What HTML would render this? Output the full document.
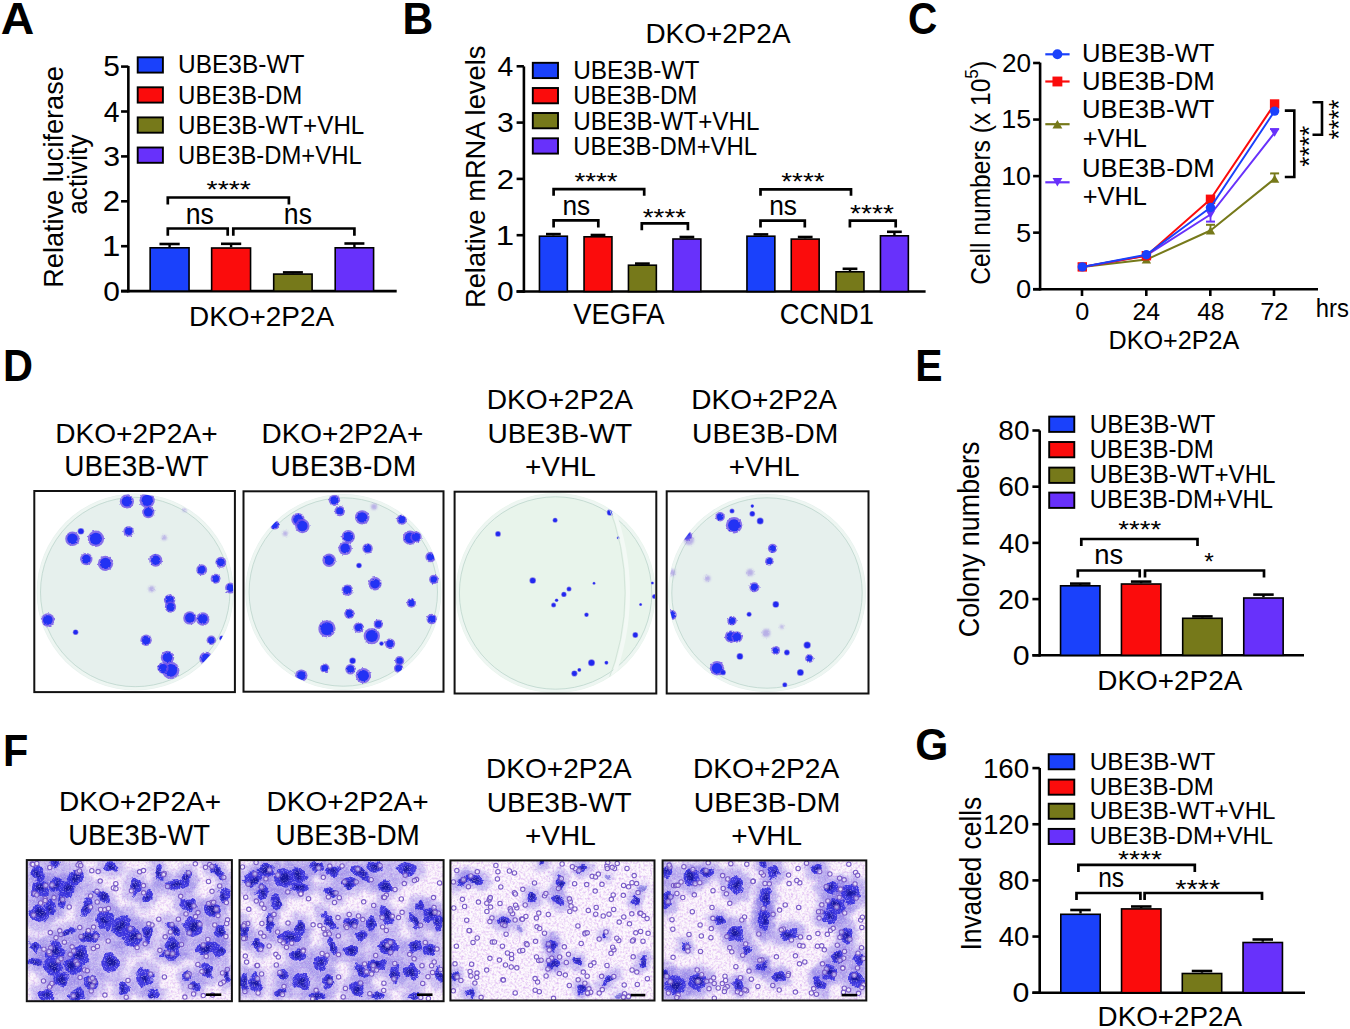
<!DOCTYPE html>
<html><head><meta charset="utf-8"><title>Figure</title>
<style>html,body{margin:0;padding:0;background:#fff;width:1350px;height:1029px;overflow:hidden}svg{display:block}text{font-family:"Liberation Sans",sans-serif}</style>
</head><body>
<svg width="1350" height="1029" viewBox="0 0 1350 1029" font-family="Liberation Sans, sans-serif">
<defs>
<filter id="blur1" x="-50%" y="-50%" width="200%" height="200%"><feGaussianBlur stdDeviation="0.8"/></filter>
<filter id="blur2" x="-50%" y="-50%" width="200%" height="200%"><feGaussianBlur stdDeviation="2"/></filter>
<filter id="tex1" x="0" y="0" width="100%" height="100%"><feTurbulence type="fractalNoise" baseFrequency="0.45" numOctaves="2" seed="1" result="n"/>
<feColorMatrix type="matrix" values="0 0 0 0 0.62  0 0 0 0 0.32  0 0 0 0 0.85  2.4 0 0 0 -1.0"/></filter>
<filter id="rough1" x="-10%" y="-10%" width="120%" height="120%"><feTurbulence type="fractalNoise" baseFrequency="0.12" numOctaves="2" seed="11" result="t"/>
<feDisplacementMap in="SourceGraphic" in2="t" scale="8" xChannelSelector="R" yChannelSelector="G"/><feGaussianBlur stdDeviation="0.7"/></filter>
<filter id="grain1" x="0" y="0" width="100%" height="100%"><feTurbulence type="fractalNoise" baseFrequency="0.8" numOctaves="1" seed="41"/>
<feColorMatrix type="matrix" values="0 0 0 0 0.93  0 0 0 0 0.8  0 0 0 0 0.95  3.0 0 0 0 -1.55"/></filter><filter id="tex2" x="0" y="0" width="100%" height="100%"><feTurbulence type="fractalNoise" baseFrequency="0.45" numOctaves="2" seed="2" result="n"/>
<feColorMatrix type="matrix" values="0 0 0 0 0.62  0 0 0 0 0.32  0 0 0 0 0.85  2.4 0 0 0 -1.0"/></filter>
<filter id="rough2" x="-10%" y="-10%" width="120%" height="120%"><feTurbulence type="fractalNoise" baseFrequency="0.12" numOctaves="2" seed="12" result="t"/>
<feDisplacementMap in="SourceGraphic" in2="t" scale="8" xChannelSelector="R" yChannelSelector="G"/><feGaussianBlur stdDeviation="0.7"/></filter>
<filter id="grain2" x="0" y="0" width="100%" height="100%"><feTurbulence type="fractalNoise" baseFrequency="0.8" numOctaves="1" seed="42"/>
<feColorMatrix type="matrix" values="0 0 0 0 0.93  0 0 0 0 0.8  0 0 0 0 0.95  3.0 0 0 0 -1.55"/></filter><filter id="tex3" x="0" y="0" width="100%" height="100%"><feTurbulence type="fractalNoise" baseFrequency="0.45" numOctaves="2" seed="3" result="n"/>
<feColorMatrix type="matrix" values="0 0 0 0 0.62  0 0 0 0 0.32  0 0 0 0 0.85  2.4 0 0 0 -1.0"/></filter>
<filter id="rough3" x="-10%" y="-10%" width="120%" height="120%"><feTurbulence type="fractalNoise" baseFrequency="0.12" numOctaves="2" seed="13" result="t"/>
<feDisplacementMap in="SourceGraphic" in2="t" scale="8" xChannelSelector="R" yChannelSelector="G"/><feGaussianBlur stdDeviation="0.7"/></filter>
<filter id="grain3" x="0" y="0" width="100%" height="100%"><feTurbulence type="fractalNoise" baseFrequency="0.8" numOctaves="1" seed="43"/>
<feColorMatrix type="matrix" values="0 0 0 0 0.93  0 0 0 0 0.8  0 0 0 0 0.95  3.0 0 0 0 -1.55"/></filter><filter id="tex4" x="0" y="0" width="100%" height="100%"><feTurbulence type="fractalNoise" baseFrequency="0.45" numOctaves="2" seed="4" result="n"/>
<feColorMatrix type="matrix" values="0 0 0 0 0.62  0 0 0 0 0.32  0 0 0 0 0.85  2.4 0 0 0 -1.0"/></filter>
<filter id="rough4" x="-10%" y="-10%" width="120%" height="120%"><feTurbulence type="fractalNoise" baseFrequency="0.12" numOctaves="2" seed="14" result="t"/>
<feDisplacementMap in="SourceGraphic" in2="t" scale="8" xChannelSelector="R" yChannelSelector="G"/><feGaussianBlur stdDeviation="0.7"/></filter>
<filter id="grain4" x="0" y="0" width="100%" height="100%"><feTurbulence type="fractalNoise" baseFrequency="0.8" numOctaves="1" seed="44"/>
<feColorMatrix type="matrix" values="0 0 0 0 0.93  0 0 0 0 0.8  0 0 0 0 0.95  3.0 0 0 0 -1.55"/></filter><filter id="prough1" x="-10%" y="-10%" width="120%" height="120%"><feTurbulence type="fractalNoise" baseFrequency="0.5" numOctaves="1" seed="21" result="t"/>
<feDisplacementMap in="SourceGraphic" in2="t" scale="2.5" xChannelSelector="R" yChannelSelector="G"/></filter><filter id="prough2" x="-10%" y="-10%" width="120%" height="120%"><feTurbulence type="fractalNoise" baseFrequency="0.5" numOctaves="1" seed="22" result="t"/>
<feDisplacementMap in="SourceGraphic" in2="t" scale="2.5" xChannelSelector="R" yChannelSelector="G"/></filter><filter id="prough3" x="-10%" y="-10%" width="120%" height="120%"><feTurbulence type="fractalNoise" baseFrequency="0.5" numOctaves="1" seed="23" result="t"/>
<feDisplacementMap in="SourceGraphic" in2="t" scale="2.5" xChannelSelector="R" yChannelSelector="G"/></filter><filter id="prough4" x="-10%" y="-10%" width="120%" height="120%"><feTurbulence type="fractalNoise" baseFrequency="0.5" numOctaves="1" seed="24" result="t"/>
<feDisplacementMap in="SourceGraphic" in2="t" scale="2.5" xChannelSelector="R" yChannelSelector="G"/></filter></defs>
<rect width="1350" height="1029" fill="#fff"/>
<rect x="33.3" y="490.0" width="202.6" height="203.1" fill="#fff"/>
<circle cx="135.2" cy="592.0" r="98.5" fill="#e6f0ed"/>
<circle cx="135.2" cy="592.0" r="96.5" fill="none" stroke="#eef6f2" stroke-width="3"/>
<circle cx="135.2" cy="592.0" r="94.7" fill="none" stroke="#bcd6cd" stroke-width="0.8"/>
<clipPath id="pc33"><circle cx="135.2" cy="592.0" r="98.0"/></clipPath>
<g clip-path="url(#pc33)"><g filter="url(#prough1)">
<circle cx="126.9" cy="501.4" r="7.1000000000000005" fill="#6f50e8" opacity="0.8"/>
<circle cx="126.9" cy="501.4" r="5.120000000000001" fill="#2430f4"/>
<circle cx="147.2" cy="500.3" r="7.7" fill="#6f50e8" opacity="0.8"/>
<circle cx="147.2" cy="500.3" r="5.6000000000000005" fill="#2430f4"/>
<circle cx="148.3" cy="512.1" r="6.2" fill="#6f50e8" opacity="0.8"/>
<circle cx="148.3" cy="512.1" r="4.4" fill="#2430f4"/>
<circle cx="184.6" cy="509.9" r="2" fill="#8a6fe0" opacity="0.5" filter="url(#blur1)"/>
<circle cx="128.6" cy="531.3" r="5.2" fill="#6f50e8" opacity="0.8"/>
<circle cx="128.6" cy="531.3" r="3.6" fill="#2430f4"/>
<circle cx="72.4" cy="538.8" r="7.2" fill="#6f50e8" opacity="0.8"/>
<circle cx="72.4" cy="538.8" r="5.2" fill="#2430f4"/>
<circle cx="95.9" cy="538.8" r="8.2" fill="#6f50e8" opacity="0.8"/>
<circle cx="95.9" cy="538.8" r="6.0" fill="#2430f4"/>
<circle cx="164.3" cy="537.7" r="2.5" fill="#8a6fe0" opacity="0.5" filter="url(#blur1)"/>
<circle cx="86.3" cy="559.1" r="6.2" fill="#6f50e8" opacity="0.8"/>
<circle cx="86.3" cy="559.1" r="4.4" fill="#2430f4"/>
<circle cx="105.5" cy="563.4" r="7.7" fill="#6f50e8" opacity="0.8"/>
<circle cx="105.5" cy="563.4" r="5.6000000000000005" fill="#2430f4"/>
<circle cx="155.7" cy="560.2" r="6.5" fill="#6f50e8" opacity="0.8"/>
<circle cx="155.7" cy="560.2" r="4.64" fill="#2430f4"/>
<circle cx="220.9" cy="562.3" r="5.5" fill="#6f50e8" opacity="0.8"/>
<circle cx="220.9" cy="562.3" r="3.84" fill="#2430f4"/>
<circle cx="201.7" cy="569.8" r="5.5" fill="#6f50e8" opacity="0.8"/>
<circle cx="201.7" cy="569.8" r="3.84" fill="#2430f4"/>
<circle cx="215.6" cy="578.8" r="5.0" fill="#6f50e8" opacity="0.8"/>
<circle cx="215.6" cy="578.8" r="3.44" fill="#2430f4"/>
<circle cx="230.6" cy="588" r="5.5" fill="#6f50e8" opacity="0.8"/>
<circle cx="230.6" cy="588" r="3.84" fill="#2430f4"/>
<circle cx="151.5" cy="589" r="3" fill="#8a6fe0" opacity="0.5" filter="url(#blur1)"/>
<circle cx="169.6" cy="600" r="5.7" fill="#6f50e8" opacity="0.8"/>
<circle cx="169.6" cy="600" r="4.0" fill="#2430f4"/>
<circle cx="170.5" cy="607" r="5.7" fill="#6f50e8" opacity="0.8"/>
<circle cx="170.5" cy="607" r="4.0" fill="#2430f4"/>
<circle cx="189.9" cy="617.9" r="6.7" fill="#6f50e8" opacity="0.8"/>
<circle cx="189.9" cy="617.9" r="4.800000000000001" fill="#2430f4"/>
<circle cx="202.8" cy="619" r="6.7" fill="#6f50e8" opacity="0.8"/>
<circle cx="202.8" cy="619" r="4.800000000000001" fill="#2430f4"/>
<circle cx="47.8" cy="620" r="6.7" fill="#6f50e8" opacity="0.8"/>
<circle cx="47.8" cy="620" r="4.800000000000001" fill="#2430f4"/>
<circle cx="146.1" cy="640.3" r="5.7" fill="#6f50e8" opacity="0.8"/>
<circle cx="146.1" cy="640.3" r="4.0" fill="#2430f4"/>
<circle cx="211.3" cy="640.3" r="4.7" fill="#6f50e8" opacity="0.8"/>
<circle cx="211.3" cy="640.3" r="3.2" fill="#2430f4"/>
<circle cx="167.5" cy="657.4" r="6.7" fill="#6f50e8" opacity="0.8"/>
<circle cx="167.5" cy="657.4" r="4.800000000000001" fill="#2430f4"/>
<circle cx="170.7" cy="670.3" r="8.7" fill="#6f50e8" opacity="0.8"/>
<circle cx="170.7" cy="670.3" r="6.4" fill="#2430f4"/>
<circle cx="206" cy="658.5" r="6.7" fill="#6f50e8" opacity="0.8"/>
<circle cx="206" cy="658.5" r="4.800000000000001" fill="#2430f4"/>
<circle cx="163" cy="668" r="5.7" fill="#6f50e8" opacity="0.8"/>
<circle cx="163" cy="668" r="4.0" fill="#2430f4"/>
</g>
<circle cx="80.9" cy="531.3" r="3.3" fill="#5a48ea" opacity="0.7"/>
<circle cx="80.9" cy="531.3" r="2.55" fill="#2028f0"/>
<circle cx="75.6" cy="632.2" r="2.8" fill="#5a48ea" opacity="0.7"/>
<circle cx="75.6" cy="632.2" r="2.125" fill="#2028f0"/>
<circle cx="222" cy="638.2" r="2.8" fill="#5a48ea" opacity="0.7"/>
<circle cx="222" cy="638.2" r="2.125" fill="#2028f0"/>
</g>
<rect x="34.3" y="491.0" width="200.6" height="201.1" fill="none" stroke="#111" stroke-width="2"/>
<rect x="242.5" y="490.3" width="202.0" height="202.4" fill="#fff"/>
<circle cx="343.3" cy="592.0" r="98.0" fill="#e6f0ed"/>
<circle cx="343.3" cy="592.0" r="96.0" fill="none" stroke="#eef6f2" stroke-width="3"/>
<circle cx="343.3" cy="592.0" r="94.2" fill="none" stroke="#bcd6cd" stroke-width="0.8"/>
<clipPath id="pc242"><circle cx="343.3" cy="592.0" r="97.5"/></clipPath>
<g clip-path="url(#pc242)"><g filter="url(#prough2)">
<circle cx="334.4" cy="500.3" r="5.7" fill="#6f50e8" opacity="0.8"/>
<circle cx="334.4" cy="500.3" r="4.0" fill="#2430f4"/>
<circle cx="339.8" cy="511" r="5.2" fill="#6f50e8" opacity="0.8"/>
<circle cx="339.8" cy="511" r="3.6" fill="#2430f4"/>
<circle cx="362.2" cy="517.4" r="7.2" fill="#6f50e8" opacity="0.8"/>
<circle cx="362.2" cy="517.4" r="5.2" fill="#2430f4"/>
<circle cx="374" cy="506.7" r="3" fill="#8a6fe0" opacity="0.5" filter="url(#blur1)"/>
<circle cx="401.8" cy="519.6" r="5.2" fill="#6f50e8" opacity="0.8"/>
<circle cx="401.8" cy="519.6" r="3.6" fill="#2430f4"/>
<circle cx="274.6" cy="524.9" r="4.7" fill="#6f50e8" opacity="0.8"/>
<circle cx="274.6" cy="524.9" r="3.2" fill="#2430f4"/>
<circle cx="298" cy="519.6" r="6.7" fill="#6f50e8" opacity="0.8"/>
<circle cx="298" cy="519.6" r="4.800000000000001" fill="#2430f4"/>
<circle cx="302.4" cy="526" r="7.2" fill="#6f50e8" opacity="0.8"/>
<circle cx="302.4" cy="526" r="5.2" fill="#2430f4"/>
<circle cx="285.2" cy="533.5" r="2.5" fill="#8a6fe0" opacity="0.5" filter="url(#blur1)"/>
<circle cx="348.3" cy="536.7" r="6.7" fill="#6f50e8" opacity="0.8"/>
<circle cx="348.3" cy="536.7" r="4.800000000000001" fill="#2430f4"/>
<circle cx="345.1" cy="548.4" r="6.7" fill="#6f50e8" opacity="0.8"/>
<circle cx="345.1" cy="548.4" r="4.800000000000001" fill="#2430f4"/>
<circle cx="367.6" cy="548.4" r="5.2" fill="#6f50e8" opacity="0.8"/>
<circle cx="367.6" cy="548.4" r="3.6" fill="#2430f4"/>
<circle cx="410" cy="537.7" r="7.2" fill="#6f50e8" opacity="0.8"/>
<circle cx="410" cy="537.7" r="5.2" fill="#2430f4"/>
<circle cx="416" cy="537" r="5.7" fill="#6f50e8" opacity="0.8"/>
<circle cx="416" cy="537" r="4.0" fill="#2430f4"/>
<circle cx="430.6" cy="557" r="5.2" fill="#6f50e8" opacity="0.8"/>
<circle cx="430.6" cy="557" r="3.6" fill="#2430f4"/>
<circle cx="329.1" cy="560.2" r="6.7" fill="#6f50e8" opacity="0.8"/>
<circle cx="329.1" cy="560.2" r="4.800000000000001" fill="#2430f4"/>
<circle cx="375" cy="583.7" r="6.7" fill="#6f50e8" opacity="0.8"/>
<circle cx="375" cy="583.7" r="4.800000000000001" fill="#2430f4"/>
<circle cx="433.8" cy="579.4" r="4.7" fill="#6f50e8" opacity="0.8"/>
<circle cx="433.8" cy="579.4" r="3.2" fill="#2430f4"/>
<circle cx="347.3" cy="590.1" r="5.7" fill="#6f50e8" opacity="0.8"/>
<circle cx="347.3" cy="590.1" r="4.0" fill="#2430f4"/>
<circle cx="411.4" cy="603" r="4.7" fill="#6f50e8" opacity="0.8"/>
<circle cx="411.4" cy="603" r="3.2" fill="#2430f4"/>
<circle cx="349.4" cy="613.6" r="5.2" fill="#6f50e8" opacity="0.8"/>
<circle cx="349.4" cy="613.6" r="3.6" fill="#2430f4"/>
<circle cx="431.7" cy="619" r="5.2" fill="#6f50e8" opacity="0.8"/>
<circle cx="431.7" cy="619" r="3.6" fill="#2430f4"/>
<circle cx="326.9" cy="628.6" r="8.7" fill="#6f50e8" opacity="0.8"/>
<circle cx="326.9" cy="628.6" r="6.4" fill="#2430f4"/>
<circle cx="358.6" cy="627.5" r="5.2" fill="#6f50e8" opacity="0.8"/>
<circle cx="358.6" cy="627.5" r="3.6" fill="#2430f4"/>
<circle cx="378.3" cy="624.3" r="4.7" fill="#6f50e8" opacity="0.8"/>
<circle cx="378.3" cy="624.3" r="3.2" fill="#2430f4"/>
<circle cx="371.8" cy="636.1" r="8.2" fill="#6f50e8" opacity="0.8"/>
<circle cx="371.8" cy="636.1" r="6.0" fill="#2430f4"/>
<circle cx="390" cy="643.6" r="5.2" fill="#6f50e8" opacity="0.8"/>
<circle cx="390" cy="643.6" r="3.6" fill="#2430f4"/>
<circle cx="399.6" cy="660.7" r="4.7" fill="#6f50e8" opacity="0.8"/>
<circle cx="399.6" cy="660.7" r="3.2" fill="#2430f4"/>
<circle cx="398.6" cy="668.2" r="4.7" fill="#6f50e8" opacity="0.8"/>
<circle cx="398.6" cy="668.2" r="3.2" fill="#2430f4"/>
<circle cx="350.5" cy="669.2" r="5.2" fill="#6f50e8" opacity="0.8"/>
<circle cx="350.5" cy="669.2" r="3.6" fill="#2430f4"/>
<circle cx="324.8" cy="668.2" r="4.7" fill="#6f50e8" opacity="0.8"/>
<circle cx="324.8" cy="668.2" r="3.2" fill="#2430f4"/>
<circle cx="363.3" cy="675.6" r="7.7" fill="#6f50e8" opacity="0.8"/>
<circle cx="363.3" cy="675.6" r="5.6000000000000005" fill="#2430f4"/>
<circle cx="301.3" cy="675.6" r="6.2" fill="#6f50e8" opacity="0.8"/>
<circle cx="301.3" cy="675.6" r="4.4" fill="#2430f4"/>
</g>
<circle cx="359" cy="565.5" r="2.8" fill="#5a48ea" opacity="0.7"/>
<circle cx="359" cy="565.5" r="2.125" fill="#2028f0"/>
<circle cx="381.5" cy="643.6" r="2.3" fill="#5a48ea" opacity="0.7"/>
<circle cx="381.5" cy="643.6" r="1.7" fill="#2028f0"/>
<circle cx="352.6" cy="660.7" r="3.3" fill="#5a48ea" opacity="0.7"/>
<circle cx="352.6" cy="660.7" r="2.55" fill="#2028f0"/>
</g>
<rect x="243.5" y="491.3" width="200.0" height="200.4" fill="none" stroke="#111" stroke-width="2"/>
<rect x="453.6" y="490.7" width="203.7" height="203.8" fill="#fff"/>
<circle cx="555.6" cy="593.0" r="100.0" fill="#e8f4eb"/>
<circle cx="555.6" cy="593.0" r="98.0" fill="none" stroke="#eef6f2" stroke-width="3"/>
<circle cx="555.6" cy="593.0" r="96.2" fill="none" stroke="#bcd6cd" stroke-width="0.8"/>
<clipPath id="pc453"><circle cx="555.6" cy="593.0" r="99.5"/></clipPath>
<g clip-path="url(#pc453)"><g filter="url(#prough3)">
</g>
<circle cx="498" cy="533.9" r="2.9" fill="#5a48ea" opacity="0.7"/>
<circle cx="498" cy="533.9" r="2.21" fill="#2028f0"/>
<circle cx="555.1" cy="520.2" r="2.5" fill="#5a48ea" opacity="0.7"/>
<circle cx="555.1" cy="520.2" r="1.87" fill="#2028f0"/>
<circle cx="610.1" cy="512.5" r="3.3" fill="#5a48ea" opacity="0.7"/>
<circle cx="610.1" cy="512.5" r="2.55" fill="#2028f0"/>
<circle cx="532.7" cy="580.5" r="3.3" fill="#5a48ea" opacity="0.7"/>
<circle cx="532.7" cy="580.5" r="2.55" fill="#2028f0"/>
<circle cx="569" cy="589" r="2.5" fill="#5a48ea" opacity="0.7"/>
<circle cx="569" cy="589" r="1.87" fill="#2028f0"/>
<circle cx="563.9" cy="594.4" r="2.6999999999999997" fill="#5a48ea" opacity="0.7"/>
<circle cx="563.9" cy="594.4" r="2.04" fill="#2028f0"/>
<circle cx="556.6" cy="600.2" r="1.8" fill="#5a48ea" opacity="0.7"/>
<circle cx="556.6" cy="600.2" r="1.275" fill="#2028f0"/>
<circle cx="553.6" cy="605" r="2.5" fill="#5a48ea" opacity="0.7"/>
<circle cx="553.6" cy="605" r="1.87" fill="#2028f0"/>
<circle cx="586.5" cy="614.7" r="2.3" fill="#5a48ea" opacity="0.7"/>
<circle cx="586.5" cy="614.7" r="1.7" fill="#2028f0"/>
<circle cx="594" cy="583.3" r="1.5" fill="#5a48ea" opacity="0.7"/>
<circle cx="594" cy="583.3" r="1.02" fill="#2028f0"/>
<circle cx="618.2" cy="537.7" r="1.5" fill="#5a48ea" opacity="0.7"/>
<circle cx="618.2" cy="537.7" r="1.02" fill="#2028f0"/>
<circle cx="654.5" cy="596.5" r="2.5" fill="#5a48ea" opacity="0.7"/>
<circle cx="654.5" cy="596.5" r="1.87" fill="#2028f0"/>
<circle cx="652.4" cy="583" r="1.5" fill="#5a48ea" opacity="0.7"/>
<circle cx="652.4" cy="583" r="1.02" fill="#2028f0"/>
<circle cx="640.6" cy="604.4" r="1.5" fill="#5a48ea" opacity="0.7"/>
<circle cx="640.6" cy="604.4" r="1.02" fill="#2028f0"/>
<circle cx="635.3" cy="635" r="2.9" fill="#5a48ea" opacity="0.7"/>
<circle cx="635.3" cy="635" r="2.21" fill="#2028f0"/>
<circle cx="591.5" cy="662.8" r="3.5" fill="#5a48ea" opacity="0.7"/>
<circle cx="591.5" cy="662.8" r="2.72" fill="#2028f0"/>
<circle cx="606.4" cy="662.8" r="2.0" fill="#5a48ea" opacity="0.7"/>
<circle cx="606.4" cy="662.8" r="1.4449999999999998" fill="#2028f0"/>
<circle cx="574.4" cy="673.5" r="3.0999999999999996" fill="#5a48ea" opacity="0.7"/>
<circle cx="574.4" cy="673.5" r="2.38" fill="#2028f0"/>
<circle cx="579.3" cy="669.9" r="2.0" fill="#5a48ea" opacity="0.7"/>
<circle cx="579.3" cy="669.9" r="1.4449999999999998" fill="#2028f0"/>
<circle cx="387.6" cy="593" r="240.4" fill="none" stroke="#f3f9f5" stroke-width="4"/>
<circle cx="387.6" cy="593" r="237.5" fill="none" stroke="#cfe2d6" stroke-width="0.9"/>
</g>
<rect x="454.6" y="491.7" width="201.7" height="201.8" fill="none" stroke="#111" stroke-width="2"/>
<rect x="665.7" y="490.3" width="203.8" height="204.2" fill="#fff"/>
<circle cx="767.0" cy="593.0" r="99.0" fill="#e6f0ed"/>
<circle cx="767.0" cy="593.0" r="97.0" fill="none" stroke="#eef6f2" stroke-width="3"/>
<circle cx="767.0" cy="593.0" r="95.2" fill="none" stroke="#bcd6cd" stroke-width="0.8"/>
<clipPath id="pc665"><circle cx="767.0" cy="593.0" r="98.5"/></clipPath>
<g clip-path="url(#pc665)"><g filter="url(#prough4)">
<circle cx="720.2" cy="516.8" r="4.7" fill="#6f50e8" opacity="0.8"/>
<circle cx="720.2" cy="516.8" r="3.2" fill="#2430f4"/>
<circle cx="734.1" cy="525.3" r="8.2" fill="#6f50e8" opacity="0.8"/>
<circle cx="734.1" cy="525.3" r="6.0" fill="#2430f4"/>
<circle cx="687.1" cy="536" r="5.0" fill="#6f50e8" opacity="0.8"/>
<circle cx="687.1" cy="536" r="3.44" fill="#2430f4"/>
<circle cx="689" cy="540" r="5" fill="#8a6fe0" opacity="0.5" filter="url(#blur1)"/>
<circle cx="772.6" cy="548.4" r="4.7" fill="#6f50e8" opacity="0.8"/>
<circle cx="772.6" cy="548.4" r="3.2" fill="#2430f4"/>
<circle cx="769.4" cy="561.2" r="4.3" fill="#6f50e8" opacity="0.8"/>
<circle cx="769.4" cy="561.2" r="2.8800000000000003" fill="#2430f4"/>
<circle cx="750.1" cy="572.4" r="3.5" fill="#8a6fe0" opacity="0.5" filter="url(#blur1)"/>
<circle cx="707.4" cy="578.4" r="3" fill="#8a6fe0" opacity="0.5" filter="url(#blur1)"/>
<circle cx="671.7" cy="572.4" r="3.5" fill="#8a6fe0" opacity="0.5" filter="url(#blur1)"/>
<circle cx="754.4" cy="587.3" r="5.0" fill="#6f50e8" opacity="0.8"/>
<circle cx="754.4" cy="587.3" r="3.44" fill="#2430f4"/>
<circle cx="671.7" cy="615.1" r="5.0" fill="#6f50e8" opacity="0.8"/>
<circle cx="671.7" cy="615.1" r="3.44" fill="#2430f4"/>
<circle cx="732" cy="620.7" r="4.7" fill="#6f50e8" opacity="0.8"/>
<circle cx="732" cy="620.7" r="3.2" fill="#2430f4"/>
<circle cx="731" cy="636.7" r="6.2" fill="#6f50e8" opacity="0.8"/>
<circle cx="731" cy="636.7" r="4.4" fill="#2430f4"/>
<circle cx="737" cy="637" r="5.7" fill="#6f50e8" opacity="0.8"/>
<circle cx="737" cy="637" r="4.0" fill="#2430f4"/>
<circle cx="766.2" cy="632.9" r="4" fill="#8a6fe0" opacity="0.5" filter="url(#blur1)"/>
<circle cx="781.8" cy="626.7" r="2" fill="#8a6fe0" opacity="0.5" filter="url(#blur1)"/>
<circle cx="775.8" cy="650.4" r="4.3" fill="#6f50e8" opacity="0.8"/>
<circle cx="775.8" cy="650.4" r="2.8800000000000003" fill="#2430f4"/>
<circle cx="809.4" cy="658.5" r="4.3" fill="#6f50e8" opacity="0.8"/>
<circle cx="809.4" cy="658.5" r="2.8800000000000003" fill="#2430f4"/>
<circle cx="717" cy="668.2" r="7.2" fill="#6f50e8" opacity="0.8"/>
<circle cx="717" cy="668.2" r="5.2" fill="#2430f4"/>
</g>
<circle cx="732" cy="511" r="2.5" fill="#5a48ea" opacity="0.7"/>
<circle cx="732" cy="511" r="1.87" fill="#2028f0"/>
<circle cx="752.3" cy="513.8" r="2.9" fill="#5a48ea" opacity="0.7"/>
<circle cx="752.3" cy="513.8" r="2.21" fill="#2028f0"/>
<circle cx="752.3" cy="506.1" r="1.8" fill="#5a48ea" opacity="0.7"/>
<circle cx="752.3" cy="506.1" r="1.275" fill="#2028f0"/>
<circle cx="760.2" cy="521" r="3.5" fill="#5a48ea" opacity="0.7"/>
<circle cx="760.2" cy="521" r="2.72" fill="#2028f0"/>
<circle cx="775.8" cy="604.4" r="3.3" fill="#5a48ea" opacity="0.7"/>
<circle cx="775.8" cy="604.4" r="2.55" fill="#2028f0"/>
<circle cx="749.1" cy="614.3" r="2.5" fill="#5a48ea" opacity="0.7"/>
<circle cx="749.1" cy="614.3" r="1.87" fill="#2028f0"/>
<circle cx="786.9" cy="652.5" r="2.9" fill="#5a48ea" opacity="0.7"/>
<circle cx="786.9" cy="652.5" r="2.21" fill="#2028f0"/>
<circle cx="807.2" cy="645.1" r="3.6999999999999997" fill="#5a48ea" opacity="0.7"/>
<circle cx="807.2" cy="645.1" r="2.8899999999999997" fill="#2028f0"/>
<circle cx="739.9" cy="656.4" r="3.3" fill="#5a48ea" opacity="0.7"/>
<circle cx="739.9" cy="656.4" r="2.55" fill="#2028f0"/>
<circle cx="723" cy="672.4" r="2.9" fill="#5a48ea" opacity="0.7"/>
<circle cx="723" cy="672.4" r="2.21" fill="#2028f0"/>
<circle cx="800.4" cy="672.4" r="3.5" fill="#5a48ea" opacity="0.7"/>
<circle cx="800.4" cy="672.4" r="2.72" fill="#2028f0"/>
<circle cx="784.8" cy="684.8" r="2.5" fill="#5a48ea" opacity="0.7"/>
<circle cx="784.8" cy="684.8" r="1.87" fill="#2028f0"/>
</g>
<rect x="666.7" y="491.3" width="201.8" height="202.2" fill="none" stroke="#111" stroke-width="2"/>
<svg x="26.8" y="860.1" width="205.1" height="141.10000000000002" viewBox="0 0 205.1 141.10000000000002" overflow="hidden">
<rect width="205.1" height="141.10000000000002" fill="#fcf7fc"/>
<rect width="205.1" height="141.10000000000002" filter="url(#tex1)" opacity="0.6"/>
<g filter="url(#rough1)">
<ellipse cx="11.9" cy="13.4" rx="12.4" ry="18.0" transform="rotate(-20 11.9 13.4)" fill="#7060e0" opacity="0.34" filter="url(#blur2)"/>
<ellipse cx="28.8" cy="3.5" rx="11.3" ry="9.1" transform="rotate(0 28.8 3.5)" fill="#7060e0" opacity="0.34" filter="url(#blur2)"/>
<ellipse cx="48.5" cy="17.6" rx="15.8" ry="15.8" transform="rotate(0 48.5 17.6)" fill="#7060e0" opacity="0.34" filter="url(#blur2)"/>
<ellipse cx="83.8" cy="6.4" rx="15.8" ry="11.3" transform="rotate(0 83.8 6.4)" fill="#7060e0" opacity="0.34" filter="url(#blur2)"/>
<ellipse cx="13.3" cy="28.9" rx="18.0" ry="18.0" transform="rotate(0 13.3 28.9)" fill="#7060e0" opacity="0.34" filter="url(#blur2)"/>
<ellipse cx="28.8" cy="24.7" rx="13.5" ry="13.5" transform="rotate(0 28.8 24.7)" fill="#7060e0" opacity="0.34" filter="url(#blur2)"/>
<ellipse cx="40.1" cy="28.9" rx="15.8" ry="15.8" transform="rotate(0 40.1 28.9)" fill="#7060e0" opacity="0.34" filter="url(#blur2)"/>
<ellipse cx="34.4" cy="40.2" rx="9.1" ry="16.9" transform="rotate(0 34.4 40.2)" fill="#7060e0" opacity="0.34" filter="url(#blur2)"/>
<ellipse cx="23.2" cy="47.2" rx="12.4" ry="15.8" transform="rotate(0 23.2 47.2)" fill="#7060e0" opacity="0.34" filter="url(#blur2)"/>
<ellipse cx="11.9" cy="54.3" rx="18.0" ry="18.0" transform="rotate(0 11.9 54.3)" fill="#7060e0" opacity="0.34" filter="url(#blur2)"/>
<ellipse cx="59.8" cy="47.2" rx="11.3" ry="19.1" transform="rotate(20 59.8 47.2)" fill="#7060e0" opacity="0.34" filter="url(#blur2)"/>
<ellipse cx="75.3" cy="35.9" rx="19.1" ry="10.2" transform="rotate(40 75.3 35.9)" fill="#7060e0" opacity="0.34" filter="url(#blur2)"/>
<ellipse cx="78.1" cy="59.9" rx="19.1" ry="18.0" transform="rotate(0 78.1 59.9)" fill="#7060e0" opacity="0.34" filter="url(#blur2)"/>
<ellipse cx="95.0" cy="66.9" rx="18.0" ry="22.4" transform="rotate(20 95.0 66.9)" fill="#7060e0" opacity="0.34" filter="url(#blur2)"/>
<ellipse cx="40.1" cy="71.2" rx="18.0" ry="9.1" transform="rotate(-15 40.1 71.2)" fill="#7060e0" opacity="0.34" filter="url(#blur2)"/>
<ellipse cx="62.6" cy="76.9" rx="19.1" ry="11.3" transform="rotate(0 62.6 76.9)" fill="#7060e0" opacity="0.34" filter="url(#blur2)"/>
<ellipse cx="7.7" cy="86.7" rx="13.5" ry="11.3" transform="rotate(0 7.7 86.7)" fill="#7060e0" opacity="0.34" filter="url(#blur2)"/>
<ellipse cx="28.8" cy="90.9" rx="19.1" ry="19.1" transform="rotate(0 28.8 90.9)" fill="#7060e0" opacity="0.34" filter="url(#blur2)"/>
<ellipse cx="52.7" cy="95.1" rx="19.1" ry="19.1" transform="rotate(0 52.7 95.1)" fill="#7060e0" opacity="0.34" filter="url(#blur2)"/>
<ellipse cx="83.8" cy="102.2" rx="16.9" ry="20.2" transform="rotate(0 83.8 102.2)" fill="#7060e0" opacity="0.34" filter="url(#blur2)"/>
<ellipse cx="26.0" cy="106.4" rx="18.0" ry="18.0" transform="rotate(0 26.0 106.4)" fill="#7060e0" opacity="0.34" filter="url(#blur2)"/>
<ellipse cx="45.7" cy="106.4" rx="16.9" ry="16.9" transform="rotate(0 45.7 106.4)" fill="#7060e0" opacity="0.34" filter="url(#blur2)"/>
<ellipse cx="7.7" cy="102.2" rx="15.8" ry="9.1" transform="rotate(0 7.7 102.2)" fill="#7060e0" opacity="0.34" filter="url(#blur2)"/>
<ellipse cx="34.4" cy="119.1" rx="15.8" ry="13.5" transform="rotate(0 34.4 119.1)" fill="#7060e0" opacity="0.34" filter="url(#blur2)"/>
<ellipse cx="64.0" cy="121.9" rx="15.8" ry="15.8" transform="rotate(0 64.0 121.9)" fill="#7060e0" opacity="0.34" filter="url(#blur2)"/>
<ellipse cx="96.4" cy="128.9" rx="12.4" ry="12.4" transform="rotate(0 96.4 128.9)" fill="#7060e0" opacity="0.34" filter="url(#blur2)"/>
<ellipse cx="18.9" cy="134.6" rx="15.8" ry="13.5" transform="rotate(0 18.9 134.6)" fill="#7060e0" opacity="0.34" filter="url(#blur2)"/>
<ellipse cx="49.9" cy="134.6" rx="15.8" ry="13.5" transform="rotate(0 49.9 134.6)" fill="#7060e0" opacity="0.34" filter="url(#blur2)"/>
<ellipse cx="132.2" cy="12.0" rx="9.1" ry="18.0" transform="rotate(-20 132.2 12.0)" fill="#7060e0" opacity="0.34" filter="url(#blur2)"/>
<ellipse cx="149.1" cy="24.7" rx="22.4" ry="12.4" transform="rotate(0 149.1 24.7)" fill="#7060e0" opacity="0.34" filter="url(#blur2)"/>
<ellipse cx="160.4" cy="17.6" rx="10.2" ry="14.7" transform="rotate(0 160.4 17.6)" fill="#7060e0" opacity="0.34" filter="url(#blur2)"/>
<ellipse cx="190.0" cy="10.6" rx="9.1" ry="20.2" transform="rotate(-45 190.0 10.6)" fill="#7060e0" opacity="0.34" filter="url(#blur2)"/>
<ellipse cx="108.2" cy="26.1" rx="12.4" ry="16.9" transform="rotate(0 108.2 26.1)" fill="#7060e0" opacity="0.34" filter="url(#blur2)"/>
<ellipse cx="120.9" cy="35.9" rx="10.2" ry="15.8" transform="rotate(30 120.9 35.9)" fill="#7060e0" opacity="0.34" filter="url(#blur2)"/>
<ellipse cx="161.8" cy="44.4" rx="16.9" ry="12.4" transform="rotate(0 161.8 44.4)" fill="#7060e0" opacity="0.34" filter="url(#blur2)"/>
<ellipse cx="185.8" cy="50.0" rx="15.8" ry="14.7" transform="rotate(0 185.8 50.0)" fill="#7060e0" opacity="0.34" filter="url(#blur2)"/>
<ellipse cx="197.0" cy="34.5" rx="10.2" ry="15.8" transform="rotate(0 197.0 34.5)" fill="#7060e0" opacity="0.34" filter="url(#blur2)"/>
<ellipse cx="105.4" cy="76.9" rx="16.9" ry="20.2" transform="rotate(0 105.4 76.9)" fill="#7060e0" opacity="0.34" filter="url(#blur2)"/>
<ellipse cx="120.9" cy="74.0" rx="10.2" ry="18.0" transform="rotate(0 120.9 74.0)" fill="#7060e0" opacity="0.34" filter="url(#blur2)"/>
<ellipse cx="146.3" cy="68.4" rx="10.2" ry="18.0" transform="rotate(-40 146.3 68.4)" fill="#7060e0" opacity="0.34" filter="url(#blur2)"/>
<ellipse cx="166.0" cy="67.0" rx="19.1" ry="19.1" transform="rotate(0 166.0 67.0)" fill="#7060e0" opacity="0.34" filter="url(#blur2)"/>
<ellipse cx="192.8" cy="71.2" rx="11.3" ry="14.7" transform="rotate(0 192.8 71.2)" fill="#7060e0" opacity="0.34" filter="url(#blur2)"/>
<ellipse cx="146.3" cy="85.3" rx="15.8" ry="15.8" transform="rotate(0 146.3 85.3)" fill="#7060e0" opacity="0.34" filter="url(#blur2)"/>
<ellipse cx="143.5" cy="95.1" rx="18.0" ry="10.2" transform="rotate(0 143.5 95.1)" fill="#7060e0" opacity="0.34" filter="url(#blur2)"/>
<ellipse cx="180.1" cy="88.1" rx="22.4" ry="12.4" transform="rotate(-20 180.1 88.1)" fill="#7060e0" opacity="0.34" filter="url(#blur2)"/>
<ellipse cx="192.8" cy="90.9" rx="13.5" ry="13.5" transform="rotate(0 192.8 90.9)" fill="#7060e0" opacity="0.34" filter="url(#blur2)"/>
<ellipse cx="118.1" cy="117.7" rx="15.8" ry="19.1" transform="rotate(0 118.1 117.7)" fill="#7060e0" opacity="0.34" filter="url(#blur2)"/>
<ellipse cx="180.1" cy="110.7" rx="12.4" ry="15.8" transform="rotate(0 180.1 110.7)" fill="#7060e0" opacity="0.34" filter="url(#blur2)"/>
<ellipse cx="167.4" cy="126.2" rx="13.5" ry="11.3" transform="rotate(0 167.4 126.2)" fill="#7060e0" opacity="0.34" filter="url(#blur2)"/>
<ellipse cx="199.9" cy="114.9" rx="9.1" ry="15.8" transform="rotate(0 199.9 114.9)" fill="#7060e0" opacity="0.34" filter="url(#blur2)"/>
<ellipse cx="126.6" cy="134.6" rx="13.5" ry="9.1" transform="rotate(0 126.6 134.6)" fill="#7060e0" opacity="0.34" filter="url(#blur2)"/>
<ellipse cx="160.4" cy="114.9" rx="11.3" ry="9.1" transform="rotate(0 160.4 114.9)" fill="#7060e0" opacity="0.34" filter="url(#blur2)"/>
<ellipse cx="11.9" cy="13.4" rx="5.9" ry="9.1" transform="rotate(-20 11.9 13.4)" fill="#3a34de" opacity="0.95"/>
<ellipse cx="11.2" cy="14.1" rx="2.6" ry="4.1" transform="rotate(-20 11.9 13.4)" fill="#10108e" opacity="0.80" filter="url(#blur1)"/>
<ellipse cx="28.8" cy="3.5" rx="5.2" ry="3.9" transform="rotate(0 28.8 3.5)" fill="#3a34de" opacity="0.95"/>
<ellipse cx="29.3" cy="3.0" rx="2.3" ry="1.8" transform="rotate(0 28.8 3.5)" fill="#10108e" opacity="0.80" filter="url(#blur1)"/>
<ellipse cx="48.5" cy="17.6" rx="7.8" ry="7.8" transform="rotate(0 48.5 17.6)" fill="#3a34de" opacity="0.95"/>
<ellipse cx="48.5" cy="17.5" rx="3.5" ry="3.5" transform="rotate(0 48.5 17.6)" fill="#10108e" opacity="0.80" filter="url(#blur1)"/>
<ellipse cx="83.8" cy="6.4" rx="7.8" ry="5.2" transform="rotate(0 83.8 6.4)" fill="#3a34de" opacity="0.95"/>
<ellipse cx="84.1" cy="7.0" rx="3.5" ry="2.3" transform="rotate(0 83.8 6.4)" fill="#10108e" opacity="0.80" filter="url(#blur1)"/>
<ellipse cx="13.3" cy="28.9" rx="9.1" ry="9.1" transform="rotate(0 13.3 28.9)" fill="#3a34de" opacity="0.95"/>
<ellipse cx="12.5" cy="28.0" rx="4.1" ry="4.1" transform="rotate(0 13.3 28.9)" fill="#10108e" opacity="0.80" filter="url(#blur1)"/>
<ellipse cx="28.8" cy="24.7" rx="6.5" ry="6.5" transform="rotate(0 28.8 24.7)" fill="#3a34de" opacity="0.95"/>
<ellipse cx="29.5" cy="24.6" rx="2.9" ry="2.9" transform="rotate(0 28.8 24.7)" fill="#10108e" opacity="0.80" filter="url(#blur1)"/>
<ellipse cx="40.1" cy="28.9" rx="7.8" ry="7.8" transform="rotate(0 40.1 28.9)" fill="#3a34de" opacity="0.95"/>
<ellipse cx="40.6" cy="27.9" rx="3.5" ry="3.5" transform="rotate(0 40.1 28.9)" fill="#10108e" opacity="0.80" filter="url(#blur1)"/>
<ellipse cx="34.4" cy="40.2" rx="3.9" ry="8.5" transform="rotate(0 34.4 40.2)" fill="#3a34de" opacity="0.95"/>
<ellipse cx="34.3" cy="40.6" rx="1.8" ry="3.8" transform="rotate(0 34.4 40.2)" fill="#10108e" opacity="0.80" filter="url(#blur1)"/>
<ellipse cx="23.2" cy="47.2" rx="5.9" ry="7.8" transform="rotate(0 23.2 47.2)" fill="#3a34de" opacity="0.95"/>
<ellipse cx="22.7" cy="48.1" rx="2.6" ry="3.5" transform="rotate(0 23.2 47.2)" fill="#10108e" opacity="0.80" filter="url(#blur1)"/>
<ellipse cx="11.9" cy="54.3" rx="9.1" ry="9.1" transform="rotate(0 11.9 54.3)" fill="#3a34de" opacity="0.95"/>
<ellipse cx="12.7" cy="53.4" rx="4.1" ry="4.1" transform="rotate(0 11.9 54.3)" fill="#10108e" opacity="0.80" filter="url(#blur1)"/>
<ellipse cx="59.8" cy="47.2" rx="5.2" ry="9.8" transform="rotate(20 59.8 47.2)" fill="#3a34de" opacity="0.95"/>
<ellipse cx="58.9" cy="47.3" rx="2.3" ry="4.4" transform="rotate(20 59.8 47.2)" fill="#10108e" opacity="0.80" filter="url(#blur1)"/>
<ellipse cx="75.3" cy="35.9" rx="9.8" ry="4.5" transform="rotate(40 75.3 35.9)" fill="#3a34de" opacity="0.95"/>
<ellipse cx="76.2" cy="35.7" rx="4.4" ry="2.0" transform="rotate(40 75.3 35.9)" fill="#10108e" opacity="0.80" filter="url(#blur1)"/>
<ellipse cx="78.1" cy="59.9" rx="9.8" ry="9.1" transform="rotate(0 78.1 59.9)" fill="#3a34de" opacity="0.95"/>
<ellipse cx="77.5" cy="59.7" rx="4.4" ry="4.1" transform="rotate(0 78.1 59.9)" fill="#10108e" opacity="0.80" filter="url(#blur1)"/>
<ellipse cx="95.0" cy="66.9" rx="9.1" ry="11.7" transform="rotate(20 95.0 66.9)" fill="#3a34de" opacity="0.95"/>
<ellipse cx="94.1" cy="66.3" rx="4.1" ry="5.3" transform="rotate(20 95.0 66.9)" fill="#10108e" opacity="0.80" filter="url(#blur1)"/>
<ellipse cx="40.1" cy="71.2" rx="9.1" ry="3.9" transform="rotate(-15 40.1 71.2)" fill="#3a34de" opacity="0.95"/>
<ellipse cx="40.0" cy="71.2" rx="4.1" ry="1.8" transform="rotate(-15 40.1 71.2)" fill="#10108e" opacity="0.80" filter="url(#blur1)"/>
<ellipse cx="62.6" cy="76.9" rx="9.8" ry="5.2" transform="rotate(0 62.6 76.9)" fill="#3a34de" opacity="0.95"/>
<ellipse cx="62.1" cy="76.4" rx="4.4" ry="2.3" transform="rotate(0 62.6 76.9)" fill="#10108e" opacity="0.80" filter="url(#blur1)"/>
<ellipse cx="7.7" cy="86.7" rx="6.5" ry="5.2" transform="rotate(0 7.7 86.7)" fill="#3a34de" opacity="0.95"/>
<ellipse cx="7.1" cy="86.6" rx="2.9" ry="2.3" transform="rotate(0 7.7 86.7)" fill="#10108e" opacity="0.80" filter="url(#blur1)"/>
<ellipse cx="28.8" cy="90.9" rx="9.8" ry="9.8" transform="rotate(0 28.8 90.9)" fill="#3a34de" opacity="0.95"/>
<ellipse cx="28.4" cy="89.9" rx="4.4" ry="4.4" transform="rotate(0 28.8 90.9)" fill="#10108e" opacity="0.80" filter="url(#blur1)"/>
<ellipse cx="52.7" cy="95.1" rx="9.8" ry="9.8" transform="rotate(0 52.7 95.1)" fill="#3a34de" opacity="0.95"/>
<ellipse cx="53.4" cy="95.2" rx="4.4" ry="4.4" transform="rotate(0 52.7 95.1)" fill="#10108e" opacity="0.80" filter="url(#blur1)"/>
<ellipse cx="83.8" cy="102.2" rx="8.5" ry="10.4" transform="rotate(0 83.8 102.2)" fill="#3a34de" opacity="0.95"/>
<ellipse cx="84.1" cy="101.6" rx="3.8" ry="4.7" transform="rotate(0 83.8 102.2)" fill="#10108e" opacity="0.80" filter="url(#blur1)"/>
<ellipse cx="26.0" cy="106.4" rx="9.1" ry="9.1" transform="rotate(0 26.0 106.4)" fill="#3a34de" opacity="0.95"/>
<ellipse cx="27.0" cy="107.1" rx="4.1" ry="4.1" transform="rotate(0 26.0 106.4)" fill="#10108e" opacity="0.80" filter="url(#blur1)"/>
<ellipse cx="45.7" cy="106.4" rx="8.5" ry="8.5" transform="rotate(0 45.7 106.4)" fill="#3a34de" opacity="0.95"/>
<ellipse cx="44.9" cy="106.1" rx="3.8" ry="3.8" transform="rotate(0 45.7 106.4)" fill="#10108e" opacity="0.80" filter="url(#blur1)"/>
<ellipse cx="7.7" cy="102.2" rx="7.8" ry="3.9" transform="rotate(0 7.7 102.2)" fill="#3a34de" opacity="0.95"/>
<ellipse cx="8.1" cy="102.6" rx="3.5" ry="1.8" transform="rotate(0 7.7 102.2)" fill="#10108e" opacity="0.80" filter="url(#blur1)"/>
<ellipse cx="34.4" cy="119.1" rx="7.8" ry="6.5" transform="rotate(0 34.4 119.1)" fill="#3a34de" opacity="0.95"/>
<ellipse cx="35.3" cy="118.9" rx="3.5" ry="2.9" transform="rotate(0 34.4 119.1)" fill="#10108e" opacity="0.80" filter="url(#blur1)"/>
<ellipse cx="64.0" cy="121.9" rx="7.8" ry="7.8" transform="rotate(0 64.0 121.9)" fill="#3a34de" opacity="0.95"/>
<ellipse cx="64.7" cy="122.2" rx="3.5" ry="3.5" transform="rotate(0 64.0 121.9)" fill="#10108e" opacity="0.80" filter="url(#blur1)"/>
<ellipse cx="96.4" cy="128.9" rx="5.9" ry="5.9" transform="rotate(0 96.4 128.9)" fill="#3a34de" opacity="0.95"/>
<ellipse cx="96.0" cy="129.1" rx="2.6" ry="2.6" transform="rotate(0 96.4 128.9)" fill="#10108e" opacity="0.80" filter="url(#blur1)"/>
<ellipse cx="18.9" cy="134.6" rx="7.8" ry="6.5" transform="rotate(0 18.9 134.6)" fill="#3a34de" opacity="0.95"/>
<ellipse cx="19.7" cy="135.3" rx="3.5" ry="2.9" transform="rotate(0 18.9 134.6)" fill="#10108e" opacity="0.80" filter="url(#blur1)"/>
<ellipse cx="49.9" cy="134.6" rx="7.8" ry="6.5" transform="rotate(0 49.9 134.6)" fill="#3a34de" opacity="0.95"/>
<ellipse cx="49.9" cy="134.8" rx="3.5" ry="2.9" transform="rotate(0 49.9 134.6)" fill="#10108e" opacity="0.80" filter="url(#blur1)"/>
<ellipse cx="132.2" cy="12.0" rx="3.9" ry="9.1" transform="rotate(-20 132.2 12.0)" fill="#3a34de" opacity="0.95"/>
<ellipse cx="131.3" cy="11.5" rx="1.8" ry="4.1" transform="rotate(-20 132.2 12.0)" fill="#10108e" opacity="0.80" filter="url(#blur1)"/>
<ellipse cx="149.1" cy="24.7" rx="11.7" ry="5.9" transform="rotate(0 149.1 24.7)" fill="#3a34de" opacity="0.95"/>
<ellipse cx="149.7" cy="24.5" rx="5.3" ry="2.6" transform="rotate(0 149.1 24.7)" fill="#10108e" opacity="0.80" filter="url(#blur1)"/>
<ellipse cx="160.4" cy="17.6" rx="4.5" ry="7.2" transform="rotate(0 160.4 17.6)" fill="#3a34de" opacity="0.95"/>
<ellipse cx="159.7" cy="17.7" rx="2.0" ry="3.2" transform="rotate(0 160.4 17.6)" fill="#10108e" opacity="0.80" filter="url(#blur1)"/>
<ellipse cx="190.0" cy="10.6" rx="3.9" ry="10.4" transform="rotate(-45 190.0 10.6)" fill="#3a34de" opacity="0.95"/>
<ellipse cx="190.4" cy="10.9" rx="1.8" ry="4.7" transform="rotate(-45 190.0 10.6)" fill="#10108e" opacity="0.80" filter="url(#blur1)"/>
<ellipse cx="108.2" cy="26.1" rx="5.9" ry="8.5" transform="rotate(0 108.2 26.1)" fill="#3a34de" opacity="0.95"/>
<ellipse cx="107.9" cy="26.0" rx="2.6" ry="3.8" transform="rotate(0 108.2 26.1)" fill="#10108e" opacity="0.80" filter="url(#blur1)"/>
<ellipse cx="120.9" cy="35.9" rx="4.5" ry="7.8" transform="rotate(30 120.9 35.9)" fill="#3a34de" opacity="0.95"/>
<ellipse cx="120.9" cy="36.5" rx="2.0" ry="3.5" transform="rotate(30 120.9 35.9)" fill="#10108e" opacity="0.80" filter="url(#blur1)"/>
<ellipse cx="161.8" cy="44.4" rx="8.5" ry="5.9" transform="rotate(0 161.8 44.4)" fill="#3a34de" opacity="0.95"/>
<ellipse cx="161.8" cy="44.2" rx="3.8" ry="2.6" transform="rotate(0 161.8 44.4)" fill="#10108e" opacity="0.80" filter="url(#blur1)"/>
<ellipse cx="185.8" cy="50.0" rx="7.8" ry="7.2" transform="rotate(0 185.8 50.0)" fill="#3a34de" opacity="0.95"/>
<ellipse cx="185.8" cy="49.1" rx="3.5" ry="3.2" transform="rotate(0 185.8 50.0)" fill="#10108e" opacity="0.80" filter="url(#blur1)"/>
<ellipse cx="197.0" cy="34.5" rx="4.5" ry="7.8" transform="rotate(0 197.0 34.5)" fill="#3a34de" opacity="0.95"/>
<ellipse cx="196.1" cy="34.9" rx="2.0" ry="3.5" transform="rotate(0 197.0 34.5)" fill="#10108e" opacity="0.80" filter="url(#blur1)"/>
<ellipse cx="105.4" cy="76.9" rx="8.5" ry="10.4" transform="rotate(0 105.4 76.9)" fill="#3a34de" opacity="0.95"/>
<ellipse cx="106.4" cy="77.1" rx="3.8" ry="4.7" transform="rotate(0 105.4 76.9)" fill="#10108e" opacity="0.80" filter="url(#blur1)"/>
<ellipse cx="120.9" cy="74.0" rx="4.5" ry="9.1" transform="rotate(0 120.9 74.0)" fill="#3a34de" opacity="0.95"/>
<ellipse cx="120.7" cy="73.3" rx="2.0" ry="4.1" transform="rotate(0 120.9 74.0)" fill="#10108e" opacity="0.80" filter="url(#blur1)"/>
<ellipse cx="146.3" cy="68.4" rx="4.5" ry="9.1" transform="rotate(-40 146.3 68.4)" fill="#3a34de" opacity="0.95"/>
<ellipse cx="146.3" cy="69.4" rx="2.0" ry="4.1" transform="rotate(-40 146.3 68.4)" fill="#10108e" opacity="0.80" filter="url(#blur1)"/>
<ellipse cx="166.0" cy="67.0" rx="9.8" ry="9.8" transform="rotate(0 166.0 67.0)" fill="#3a34de" opacity="0.95"/>
<ellipse cx="166.5" cy="67.1" rx="4.4" ry="4.4" transform="rotate(0 166.0 67.0)" fill="#10108e" opacity="0.80" filter="url(#blur1)"/>
<ellipse cx="192.8" cy="71.2" rx="5.2" ry="7.2" transform="rotate(0 192.8 71.2)" fill="#3a34de" opacity="0.95"/>
<ellipse cx="193.5" cy="70.7" rx="2.3" ry="3.2" transform="rotate(0 192.8 71.2)" fill="#10108e" opacity="0.80" filter="url(#blur1)"/>
<ellipse cx="146.3" cy="85.3" rx="7.8" ry="7.8" transform="rotate(0 146.3 85.3)" fill="#3a34de" opacity="0.95"/>
<ellipse cx="146.3" cy="86.2" rx="3.5" ry="3.5" transform="rotate(0 146.3 85.3)" fill="#10108e" opacity="0.80" filter="url(#blur1)"/>
<ellipse cx="143.5" cy="95.1" rx="9.1" ry="4.5" transform="rotate(0 143.5 95.1)" fill="#3a34de" opacity="0.95"/>
<ellipse cx="143.7" cy="95.0" rx="4.1" ry="2.0" transform="rotate(0 143.5 95.1)" fill="#10108e" opacity="0.80" filter="url(#blur1)"/>
<ellipse cx="180.1" cy="88.1" rx="11.7" ry="5.9" transform="rotate(-20 180.1 88.1)" fill="#3a34de" opacity="0.95"/>
<ellipse cx="179.6" cy="88.2" rx="5.3" ry="2.6" transform="rotate(-20 180.1 88.1)" fill="#10108e" opacity="0.80" filter="url(#blur1)"/>
<ellipse cx="192.8" cy="90.9" rx="6.5" ry="6.5" transform="rotate(0 192.8 90.9)" fill="#3a34de" opacity="0.95"/>
<ellipse cx="193.7" cy="89.9" rx="2.9" ry="2.9" transform="rotate(0 192.8 90.9)" fill="#10108e" opacity="0.80" filter="url(#blur1)"/>
<ellipse cx="118.1" cy="117.7" rx="7.8" ry="9.8" transform="rotate(0 118.1 117.7)" fill="#3a34de" opacity="0.95"/>
<ellipse cx="118.7" cy="118.3" rx="3.5" ry="4.4" transform="rotate(0 118.1 117.7)" fill="#10108e" opacity="0.80" filter="url(#blur1)"/>
<ellipse cx="180.1" cy="110.7" rx="5.9" ry="7.8" transform="rotate(0 180.1 110.7)" fill="#3a34de" opacity="0.95"/>
<ellipse cx="180.9" cy="111.2" rx="2.6" ry="3.5" transform="rotate(0 180.1 110.7)" fill="#10108e" opacity="0.80" filter="url(#blur1)"/>
<ellipse cx="167.4" cy="126.2" rx="6.5" ry="5.2" transform="rotate(0 167.4 126.2)" fill="#3a34de" opacity="0.95"/>
<ellipse cx="168.0" cy="126.2" rx="2.9" ry="2.3" transform="rotate(0 167.4 126.2)" fill="#10108e" opacity="0.80" filter="url(#blur1)"/>
<ellipse cx="199.9" cy="114.9" rx="3.9" ry="7.8" transform="rotate(0 199.9 114.9)" fill="#3a34de" opacity="0.95"/>
<ellipse cx="200.0" cy="114.8" rx="1.8" ry="3.5" transform="rotate(0 199.9 114.9)" fill="#10108e" opacity="0.80" filter="url(#blur1)"/>
<ellipse cx="126.6" cy="134.6" rx="6.5" ry="3.9" transform="rotate(0 126.6 134.6)" fill="#3a34de" opacity="0.95"/>
<ellipse cx="125.7" cy="135.3" rx="2.9" ry="1.8" transform="rotate(0 126.6 134.6)" fill="#10108e" opacity="0.80" filter="url(#blur1)"/>
<ellipse cx="160.4" cy="114.9" rx="5.2" ry="3.9" transform="rotate(0 160.4 114.9)" fill="#3a34de" opacity="0.95"/>
<ellipse cx="160.5" cy="114.3" rx="2.3" ry="1.8" transform="rotate(0 160.4 114.9)" fill="#10108e" opacity="0.80" filter="url(#blur1)"/>
</g>
<rect width="205.1" height="141.10000000000002" filter="url(#grain1)" opacity="0.6"/>
<circle cx="103.5" cy="68.5" r="2.2" fill="#fdfafd" fill-opacity="0.6" stroke="#7a5cc8" stroke-width="1.1"/>
<circle cx="73.8" cy="49.4" r="2.2" fill="#fdfafd" fill-opacity="0.6" stroke="#7a5cc8" stroke-width="1.1"/>
<circle cx="110.3" cy="87.5" r="2.2" fill="#fdfafd" fill-opacity="0.6" stroke="#7a5cc8" stroke-width="1.1"/>
<circle cx="125.2" cy="64.8" r="2.2" fill="#fdfafd" fill-opacity="0.6" stroke="#7a5cc8" stroke-width="1.1"/>
<circle cx="7.6" cy="33.5" r="2.2" fill="#fdfafd" fill-opacity="0.6" stroke="#7a5cc8" stroke-width="1.1"/>
<circle cx="37.6" cy="82.1" r="2.2" fill="#fdfafd" fill-opacity="0.6" stroke="#7a5cc8" stroke-width="1.1"/>
<circle cx="175.1" cy="111.5" r="2.2" fill="#fdfafd" fill-opacity="0.6" stroke="#7a5cc8" stroke-width="1.1"/>
<circle cx="162.3" cy="113.9" r="2.2" fill="#fdfafd" fill-opacity="0.6" stroke="#7a5cc8" stroke-width="1.1"/>
<circle cx="53.3" cy="117.4" r="2.2" fill="#fdfafd" fill-opacity="0.6" stroke="#7a5cc8" stroke-width="1.1"/>
<circle cx="137.4" cy="13.4" r="2.2" fill="#fdfafd" fill-opacity="0.6" stroke="#7a5cc8" stroke-width="1.1"/>
<circle cx="5.4" cy="4.0" r="2.2" fill="#fdfafd" fill-opacity="0.6" stroke="#7a5cc8" stroke-width="1.1"/>
<circle cx="153.9" cy="36.2" r="2.2" fill="#fdfafd" fill-opacity="0.6" stroke="#7a5cc8" stroke-width="1.1"/>
<circle cx="24.0" cy="87.7" r="2.2" fill="#fdfafd" fill-opacity="0.6" stroke="#7a5cc8" stroke-width="1.1"/>
<circle cx="71.3" cy="11.5" r="2.2" fill="#fdfafd" fill-opacity="0.6" stroke="#7a5cc8" stroke-width="1.1"/>
<circle cx="34.1" cy="74.3" r="2.2" fill="#fdfafd" fill-opacity="0.6" stroke="#7a5cc8" stroke-width="1.1"/>
<circle cx="35.8" cy="39.4" r="2.2" fill="#fdfafd" fill-opacity="0.6" stroke="#7a5cc8" stroke-width="1.1"/>
<circle cx="145.1" cy="64.3" r="2.2" fill="#fdfafd" fill-opacity="0.6" stroke="#7a5cc8" stroke-width="1.1"/>
<circle cx="66.8" cy="67.0" r="2.2" fill="#fdfafd" fill-opacity="0.6" stroke="#7a5cc8" stroke-width="1.1"/>
<circle cx="6.8" cy="55.0" r="2.2" fill="#fdfafd" fill-opacity="0.6" stroke="#7a5cc8" stroke-width="1.1"/>
<circle cx="86.6" cy="27.8" r="2.2" fill="#fdfafd" fill-opacity="0.6" stroke="#7a5cc8" stroke-width="1.1"/>
<circle cx="23.9" cy="125.4" r="2.2" fill="#fdfafd" fill-opacity="0.6" stroke="#7a5cc8" stroke-width="1.1"/>
<circle cx="104.6" cy="30.7" r="2.2" fill="#fdfafd" fill-opacity="0.6" stroke="#7a5cc8" stroke-width="1.1"/>
<circle cx="123.8" cy="114.0" r="2.2" fill="#fdfafd" fill-opacity="0.6" stroke="#7a5cc8" stroke-width="1.1"/>
<circle cx="6.2" cy="4.4" r="2.2" fill="#fdfafd" fill-opacity="0.6" stroke="#7a5cc8" stroke-width="1.1"/>
<circle cx="31.5" cy="100.6" r="2.2" fill="#fdfafd" fill-opacity="0.6" stroke="#7a5cc8" stroke-width="1.1"/>
<circle cx="34.2" cy="98.6" r="2.2" fill="#fdfafd" fill-opacity="0.6" stroke="#7a5cc8" stroke-width="1.1"/>
<circle cx="138.4" cy="76.7" r="2.2" fill="#fdfafd" fill-opacity="0.6" stroke="#7a5cc8" stroke-width="1.1"/>
<circle cx="46.4" cy="135.8" r="2.2" fill="#fdfafd" fill-opacity="0.6" stroke="#7a5cc8" stroke-width="1.1"/>
<circle cx="162.4" cy="72.8" r="2.2" fill="#fdfafd" fill-opacity="0.6" stroke="#7a5cc8" stroke-width="1.1"/>
<circle cx="46.9" cy="90.9" r="2.2" fill="#fdfafd" fill-opacity="0.6" stroke="#7a5cc8" stroke-width="1.1"/>
<circle cx="81.4" cy="80.9" r="2.2" fill="#fdfafd" fill-opacity="0.6" stroke="#7a5cc8" stroke-width="1.1"/>
<circle cx="66.6" cy="88.5" r="2.2" fill="#fdfafd" fill-opacity="0.6" stroke="#7a5cc8" stroke-width="1.1"/>
<circle cx="13.8" cy="42.9" r="2.2" fill="#fdfafd" fill-opacity="0.6" stroke="#7a5cc8" stroke-width="1.1"/>
<circle cx="196.6" cy="122.0" r="2.2" fill="#fdfafd" fill-opacity="0.6" stroke="#7a5cc8" stroke-width="1.1"/>
<circle cx="63.6" cy="119.7" r="2.2" fill="#fdfafd" fill-opacity="0.6" stroke="#7a5cc8" stroke-width="1.1"/>
<circle cx="64.4" cy="130.8" r="2.2" fill="#fdfafd" fill-opacity="0.6" stroke="#7a5cc8" stroke-width="1.1"/>
<circle cx="151.6" cy="59.1" r="2.2" fill="#fdfafd" fill-opacity="0.6" stroke="#7a5cc8" stroke-width="1.1"/>
<circle cx="52.7" cy="3.2" r="2.2" fill="#fdfafd" fill-opacity="0.6" stroke="#7a5cc8" stroke-width="1.1"/>
<circle cx="178.7" cy="7.2" r="2.2" fill="#fdfafd" fill-opacity="0.6" stroke="#7a5cc8" stroke-width="1.1"/>
<circle cx="166.8" cy="133.9" r="2.2" fill="#fdfafd" fill-opacity="0.6" stroke="#7a5cc8" stroke-width="1.1"/>
<circle cx="116.7" cy="25.5" r="2.2" fill="#fdfafd" fill-opacity="0.6" stroke="#7a5cc8" stroke-width="1.1"/>
<circle cx="176.5" cy="135.5" r="2.2" fill="#fdfafd" fill-opacity="0.6" stroke="#7a5cc8" stroke-width="1.1"/>
<circle cx="143.6" cy="71.8" r="2.2" fill="#fdfafd" fill-opacity="0.6" stroke="#7a5cc8" stroke-width="1.1"/>
<circle cx="78.0" cy="49.6" r="2.2" fill="#fdfafd" fill-opacity="0.6" stroke="#7a5cc8" stroke-width="1.1"/>
<circle cx="43.4" cy="94.4" r="2.2" fill="#fdfafd" fill-opacity="0.6" stroke="#7a5cc8" stroke-width="1.1"/>
<circle cx="89.1" cy="28.6" r="2.2" fill="#fdfafd" fill-opacity="0.6" stroke="#7a5cc8" stroke-width="1.1"/>
<circle cx="23.0" cy="93.3" r="2.2" fill="#fdfafd" fill-opacity="0.6" stroke="#7a5cc8" stroke-width="1.1"/>
<circle cx="61.5" cy="70.5" r="2.2" fill="#fdfafd" fill-opacity="0.6" stroke="#7a5cc8" stroke-width="1.1"/>
<circle cx="67.4" cy="121.5" r="2.2" fill="#fdfafd" fill-opacity="0.6" stroke="#7a5cc8" stroke-width="1.1"/>
<circle cx="182.9" cy="4.5" r="2.2" fill="#fdfafd" fill-opacity="0.6" stroke="#7a5cc8" stroke-width="1.1"/>
<circle cx="42.4" cy="46.9" r="2.2" fill="#fdfafd" fill-opacity="0.6" stroke="#7a5cc8" stroke-width="1.1"/>
<circle cx="200.5" cy="109.3" r="2.2" fill="#fdfafd" fill-opacity="0.6" stroke="#7a5cc8" stroke-width="1.1"/>
<circle cx="70.2" cy="31.2" r="2.2" fill="#fdfafd" fill-opacity="0.6" stroke="#7a5cc8" stroke-width="1.1"/>
<circle cx="137.6" cy="116.8" r="2.2" fill="#fdfafd" fill-opacity="0.6" stroke="#7a5cc8" stroke-width="1.1"/>
<circle cx="189.5" cy="49.1" r="2.2" fill="#fdfafd" fill-opacity="0.6" stroke="#7a5cc8" stroke-width="1.1"/>
<circle cx="179.4" cy="96.2" r="2.2" fill="#fdfafd" fill-opacity="0.6" stroke="#7a5cc8" stroke-width="1.1"/>
<circle cx="99.4" cy="137.1" r="2.2" fill="#fdfafd" fill-opacity="0.6" stroke="#7a5cc8" stroke-width="1.1"/>
<circle cx="49.2" cy="101.5" r="2.2" fill="#fdfafd" fill-opacity="0.6" stroke="#7a5cc8" stroke-width="1.1"/>
<circle cx="19.0" cy="25.3" r="2.2" fill="#fdfafd" fill-opacity="0.6" stroke="#7a5cc8" stroke-width="1.1"/>
<circle cx="185.2" cy="31.2" r="2.2" fill="#fdfafd" fill-opacity="0.6" stroke="#7a5cc8" stroke-width="1.1"/>
<circle cx="154.7" cy="84.3" r="2.2" fill="#fdfafd" fill-opacity="0.6" stroke="#7a5cc8" stroke-width="1.1"/>
<circle cx="171.2" cy="52.5" r="2.2" fill="#fdfafd" fill-opacity="0.6" stroke="#7a5cc8" stroke-width="1.1"/>
<circle cx="70.4" cy="41.9" r="2.2" fill="#fdfafd" fill-opacity="0.6" stroke="#7a5cc8" stroke-width="1.1"/>
<circle cx="176.4" cy="84.8" r="2.2" fill="#fdfafd" fill-opacity="0.6" stroke="#7a5cc8" stroke-width="1.1"/>
<circle cx="193.9" cy="123.6" r="2.2" fill="#fdfafd" fill-opacity="0.6" stroke="#7a5cc8" stroke-width="1.1"/>
<circle cx="29.2" cy="77.6" r="2.2" fill="#fdfafd" fill-opacity="0.6" stroke="#7a5cc8" stroke-width="1.1"/>
<circle cx="23.0" cy="7.4" r="2.2" fill="#fdfafd" fill-opacity="0.6" stroke="#7a5cc8" stroke-width="1.1"/>
<circle cx="16.7" cy="120.8" r="2.2" fill="#fdfafd" fill-opacity="0.6" stroke="#7a5cc8" stroke-width="1.1"/>
<circle cx="160.5" cy="115.6" r="2.2" fill="#fdfafd" fill-opacity="0.6" stroke="#7a5cc8" stroke-width="1.1"/>
<circle cx="70.6" cy="86.3" r="2.2" fill="#fdfafd" fill-opacity="0.6" stroke="#7a5cc8" stroke-width="1.1"/>
<circle cx="159.2" cy="53.8" r="2.2" fill="#fdfafd" fill-opacity="0.6" stroke="#7a5cc8" stroke-width="1.1"/>
<circle cx="116.8" cy="32.7" r="2.2" fill="#fdfafd" fill-opacity="0.6" stroke="#7a5cc8" stroke-width="1.1"/>
<circle cx="18.4" cy="38.6" r="2.2" fill="#fdfafd" fill-opacity="0.6" stroke="#7a5cc8" stroke-width="1.1"/>
<circle cx="181.1" cy="79.4" r="2.2" fill="#fdfafd" fill-opacity="0.6" stroke="#7a5cc8" stroke-width="1.1"/>
<circle cx="188.0" cy="64.8" r="2.2" fill="#fdfafd" fill-opacity="0.6" stroke="#7a5cc8" stroke-width="1.1"/>
<circle cx="57.7" cy="109.9" r="2.2" fill="#fdfafd" fill-opacity="0.6" stroke="#7a5cc8" stroke-width="1.1"/>
<circle cx="168.5" cy="3.7" r="2.2" fill="#fdfafd" fill-opacity="0.6" stroke="#7a5cc8" stroke-width="1.1"/>
<circle cx="136.8" cy="14.6" r="2.2" fill="#fdfafd" fill-opacity="0.6" stroke="#7a5cc8" stroke-width="1.1"/>
<circle cx="25.1" cy="123.3" r="2.2" fill="#fdfafd" fill-opacity="0.6" stroke="#7a5cc8" stroke-width="1.1"/>
<circle cx="10.0" cy="34.9" r="2.2" fill="#fdfafd" fill-opacity="0.6" stroke="#7a5cc8" stroke-width="1.1"/>
<circle cx="200.7" cy="59.7" r="2.2" fill="#fdfafd" fill-opacity="0.6" stroke="#7a5cc8" stroke-width="1.1"/>
<circle cx="25.2" cy="24.9" r="2.2" fill="#fdfafd" fill-opacity="0.6" stroke="#7a5cc8" stroke-width="1.1"/>
<circle cx="50.5" cy="104.0" r="2.2" fill="#fdfafd" fill-opacity="0.6" stroke="#7a5cc8" stroke-width="1.1"/>
<circle cx="22.7" cy="126.9" r="2.2" fill="#fdfafd" fill-opacity="0.6" stroke="#7a5cc8" stroke-width="1.1"/>
<circle cx="78.1" cy="135.0" r="2.2" fill="#fdfafd" fill-opacity="0.6" stroke="#7a5cc8" stroke-width="1.1"/>
<circle cx="184.8" cy="42.3" r="2.2" fill="#fdfafd" fill-opacity="0.6" stroke="#7a5cc8" stroke-width="1.1"/>
<circle cx="53.0" cy="67.4" r="2.2" fill="#fdfafd" fill-opacity="0.6" stroke="#7a5cc8" stroke-width="1.1"/>
<circle cx="22.1" cy="91.4" r="2.2" fill="#fdfafd" fill-opacity="0.6" stroke="#7a5cc8" stroke-width="1.1"/>
<circle cx="10.0" cy="3.4" r="2.2" fill="#fdfafd" fill-opacity="0.6" stroke="#7a5cc8" stroke-width="1.1"/>
<circle cx="199.6" cy="42.5" r="2.2" fill="#fdfafd" fill-opacity="0.6" stroke="#7a5cc8" stroke-width="1.1"/>
<circle cx="122.0" cy="63.7" r="2.2" fill="#fdfafd" fill-opacity="0.6" stroke="#7a5cc8" stroke-width="1.1"/>
<circle cx="65.0" cy="10.6" r="2.2" fill="#fdfafd" fill-opacity="0.6" stroke="#7a5cc8" stroke-width="1.1"/>
<circle cx="185.7" cy="135.0" r="2.2" fill="#fdfafd" fill-opacity="0.6" stroke="#7a5cc8" stroke-width="1.1"/>
<circle cx="197.0" cy="17.3" r="2.2" fill="#fdfafd" fill-opacity="0.6" stroke="#7a5cc8" stroke-width="1.1"/>
<circle cx="45.3" cy="86.7" r="2.2" fill="#fdfafd" fill-opacity="0.6" stroke="#7a5cc8" stroke-width="1.1"/>
<circle cx="199.1" cy="76.4" r="2.2" fill="#fdfafd" fill-opacity="0.6" stroke="#7a5cc8" stroke-width="1.1"/>
<circle cx="140.4" cy="92.7" r="2.2" fill="#fdfafd" fill-opacity="0.6" stroke="#7a5cc8" stroke-width="1.1"/>
<circle cx="54.1" cy="76.3" r="2.2" fill="#fdfafd" fill-opacity="0.6" stroke="#7a5cc8" stroke-width="1.1"/>
<circle cx="63.8" cy="35.8" r="2.2" fill="#fdfafd" fill-opacity="0.6" stroke="#7a5cc8" stroke-width="1.1"/>
<circle cx="18.4" cy="40.5" r="2.2" fill="#fdfafd" fill-opacity="0.6" stroke="#7a5cc8" stroke-width="1.1"/>
<circle cx="199.8" cy="63.4" r="2.2" fill="#fdfafd" fill-opacity="0.6" stroke="#7a5cc8" stroke-width="1.1"/>
<circle cx="133.1" cy="90.2" r="2.2" fill="#fdfafd" fill-opacity="0.6" stroke="#7a5cc8" stroke-width="1.1"/>
<circle cx="191.2" cy="55.5" r="2.2" fill="#fdfafd" fill-opacity="0.6" stroke="#7a5cc8" stroke-width="1.1"/>
<circle cx="63.7" cy="46.9" r="2.2" fill="#fdfafd" fill-opacity="0.6" stroke="#7a5cc8" stroke-width="1.1"/>
<circle cx="65.7" cy="118.1" r="2.2" fill="#fdfafd" fill-opacity="0.6" stroke="#7a5cc8" stroke-width="1.1"/>
<circle cx="181.7" cy="43.5" r="2.2" fill="#fdfafd" fill-opacity="0.6" stroke="#7a5cc8" stroke-width="1.1"/>
<circle cx="69.2" cy="76.6" r="2.2" fill="#fdfafd" fill-opacity="0.6" stroke="#7a5cc8" stroke-width="1.1"/>
<circle cx="118.4" cy="83.7" r="2.2" fill="#fdfafd" fill-opacity="0.6" stroke="#7a5cc8" stroke-width="1.1"/>
<circle cx="51.3" cy="4.8" r="2.2" fill="#fdfafd" fill-opacity="0.6" stroke="#7a5cc8" stroke-width="1.1"/>
<circle cx="51.0" cy="11.9" r="2.2" fill="#fdfafd" fill-opacity="0.6" stroke="#7a5cc8" stroke-width="1.1"/>
<circle cx="112.8" cy="11.7" r="2.2" fill="#fdfafd" fill-opacity="0.6" stroke="#7a5cc8" stroke-width="1.1"/>
<circle cx="17.1" cy="89.1" r="2.2" fill="#fdfafd" fill-opacity="0.6" stroke="#7a5cc8" stroke-width="1.1"/>
<circle cx="60.5" cy="110.6" r="2.2" fill="#fdfafd" fill-opacity="0.6" stroke="#7a5cc8" stroke-width="1.1"/>
<circle cx="101.2" cy="120.3" r="2.2" fill="#fdfafd" fill-opacity="0.6" stroke="#7a5cc8" stroke-width="1.1"/>
<circle cx="33.0" cy="70.7" r="2.2" fill="#fdfafd" fill-opacity="0.6" stroke="#7a5cc8" stroke-width="1.1"/>
<circle cx="161.9" cy="12.6" r="2.2" fill="#fdfafd" fill-opacity="0.6" stroke="#7a5cc8" stroke-width="1.1"/>
<circle cx="192.9" cy="25.8" r="2.2" fill="#fdfafd" fill-opacity="0.6" stroke="#7a5cc8" stroke-width="1.1"/>
<circle cx="158.1" cy="137.0" r="2.2" fill="#fdfafd" fill-opacity="0.6" stroke="#7a5cc8" stroke-width="1.1"/>
<circle cx="167.2" cy="45.8" r="2.2" fill="#fdfafd" fill-opacity="0.6" stroke="#7a5cc8" stroke-width="1.1"/>
<circle cx="23.5" cy="72.5" r="2.2" fill="#fdfafd" fill-opacity="0.6" stroke="#7a5cc8" stroke-width="1.1"/>
<circle cx="186.9" cy="42.2" r="2.2" fill="#fdfafd" fill-opacity="0.6" stroke="#7a5cc8" stroke-width="1.1"/>
<circle cx="181.7" cy="21.4" r="2.2" fill="#fdfafd" fill-opacity="0.6" stroke="#7a5cc8" stroke-width="1.1"/>
<circle cx="185.1" cy="6.4" r="2.2" fill="#fdfafd" fill-opacity="0.6" stroke="#7a5cc8" stroke-width="1.1"/>
<circle cx="65.6" cy="125.8" r="2.2" fill="#fdfafd" fill-opacity="0.6" stroke="#7a5cc8" stroke-width="1.1"/>
<circle cx="163.7" cy="126.4" r="2.2" fill="#fdfafd" fill-opacity="0.6" stroke="#7a5cc8" stroke-width="1.1"/>
<circle cx="171.1" cy="104.3" r="2.2" fill="#fdfafd" fill-opacity="0.6" stroke="#7a5cc8" stroke-width="1.1"/>
<circle cx="140.7" cy="26.4" r="2.2" fill="#fdfafd" fill-opacity="0.6" stroke="#7a5cc8" stroke-width="1.1"/>
<circle cx="89.0" cy="23.6" r="2.2" fill="#fdfafd" fill-opacity="0.6" stroke="#7a5cc8" stroke-width="1.1"/>
<circle cx="145.8" cy="93.6" r="2.2" fill="#fdfafd" fill-opacity="0.6" stroke="#7a5cc8" stroke-width="1.1"/>
<circle cx="52.8" cy="10.8" r="2.2" fill="#fdfafd" fill-opacity="0.6" stroke="#7a5cc8" stroke-width="1.1"/>
<circle cx="195.7" cy="112.8" r="2.2" fill="#fdfafd" fill-opacity="0.6" stroke="#7a5cc8" stroke-width="1.1"/>
<circle cx="112.5" cy="76.2" r="2.2" fill="#fdfafd" fill-opacity="0.6" stroke="#7a5cc8" stroke-width="1.1"/>
<circle cx="173.2" cy="64.1" r="2.2" fill="#fdfafd" fill-opacity="0.6" stroke="#7a5cc8" stroke-width="1.1"/>
<circle cx="81.6" cy="48.4" r="2.2" fill="#fdfafd" fill-opacity="0.6" stroke="#7a5cc8" stroke-width="1.1"/>
<circle cx="53.9" cy="5.3" r="2.2" fill="#fdfafd" fill-opacity="0.6" stroke="#7a5cc8" stroke-width="1.1"/>
<circle cx="132.0" cy="59.1" r="2.2" fill="#fdfafd" fill-opacity="0.6" stroke="#7a5cc8" stroke-width="1.1"/>
<circle cx="116.7" cy="10.5" r="2.2" fill="#fdfafd" fill-opacity="0.6" stroke="#7a5cc8" stroke-width="1.1"/>
<circle cx="73.4" cy="21.0" r="2.2" fill="#fdfafd" fill-opacity="0.6" stroke="#7a5cc8" stroke-width="1.1"/>
<circle cx="27.2" cy="37.5" r="2.2" fill="#fdfafd" fill-opacity="0.6" stroke="#7a5cc8" stroke-width="1.1"/>
<circle cx="168.7" cy="56.5" r="2.2" fill="#fdfafd" fill-opacity="0.6" stroke="#7a5cc8" stroke-width="1.1"/>
</svg>
<rect x="26.8" y="860.1" width="205.1" height="141.1" fill="none" stroke="#111" stroke-width="2"/>
<rect x="205.8" y="993.4" width="15.5" height="2.6" fill="#000"/>
<svg x="239.5" y="860.1" width="204.10000000000002" height="141.10000000000002" viewBox="0 0 204.10000000000002 141.10000000000002" overflow="hidden">
<rect width="204.10000000000002" height="141.10000000000002" fill="#fcf7fc"/>
<rect width="204.10000000000002" height="141.10000000000002" filter="url(#tex2)" opacity="0.6"/>
<g filter="url(#rough2)">
<ellipse cx="12.6" cy="19.0" rx="20.2" ry="13.5" transform="rotate(-20 12.6 19.0)" fill="#7060e0" opacity="0.34" filter="url(#blur2)"/>
<ellipse cx="26.7" cy="10.6" rx="15.8" ry="12.4" transform="rotate(0 26.7 10.6)" fill="#7060e0" opacity="0.34" filter="url(#blur2)"/>
<ellipse cx="45.0" cy="17.6" rx="19.1" ry="19.1" transform="rotate(0 45.0 17.6)" fill="#7060e0" opacity="0.34" filter="url(#blur2)"/>
<ellipse cx="59.1" cy="14.8" rx="15.8" ry="15.8" transform="rotate(0 59.1 14.8)" fill="#7060e0" opacity="0.34" filter="url(#blur2)"/>
<ellipse cx="59.1" cy="27.5" rx="18.0" ry="11.3" transform="rotate(0 59.1 27.5)" fill="#7060e0" opacity="0.34" filter="url(#blur2)"/>
<ellipse cx="77.4" cy="6.4" rx="15.8" ry="10.2" transform="rotate(0 77.4 6.4)" fill="#7060e0" opacity="0.34" filter="url(#blur2)"/>
<ellipse cx="94.3" cy="10.6" rx="15.8" ry="11.3" transform="rotate(0 94.3 10.6)" fill="#7060e0" opacity="0.34" filter="url(#blur2)"/>
<ellipse cx="22.5" cy="31.7" rx="13.5" ry="15.8" transform="rotate(0 22.5 31.7)" fill="#7060e0" opacity="0.34" filter="url(#blur2)"/>
<ellipse cx="36.6" cy="41.6" rx="10.2" ry="15.8" transform="rotate(0 36.6 41.6)" fill="#7060e0" opacity="0.34" filter="url(#blur2)"/>
<ellipse cx="91.5" cy="33.1" rx="15.8" ry="10.2" transform="rotate(30 91.5 33.1)" fill="#7060e0" opacity="0.34" filter="url(#blur2)"/>
<ellipse cx="30.9" cy="62.7" rx="9.1" ry="18.0" transform="rotate(0 30.9 62.7)" fill="#7060e0" opacity="0.34" filter="url(#blur2)"/>
<ellipse cx="60.5" cy="67.0" rx="11.3" ry="14.7" transform="rotate(0 60.5 67.0)" fill="#7060e0" opacity="0.34" filter="url(#blur2)"/>
<ellipse cx="50.6" cy="76.9" rx="22.4" ry="12.4" transform="rotate(0 50.6 76.9)" fill="#7060e0" opacity="0.34" filter="url(#blur2)"/>
<ellipse cx="4.1" cy="71.2" rx="10.2" ry="18.0" transform="rotate(0 4.1 71.2)" fill="#7060e0" opacity="0.34" filter="url(#blur2)"/>
<ellipse cx="18.2" cy="83.9" rx="11.3" ry="15.8" transform="rotate(-30 18.2 83.9)" fill="#7060e0" opacity="0.34" filter="url(#blur2)"/>
<ellipse cx="90.1" cy="61.3" rx="9.1" ry="22.4" transform="rotate(-40 90.1 61.3)" fill="#7060e0" opacity="0.34" filter="url(#blur2)"/>
<ellipse cx="92.9" cy="85.3" rx="10.2" ry="18.0" transform="rotate(-20 92.9 85.3)" fill="#7060e0" opacity="0.34" filter="url(#blur2)"/>
<ellipse cx="59.1" cy="95.1" rx="15.8" ry="12.4" transform="rotate(0 59.1 95.1)" fill="#7060e0" opacity="0.34" filter="url(#blur2)"/>
<ellipse cx="81.7" cy="102.2" rx="15.8" ry="15.8" transform="rotate(0 81.7 102.2)" fill="#7060e0" opacity="0.34" filter="url(#blur2)"/>
<ellipse cx="15.4" cy="121.9" rx="12.4" ry="18.0" transform="rotate(0 15.4 121.9)" fill="#7060e0" opacity="0.34" filter="url(#blur2)"/>
<ellipse cx="43.6" cy="114.9" rx="12.4" ry="12.4" transform="rotate(30 43.6 114.9)" fill="#7060e0" opacity="0.34" filter="url(#blur2)"/>
<ellipse cx="61.9" cy="120.5" rx="19.1" ry="18.0" transform="rotate(0 61.9 120.5)" fill="#7060e0" opacity="0.34" filter="url(#blur2)"/>
<ellipse cx="88.7" cy="121.9" rx="11.3" ry="15.8" transform="rotate(0 88.7 121.9)" fill="#7060e0" opacity="0.34" filter="url(#blur2)"/>
<ellipse cx="40.8" cy="131.8" rx="11.3" ry="10.2" transform="rotate(0 40.8 131.8)" fill="#7060e0" opacity="0.34" filter="url(#blur2)"/>
<ellipse cx="4.1" cy="121.9" rx="9.1" ry="18.0" transform="rotate(0 4.1 121.9)" fill="#7060e0" opacity="0.34" filter="url(#blur2)"/>
<ellipse cx="77.4" cy="136.0" rx="15.8" ry="9.1" transform="rotate(0 77.4 136.0)" fill="#7060e0" opacity="0.34" filter="url(#blur2)"/>
<ellipse cx="121.6" cy="13.4" rx="10.2" ry="22.4" transform="rotate(-50 121.6 13.4)" fill="#7060e0" opacity="0.34" filter="url(#blur2)"/>
<ellipse cx="135.7" cy="6.4" rx="15.8" ry="11.3" transform="rotate(0 135.7 6.4)" fill="#7060e0" opacity="0.34" filter="url(#blur2)"/>
<ellipse cx="166.7" cy="9.2" rx="19.1" ry="15.8" transform="rotate(0 166.7 9.2)" fill="#7060e0" opacity="0.34" filter="url(#blur2)"/>
<ellipse cx="109.0" cy="23.3" rx="15.8" ry="12.4" transform="rotate(0 109.0 23.3)" fill="#7060e0" opacity="0.34" filter="url(#blur2)"/>
<ellipse cx="145.6" cy="26.1" rx="15.8" ry="12.4" transform="rotate(0 145.6 26.1)" fill="#7060e0" opacity="0.34" filter="url(#blur2)"/>
<ellipse cx="180.8" cy="45.8" rx="11.3" ry="11.3" transform="rotate(0 180.8 45.8)" fill="#7060e0" opacity="0.34" filter="url(#blur2)"/>
<ellipse cx="190.7" cy="54.3" rx="15.8" ry="15.8" transform="rotate(0 190.7 54.3)" fill="#7060e0" opacity="0.34" filter="url(#blur2)"/>
<ellipse cx="147.0" cy="55.7" rx="11.3" ry="20.2" transform="rotate(-30 147.0 55.7)" fill="#7060e0" opacity="0.34" filter="url(#blur2)"/>
<ellipse cx="175.2" cy="61.3" rx="9.1" ry="18.0" transform="rotate(-30 175.2 61.3)" fill="#7060e0" opacity="0.34" filter="url(#blur2)"/>
<ellipse cx="111.8" cy="62.7" rx="13.5" ry="12.4" transform="rotate(0 111.8 62.7)" fill="#7060e0" opacity="0.34" filter="url(#blur2)"/>
<ellipse cx="131.5" cy="62.7" rx="11.3" ry="15.8" transform="rotate(0 131.5 62.7)" fill="#7060e0" opacity="0.34" filter="url(#blur2)"/>
<ellipse cx="121.6" cy="75.4" rx="13.5" ry="11.3" transform="rotate(0 121.6 75.4)" fill="#7060e0" opacity="0.34" filter="url(#blur2)"/>
<ellipse cx="199.2" cy="62.7" rx="10.2" ry="15.8" transform="rotate(0 199.2 62.7)" fill="#7060e0" opacity="0.34" filter="url(#blur2)"/>
<ellipse cx="148.4" cy="86.7" rx="19.1" ry="15.8" transform="rotate(0 148.4 86.7)" fill="#7060e0" opacity="0.34" filter="url(#blur2)"/>
<ellipse cx="175.2" cy="86.7" rx="15.8" ry="12.4" transform="rotate(0 175.2 86.7)" fill="#7060e0" opacity="0.34" filter="url(#blur2)"/>
<ellipse cx="190.7" cy="89.5" rx="13.5" ry="12.4" transform="rotate(0 190.7 89.5)" fill="#7060e0" opacity="0.34" filter="url(#blur2)"/>
<ellipse cx="111.8" cy="90.9" rx="15.8" ry="11.3" transform="rotate(0 111.8 90.9)" fill="#7060e0" opacity="0.34" filter="url(#blur2)"/>
<ellipse cx="135.7" cy="105.0" rx="20.2" ry="12.4" transform="rotate(0 135.7 105.0)" fill="#7060e0" opacity="0.34" filter="url(#blur2)"/>
<ellipse cx="121.6" cy="110.7" rx="10.2" ry="18.0" transform="rotate(-40 121.6 110.7)" fill="#7060e0" opacity="0.34" filter="url(#blur2)"/>
<ellipse cx="155.5" cy="113.5" rx="11.3" ry="18.0" transform="rotate(0 155.5 113.5)" fill="#7060e0" opacity="0.34" filter="url(#blur2)"/>
<ellipse cx="172.4" cy="112.1" rx="15.8" ry="18.0" transform="rotate(-30 172.4 112.1)" fill="#7060e0" opacity="0.34" filter="url(#blur2)"/>
<ellipse cx="199.2" cy="114.9" rx="10.2" ry="15.8" transform="rotate(0 199.2 114.9)" fill="#7060e0" opacity="0.34" filter="url(#blur2)"/>
<ellipse cx="117.4" cy="129.0" rx="15.8" ry="15.8" transform="rotate(0 117.4 129.0)" fill="#7060e0" opacity="0.34" filter="url(#blur2)"/>
<ellipse cx="173.8" cy="136.0" rx="11.3" ry="9.1" transform="rotate(0 173.8 136.0)" fill="#7060e0" opacity="0.34" filter="url(#blur2)"/>
<ellipse cx="138.5" cy="136.0" rx="12.4" ry="9.1" transform="rotate(0 138.5 136.0)" fill="#7060e0" opacity="0.34" filter="url(#blur2)"/>
<ellipse cx="12.6" cy="19.0" rx="10.4" ry="6.5" transform="rotate(-20 12.6 19.0)" fill="#3a34de" opacity="0.95"/>
<ellipse cx="13.5" cy="19.9" rx="4.7" ry="2.9" transform="rotate(-20 12.6 19.0)" fill="#10108e" opacity="0.80" filter="url(#blur1)"/>
<ellipse cx="26.7" cy="10.6" rx="7.8" ry="5.9" transform="rotate(0 26.7 10.6)" fill="#3a34de" opacity="0.95"/>
<ellipse cx="25.8" cy="9.8" rx="3.5" ry="2.6" transform="rotate(0 26.7 10.6)" fill="#10108e" opacity="0.80" filter="url(#blur1)"/>
<ellipse cx="45.0" cy="17.6" rx="9.8" ry="9.8" transform="rotate(0 45.0 17.6)" fill="#3a34de" opacity="0.95"/>
<ellipse cx="45.7" cy="18.1" rx="4.4" ry="4.4" transform="rotate(0 45.0 17.6)" fill="#10108e" opacity="0.80" filter="url(#blur1)"/>
<ellipse cx="59.1" cy="14.8" rx="7.8" ry="7.8" transform="rotate(0 59.1 14.8)" fill="#3a34de" opacity="0.95"/>
<ellipse cx="59.4" cy="14.4" rx="3.5" ry="3.5" transform="rotate(0 59.1 14.8)" fill="#10108e" opacity="0.80" filter="url(#blur1)"/>
<ellipse cx="59.1" cy="27.5" rx="9.1" ry="5.2" transform="rotate(0 59.1 27.5)" fill="#3a34de" opacity="0.95"/>
<ellipse cx="59.3" cy="27.7" rx="4.1" ry="2.3" transform="rotate(0 59.1 27.5)" fill="#10108e" opacity="0.80" filter="url(#blur1)"/>
<ellipse cx="77.4" cy="6.4" rx="7.8" ry="4.5" transform="rotate(0 77.4 6.4)" fill="#3a34de" opacity="0.95"/>
<ellipse cx="77.6" cy="5.7" rx="3.5" ry="2.0" transform="rotate(0 77.4 6.4)" fill="#10108e" opacity="0.80" filter="url(#blur1)"/>
<ellipse cx="94.3" cy="10.6" rx="7.8" ry="5.2" transform="rotate(0 94.3 10.6)" fill="#3a34de" opacity="0.95"/>
<ellipse cx="94.2" cy="10.4" rx="3.5" ry="2.3" transform="rotate(0 94.3 10.6)" fill="#10108e" opacity="0.80" filter="url(#blur1)"/>
<ellipse cx="22.5" cy="31.7" rx="6.5" ry="7.8" transform="rotate(0 22.5 31.7)" fill="#3a34de" opacity="0.95"/>
<ellipse cx="22.9" cy="32.7" rx="2.9" ry="3.5" transform="rotate(0 22.5 31.7)" fill="#10108e" opacity="0.80" filter="url(#blur1)"/>
<ellipse cx="36.6" cy="41.6" rx="4.5" ry="7.8" transform="rotate(0 36.6 41.6)" fill="#3a34de" opacity="0.95"/>
<ellipse cx="37.5" cy="41.7" rx="2.0" ry="3.5" transform="rotate(0 36.6 41.6)" fill="#10108e" opacity="0.80" filter="url(#blur1)"/>
<ellipse cx="91.5" cy="33.1" rx="7.8" ry="4.5" transform="rotate(30 91.5 33.1)" fill="#3a34de" opacity="0.95"/>
<ellipse cx="91.4" cy="32.6" rx="3.5" ry="2.0" transform="rotate(30 91.5 33.1)" fill="#10108e" opacity="0.80" filter="url(#blur1)"/>
<ellipse cx="30.9" cy="62.7" rx="3.9" ry="9.1" transform="rotate(0 30.9 62.7)" fill="#3a34de" opacity="0.95"/>
<ellipse cx="30.0" cy="61.8" rx="1.8" ry="4.1" transform="rotate(0 30.9 62.7)" fill="#10108e" opacity="0.80" filter="url(#blur1)"/>
<ellipse cx="60.5" cy="67.0" rx="5.2" ry="7.2" transform="rotate(0 60.5 67.0)" fill="#3a34de" opacity="0.95"/>
<ellipse cx="60.4" cy="66.6" rx="2.3" ry="3.2" transform="rotate(0 60.5 67.0)" fill="#10108e" opacity="0.80" filter="url(#blur1)"/>
<ellipse cx="50.6" cy="76.9" rx="11.7" ry="5.9" transform="rotate(0 50.6 76.9)" fill="#3a34de" opacity="0.95"/>
<ellipse cx="50.4" cy="77.7" rx="5.3" ry="2.6" transform="rotate(0 50.6 76.9)" fill="#10108e" opacity="0.80" filter="url(#blur1)"/>
<ellipse cx="4.1" cy="71.2" rx="4.5" ry="9.1" transform="rotate(0 4.1 71.2)" fill="#3a34de" opacity="0.95"/>
<ellipse cx="4.2" cy="71.3" rx="2.0" ry="4.1" transform="rotate(0 4.1 71.2)" fill="#10108e" opacity="0.80" filter="url(#blur1)"/>
<ellipse cx="18.2" cy="83.9" rx="5.2" ry="7.8" transform="rotate(-30 18.2 83.9)" fill="#3a34de" opacity="0.95"/>
<ellipse cx="17.7" cy="82.9" rx="2.3" ry="3.5" transform="rotate(-30 18.2 83.9)" fill="#10108e" opacity="0.80" filter="url(#blur1)"/>
<ellipse cx="90.1" cy="61.3" rx="3.9" ry="11.7" transform="rotate(-40 90.1 61.3)" fill="#3a34de" opacity="0.95"/>
<ellipse cx="89.8" cy="60.6" rx="1.8" ry="5.3" transform="rotate(-40 90.1 61.3)" fill="#10108e" opacity="0.80" filter="url(#blur1)"/>
<ellipse cx="92.9" cy="85.3" rx="4.5" ry="9.1" transform="rotate(-20 92.9 85.3)" fill="#3a34de" opacity="0.95"/>
<ellipse cx="92.9" cy="86.3" rx="2.0" ry="4.1" transform="rotate(-20 92.9 85.3)" fill="#10108e" opacity="0.80" filter="url(#blur1)"/>
<ellipse cx="59.1" cy="95.1" rx="7.8" ry="5.9" transform="rotate(0 59.1 95.1)" fill="#3a34de" opacity="0.95"/>
<ellipse cx="59.4" cy="94.5" rx="3.5" ry="2.6" transform="rotate(0 59.1 95.1)" fill="#10108e" opacity="0.80" filter="url(#blur1)"/>
<ellipse cx="81.7" cy="102.2" rx="7.8" ry="7.8" transform="rotate(0 81.7 102.2)" fill="#3a34de" opacity="0.95"/>
<ellipse cx="82.5" cy="102.8" rx="3.5" ry="3.5" transform="rotate(0 81.7 102.2)" fill="#10108e" opacity="0.80" filter="url(#blur1)"/>
<ellipse cx="15.4" cy="121.9" rx="5.9" ry="9.1" transform="rotate(0 15.4 121.9)" fill="#3a34de" opacity="0.95"/>
<ellipse cx="15.9" cy="122.7" rx="2.6" ry="4.1" transform="rotate(0 15.4 121.9)" fill="#10108e" opacity="0.80" filter="url(#blur1)"/>
<ellipse cx="43.6" cy="114.9" rx="5.9" ry="5.9" transform="rotate(30 43.6 114.9)" fill="#3a34de" opacity="0.95"/>
<ellipse cx="44.1" cy="115.5" rx="2.6" ry="2.6" transform="rotate(30 43.6 114.9)" fill="#10108e" opacity="0.80" filter="url(#blur1)"/>
<ellipse cx="61.9" cy="120.5" rx="9.8" ry="9.1" transform="rotate(0 61.9 120.5)" fill="#3a34de" opacity="0.95"/>
<ellipse cx="61.6" cy="121.5" rx="4.4" ry="4.1" transform="rotate(0 61.9 120.5)" fill="#10108e" opacity="0.80" filter="url(#blur1)"/>
<ellipse cx="88.7" cy="121.9" rx="5.2" ry="7.8" transform="rotate(0 88.7 121.9)" fill="#3a34de" opacity="0.95"/>
<ellipse cx="89.6" cy="121.2" rx="2.3" ry="3.5" transform="rotate(0 88.7 121.9)" fill="#10108e" opacity="0.80" filter="url(#blur1)"/>
<ellipse cx="40.8" cy="131.8" rx="5.2" ry="4.5" transform="rotate(0 40.8 131.8)" fill="#3a34de" opacity="0.95"/>
<ellipse cx="41.3" cy="132.2" rx="2.3" ry="2.0" transform="rotate(0 40.8 131.8)" fill="#10108e" opacity="0.80" filter="url(#blur1)"/>
<ellipse cx="4.1" cy="121.9" rx="3.9" ry="9.1" transform="rotate(0 4.1 121.9)" fill="#3a34de" opacity="0.95"/>
<ellipse cx="4.0" cy="122.0" rx="1.8" ry="4.1" transform="rotate(0 4.1 121.9)" fill="#10108e" opacity="0.80" filter="url(#blur1)"/>
<ellipse cx="77.4" cy="136.0" rx="7.8" ry="3.9" transform="rotate(0 77.4 136.0)" fill="#3a34de" opacity="0.95"/>
<ellipse cx="77.4" cy="136.8" rx="3.5" ry="1.8" transform="rotate(0 77.4 136.0)" fill="#10108e" opacity="0.80" filter="url(#blur1)"/>
<ellipse cx="121.6" cy="13.4" rx="4.5" ry="11.7" transform="rotate(-50 121.6 13.4)" fill="#3a34de" opacity="0.95"/>
<ellipse cx="121.6" cy="14.1" rx="2.0" ry="5.3" transform="rotate(-50 121.6 13.4)" fill="#10108e" opacity="0.80" filter="url(#blur1)"/>
<ellipse cx="135.7" cy="6.4" rx="7.8" ry="5.2" transform="rotate(0 135.7 6.4)" fill="#3a34de" opacity="0.95"/>
<ellipse cx="135.4" cy="7.2" rx="3.5" ry="2.3" transform="rotate(0 135.7 6.4)" fill="#10108e" opacity="0.80" filter="url(#blur1)"/>
<ellipse cx="166.7" cy="9.2" rx="9.8" ry="7.8" transform="rotate(0 166.7 9.2)" fill="#3a34de" opacity="0.95"/>
<ellipse cx="167.5" cy="9.1" rx="4.4" ry="3.5" transform="rotate(0 166.7 9.2)" fill="#10108e" opacity="0.80" filter="url(#blur1)"/>
<ellipse cx="109.0" cy="23.3" rx="7.8" ry="5.9" transform="rotate(0 109.0 23.3)" fill="#3a34de" opacity="0.95"/>
<ellipse cx="109.1" cy="24.1" rx="3.5" ry="2.6" transform="rotate(0 109.0 23.3)" fill="#10108e" opacity="0.80" filter="url(#blur1)"/>
<ellipse cx="145.6" cy="26.1" rx="7.8" ry="5.9" transform="rotate(0 145.6 26.1)" fill="#3a34de" opacity="0.95"/>
<ellipse cx="146.0" cy="26.1" rx="3.5" ry="2.6" transform="rotate(0 145.6 26.1)" fill="#10108e" opacity="0.80" filter="url(#blur1)"/>
<ellipse cx="180.8" cy="45.8" rx="5.2" ry="5.2" transform="rotate(0 180.8 45.8)" fill="#3a34de" opacity="0.95"/>
<ellipse cx="180.2" cy="45.4" rx="2.3" ry="2.3" transform="rotate(0 180.8 45.8)" fill="#10108e" opacity="0.80" filter="url(#blur1)"/>
<ellipse cx="190.7" cy="54.3" rx="7.8" ry="7.8" transform="rotate(0 190.7 54.3)" fill="#3a34de" opacity="0.95"/>
<ellipse cx="191.1" cy="53.6" rx="3.5" ry="3.5" transform="rotate(0 190.7 54.3)" fill="#10108e" opacity="0.80" filter="url(#blur1)"/>
<ellipse cx="147.0" cy="55.7" rx="5.2" ry="10.4" transform="rotate(-30 147.0 55.7)" fill="#3a34de" opacity="0.95"/>
<ellipse cx="147.8" cy="55.2" rx="2.3" ry="4.7" transform="rotate(-30 147.0 55.7)" fill="#10108e" opacity="0.80" filter="url(#blur1)"/>
<ellipse cx="175.2" cy="61.3" rx="3.9" ry="9.1" transform="rotate(-30 175.2 61.3)" fill="#3a34de" opacity="0.95"/>
<ellipse cx="176.0" cy="60.9" rx="1.8" ry="4.1" transform="rotate(-30 175.2 61.3)" fill="#10108e" opacity="0.80" filter="url(#blur1)"/>
<ellipse cx="111.8" cy="62.7" rx="6.5" ry="5.9" transform="rotate(0 111.8 62.7)" fill="#3a34de" opacity="0.95"/>
<ellipse cx="112.7" cy="63.1" rx="2.9" ry="2.6" transform="rotate(0 111.8 62.7)" fill="#10108e" opacity="0.80" filter="url(#blur1)"/>
<ellipse cx="131.5" cy="62.7" rx="5.2" ry="7.8" transform="rotate(0 131.5 62.7)" fill="#3a34de" opacity="0.95"/>
<ellipse cx="131.5" cy="62.7" rx="2.3" ry="3.5" transform="rotate(0 131.5 62.7)" fill="#10108e" opacity="0.80" filter="url(#blur1)"/>
<ellipse cx="121.6" cy="75.4" rx="6.5" ry="5.2" transform="rotate(0 121.6 75.4)" fill="#3a34de" opacity="0.95"/>
<ellipse cx="121.9" cy="75.6" rx="2.9" ry="2.3" transform="rotate(0 121.6 75.4)" fill="#10108e" opacity="0.80" filter="url(#blur1)"/>
<ellipse cx="199.2" cy="62.7" rx="4.5" ry="7.8" transform="rotate(0 199.2 62.7)" fill="#3a34de" opacity="0.95"/>
<ellipse cx="198.8" cy="62.1" rx="2.0" ry="3.5" transform="rotate(0 199.2 62.7)" fill="#10108e" opacity="0.80" filter="url(#blur1)"/>
<ellipse cx="148.4" cy="86.7" rx="9.8" ry="7.8" transform="rotate(0 148.4 86.7)" fill="#3a34de" opacity="0.95"/>
<ellipse cx="148.4" cy="87.6" rx="4.4" ry="3.5" transform="rotate(0 148.4 86.7)" fill="#10108e" opacity="0.80" filter="url(#blur1)"/>
<ellipse cx="175.2" cy="86.7" rx="7.8" ry="5.9" transform="rotate(0 175.2 86.7)" fill="#3a34de" opacity="0.95"/>
<ellipse cx="175.4" cy="85.9" rx="3.5" ry="2.6" transform="rotate(0 175.2 86.7)" fill="#10108e" opacity="0.80" filter="url(#blur1)"/>
<ellipse cx="190.7" cy="89.5" rx="6.5" ry="5.9" transform="rotate(0 190.7 89.5)" fill="#3a34de" opacity="0.95"/>
<ellipse cx="191.3" cy="90.0" rx="2.9" ry="2.6" transform="rotate(0 190.7 89.5)" fill="#10108e" opacity="0.80" filter="url(#blur1)"/>
<ellipse cx="111.8" cy="90.9" rx="7.8" ry="5.2" transform="rotate(0 111.8 90.9)" fill="#3a34de" opacity="0.95"/>
<ellipse cx="112.6" cy="90.3" rx="3.5" ry="2.3" transform="rotate(0 111.8 90.9)" fill="#10108e" opacity="0.80" filter="url(#blur1)"/>
<ellipse cx="135.7" cy="105.0" rx="10.4" ry="5.9" transform="rotate(0 135.7 105.0)" fill="#3a34de" opacity="0.95"/>
<ellipse cx="136.2" cy="104.1" rx="4.7" ry="2.6" transform="rotate(0 135.7 105.0)" fill="#10108e" opacity="0.80" filter="url(#blur1)"/>
<ellipse cx="121.6" cy="110.7" rx="4.5" ry="9.1" transform="rotate(-40 121.6 110.7)" fill="#3a34de" opacity="0.95"/>
<ellipse cx="121.9" cy="110.2" rx="2.0" ry="4.1" transform="rotate(-40 121.6 110.7)" fill="#10108e" opacity="0.80" filter="url(#blur1)"/>
<ellipse cx="155.5" cy="113.5" rx="5.2" ry="9.1" transform="rotate(0 155.5 113.5)" fill="#3a34de" opacity="0.95"/>
<ellipse cx="155.0" cy="114.3" rx="2.3" ry="4.1" transform="rotate(0 155.5 113.5)" fill="#10108e" opacity="0.80" filter="url(#blur1)"/>
<ellipse cx="172.4" cy="112.1" rx="7.8" ry="9.1" transform="rotate(-30 172.4 112.1)" fill="#3a34de" opacity="0.95"/>
<ellipse cx="171.6" cy="112.1" rx="3.5" ry="4.1" transform="rotate(-30 172.4 112.1)" fill="#10108e" opacity="0.80" filter="url(#blur1)"/>
<ellipse cx="199.2" cy="114.9" rx="4.5" ry="7.8" transform="rotate(0 199.2 114.9)" fill="#3a34de" opacity="0.95"/>
<ellipse cx="199.9" cy="114.4" rx="2.0" ry="3.5" transform="rotate(0 199.2 114.9)" fill="#10108e" opacity="0.80" filter="url(#blur1)"/>
<ellipse cx="117.4" cy="129.0" rx="7.8" ry="7.8" transform="rotate(0 117.4 129.0)" fill="#3a34de" opacity="0.95"/>
<ellipse cx="116.8" cy="129.8" rx="3.5" ry="3.5" transform="rotate(0 117.4 129.0)" fill="#10108e" opacity="0.80" filter="url(#blur1)"/>
<ellipse cx="173.8" cy="136.0" rx="5.2" ry="3.9" transform="rotate(0 173.8 136.0)" fill="#3a34de" opacity="0.95"/>
<ellipse cx="173.6" cy="136.4" rx="2.3" ry="1.8" transform="rotate(0 173.8 136.0)" fill="#10108e" opacity="0.80" filter="url(#blur1)"/>
<ellipse cx="138.5" cy="136.0" rx="5.9" ry="3.9" transform="rotate(0 138.5 136.0)" fill="#3a34de" opacity="0.95"/>
<ellipse cx="137.6" cy="135.7" rx="2.6" ry="1.8" transform="rotate(0 138.5 136.0)" fill="#10108e" opacity="0.80" filter="url(#blur1)"/>
</g>
<rect width="204.10000000000002" height="141.10000000000002" filter="url(#grain2)" opacity="0.6"/>
<circle cx="36.4" cy="94.2" r="2.2" fill="#fdfafd" fill-opacity="0.6" stroke="#7a5cc8" stroke-width="1.1"/>
<circle cx="18.6" cy="132.9" r="2.2" fill="#fdfafd" fill-opacity="0.6" stroke="#7a5cc8" stroke-width="1.1"/>
<circle cx="7.1" cy="102.0" r="2.2" fill="#fdfafd" fill-opacity="0.6" stroke="#7a5cc8" stroke-width="1.1"/>
<circle cx="6.2" cy="37.1" r="2.2" fill="#fdfafd" fill-opacity="0.6" stroke="#7a5cc8" stroke-width="1.1"/>
<circle cx="164.8" cy="23.5" r="2.2" fill="#fdfafd" fill-opacity="0.6" stroke="#7a5cc8" stroke-width="1.1"/>
<circle cx="38.8" cy="96.8" r="2.2" fill="#fdfafd" fill-opacity="0.6" stroke="#7a5cc8" stroke-width="1.1"/>
<circle cx="79.2" cy="7.9" r="2.2" fill="#fdfafd" fill-opacity="0.6" stroke="#7a5cc8" stroke-width="1.1"/>
<circle cx="200.1" cy="22.8" r="2.2" fill="#fdfafd" fill-opacity="0.6" stroke="#7a5cc8" stroke-width="1.1"/>
<circle cx="9.3" cy="49.2" r="2.2" fill="#fdfafd" fill-opacity="0.6" stroke="#7a5cc8" stroke-width="1.1"/>
<circle cx="125.1" cy="103.8" r="2.2" fill="#fdfafd" fill-opacity="0.6" stroke="#7a5cc8" stroke-width="1.1"/>
<circle cx="24.6" cy="48.2" r="2.2" fill="#fdfafd" fill-opacity="0.6" stroke="#7a5cc8" stroke-width="1.1"/>
<circle cx="8.2" cy="63.5" r="2.2" fill="#fdfafd" fill-opacity="0.6" stroke="#7a5cc8" stroke-width="1.1"/>
<circle cx="155.3" cy="103.4" r="2.2" fill="#fdfafd" fill-opacity="0.6" stroke="#7a5cc8" stroke-width="1.1"/>
<circle cx="182.5" cy="105.6" r="2.2" fill="#fdfafd" fill-opacity="0.6" stroke="#7a5cc8" stroke-width="1.1"/>
<circle cx="174.6" cy="98.7" r="2.2" fill="#fdfafd" fill-opacity="0.6" stroke="#7a5cc8" stroke-width="1.1"/>
<circle cx="96.6" cy="32.9" r="2.2" fill="#fdfafd" fill-opacity="0.6" stroke="#7a5cc8" stroke-width="1.1"/>
<circle cx="134.2" cy="45.4" r="2.2" fill="#fdfafd" fill-opacity="0.6" stroke="#7a5cc8" stroke-width="1.1"/>
<circle cx="22.4" cy="63.4" r="2.2" fill="#fdfafd" fill-opacity="0.6" stroke="#7a5cc8" stroke-width="1.1"/>
<circle cx="177.0" cy="19.5" r="2.2" fill="#fdfafd" fill-opacity="0.6" stroke="#7a5cc8" stroke-width="1.1"/>
<circle cx="119.0" cy="55.9" r="2.2" fill="#fdfafd" fill-opacity="0.6" stroke="#7a5cc8" stroke-width="1.1"/>
<circle cx="105.0" cy="21.7" r="2.2" fill="#fdfafd" fill-opacity="0.6" stroke="#7a5cc8" stroke-width="1.1"/>
<circle cx="194.0" cy="37.5" r="2.2" fill="#fdfafd" fill-opacity="0.6" stroke="#7a5cc8" stroke-width="1.1"/>
<circle cx="123.3" cy="59.5" r="2.2" fill="#fdfafd" fill-opacity="0.6" stroke="#7a5cc8" stroke-width="1.1"/>
<circle cx="5.6" cy="78.5" r="2.2" fill="#fdfafd" fill-opacity="0.6" stroke="#7a5cc8" stroke-width="1.1"/>
<circle cx="30.1" cy="9.8" r="2.2" fill="#fdfafd" fill-opacity="0.6" stroke="#7a5cc8" stroke-width="1.1"/>
<circle cx="8.7" cy="24.1" r="2.2" fill="#fdfafd" fill-opacity="0.6" stroke="#7a5cc8" stroke-width="1.1"/>
<circle cx="21.2" cy="89.1" r="2.2" fill="#fdfafd" fill-opacity="0.6" stroke="#7a5cc8" stroke-width="1.1"/>
<circle cx="103.7" cy="136.8" r="2.2" fill="#fdfafd" fill-opacity="0.6" stroke="#7a5cc8" stroke-width="1.1"/>
<circle cx="188.9" cy="138.3" r="2.2" fill="#fdfafd" fill-opacity="0.6" stroke="#7a5cc8" stroke-width="1.1"/>
<circle cx="48.5" cy="63.0" r="2.2" fill="#fdfafd" fill-opacity="0.6" stroke="#7a5cc8" stroke-width="1.1"/>
<circle cx="52.2" cy="83.1" r="2.2" fill="#fdfafd" fill-opacity="0.6" stroke="#7a5cc8" stroke-width="1.1"/>
<circle cx="126.9" cy="111.7" r="2.2" fill="#fdfafd" fill-opacity="0.6" stroke="#7a5cc8" stroke-width="1.1"/>
<circle cx="144.0" cy="37.2" r="2.2" fill="#fdfafd" fill-opacity="0.6" stroke="#7a5cc8" stroke-width="1.1"/>
<circle cx="86.6" cy="74.1" r="2.2" fill="#fdfafd" fill-opacity="0.6" stroke="#7a5cc8" stroke-width="1.1"/>
<circle cx="3.0" cy="6.9" r="2.2" fill="#fdfafd" fill-opacity="0.6" stroke="#7a5cc8" stroke-width="1.1"/>
<circle cx="83.8" cy="17.2" r="2.2" fill="#fdfafd" fill-opacity="0.6" stroke="#7a5cc8" stroke-width="1.1"/>
<circle cx="146.8" cy="35.0" r="2.2" fill="#fdfafd" fill-opacity="0.6" stroke="#7a5cc8" stroke-width="1.1"/>
<circle cx="22.0" cy="26.9" r="2.2" fill="#fdfafd" fill-opacity="0.6" stroke="#7a5cc8" stroke-width="1.1"/>
<circle cx="48.3" cy="31.8" r="2.2" fill="#fdfafd" fill-opacity="0.6" stroke="#7a5cc8" stroke-width="1.1"/>
<circle cx="106.2" cy="65.7" r="2.2" fill="#fdfafd" fill-opacity="0.6" stroke="#7a5cc8" stroke-width="1.1"/>
<circle cx="64.0" cy="90.0" r="2.2" fill="#fdfafd" fill-opacity="0.6" stroke="#7a5cc8" stroke-width="1.1"/>
<circle cx="44.5" cy="126.3" r="2.2" fill="#fdfafd" fill-opacity="0.6" stroke="#7a5cc8" stroke-width="1.1"/>
<circle cx="194.7" cy="101.9" r="2.2" fill="#fdfafd" fill-opacity="0.6" stroke="#7a5cc8" stroke-width="1.1"/>
<circle cx="88.8" cy="72.1" r="2.2" fill="#fdfafd" fill-opacity="0.6" stroke="#7a5cc8" stroke-width="1.1"/>
<circle cx="118.3" cy="9.0" r="2.2" fill="#fdfafd" fill-opacity="0.6" stroke="#7a5cc8" stroke-width="1.1"/>
<circle cx="85.6" cy="74.0" r="2.2" fill="#fdfafd" fill-opacity="0.6" stroke="#7a5cc8" stroke-width="1.1"/>
<circle cx="38.3" cy="14.9" r="2.2" fill="#fdfafd" fill-opacity="0.6" stroke="#7a5cc8" stroke-width="1.1"/>
<circle cx="162.6" cy="52.2" r="2.2" fill="#fdfafd" fill-opacity="0.6" stroke="#7a5cc8" stroke-width="1.1"/>
<circle cx="105.9" cy="128.3" r="2.2" fill="#fdfafd" fill-opacity="0.6" stroke="#7a5cc8" stroke-width="1.1"/>
<circle cx="124.2" cy="41.7" r="2.2" fill="#fdfafd" fill-opacity="0.6" stroke="#7a5cc8" stroke-width="1.1"/>
<circle cx="198.8" cy="53.0" r="2.2" fill="#fdfafd" fill-opacity="0.6" stroke="#7a5cc8" stroke-width="1.1"/>
<circle cx="5.8" cy="96.0" r="2.2" fill="#fdfafd" fill-opacity="0.6" stroke="#7a5cc8" stroke-width="1.1"/>
<circle cx="22.2" cy="43.9" r="2.2" fill="#fdfafd" fill-opacity="0.6" stroke="#7a5cc8" stroke-width="1.1"/>
<circle cx="170.2" cy="94.2" r="2.2" fill="#fdfafd" fill-opacity="0.6" stroke="#7a5cc8" stroke-width="1.1"/>
<circle cx="5.1" cy="63.9" r="2.2" fill="#fdfafd" fill-opacity="0.6" stroke="#7a5cc8" stroke-width="1.1"/>
<circle cx="84.2" cy="68.6" r="2.2" fill="#fdfafd" fill-opacity="0.6" stroke="#7a5cc8" stroke-width="1.1"/>
<circle cx="43.7" cy="82.7" r="2.2" fill="#fdfafd" fill-opacity="0.6" stroke="#7a5cc8" stroke-width="1.1"/>
<circle cx="16.8" cy="41.0" r="2.2" fill="#fdfafd" fill-opacity="0.6" stroke="#7a5cc8" stroke-width="1.1"/>
<circle cx="76.6" cy="130.2" r="2.2" fill="#fdfafd" fill-opacity="0.6" stroke="#7a5cc8" stroke-width="1.1"/>
<circle cx="17.3" cy="105.5" r="2.2" fill="#fdfafd" fill-opacity="0.6" stroke="#7a5cc8" stroke-width="1.1"/>
<circle cx="40.5" cy="80.4" r="2.2" fill="#fdfafd" fill-opacity="0.6" stroke="#7a5cc8" stroke-width="1.1"/>
<circle cx="80.4" cy="65.5" r="2.2" fill="#fdfafd" fill-opacity="0.6" stroke="#7a5cc8" stroke-width="1.1"/>
<circle cx="152.8" cy="56.2" r="2.2" fill="#fdfafd" fill-opacity="0.6" stroke="#7a5cc8" stroke-width="1.1"/>
<circle cx="26.4" cy="18.7" r="2.2" fill="#fdfafd" fill-opacity="0.6" stroke="#7a5cc8" stroke-width="1.1"/>
<circle cx="18.1" cy="118.5" r="2.2" fill="#fdfafd" fill-opacity="0.6" stroke="#7a5cc8" stroke-width="1.1"/>
<circle cx="130.3" cy="133.6" r="2.2" fill="#fdfafd" fill-opacity="0.6" stroke="#7a5cc8" stroke-width="1.1"/>
<circle cx="140.6" cy="5.4" r="2.2" fill="#fdfafd" fill-opacity="0.6" stroke="#7a5cc8" stroke-width="1.1"/>
<circle cx="133.9" cy="108.6" r="2.2" fill="#fdfafd" fill-opacity="0.6" stroke="#7a5cc8" stroke-width="1.1"/>
<circle cx="146.8" cy="70.3" r="2.2" fill="#fdfafd" fill-opacity="0.6" stroke="#7a5cc8" stroke-width="1.1"/>
<circle cx="73.6" cy="64.7" r="2.2" fill="#fdfafd" fill-opacity="0.6" stroke="#7a5cc8" stroke-width="1.1"/>
<circle cx="161.8" cy="38.9" r="2.2" fill="#fdfafd" fill-opacity="0.6" stroke="#7a5cc8" stroke-width="1.1"/>
<circle cx="107.3" cy="67.5" r="2.2" fill="#fdfafd" fill-opacity="0.6" stroke="#7a5cc8" stroke-width="1.1"/>
<circle cx="193.0" cy="112.3" r="2.2" fill="#fdfafd" fill-opacity="0.6" stroke="#7a5cc8" stroke-width="1.1"/>
<circle cx="188.5" cy="116.6" r="2.2" fill="#fdfafd" fill-opacity="0.6" stroke="#7a5cc8" stroke-width="1.1"/>
<circle cx="61.4" cy="33.8" r="2.2" fill="#fdfafd" fill-opacity="0.6" stroke="#7a5cc8" stroke-width="1.1"/>
<circle cx="99.8" cy="37.6" r="2.2" fill="#fdfafd" fill-opacity="0.6" stroke="#7a5cc8" stroke-width="1.1"/>
<circle cx="87.6" cy="95.1" r="2.2" fill="#fdfafd" fill-opacity="0.6" stroke="#7a5cc8" stroke-width="1.1"/>
<circle cx="185.8" cy="82.3" r="2.2" fill="#fdfafd" fill-opacity="0.6" stroke="#7a5cc8" stroke-width="1.1"/>
<circle cx="165.7" cy="15.2" r="2.2" fill="#fdfafd" fill-opacity="0.6" stroke="#7a5cc8" stroke-width="1.1"/>
<circle cx="73.2" cy="138.8" r="2.2" fill="#fdfafd" fill-opacity="0.6" stroke="#7a5cc8" stroke-width="1.1"/>
<circle cx="31.3" cy="59.1" r="2.2" fill="#fdfafd" fill-opacity="0.6" stroke="#7a5cc8" stroke-width="1.1"/>
<circle cx="15.4" cy="13.8" r="2.2" fill="#fdfafd" fill-opacity="0.6" stroke="#7a5cc8" stroke-width="1.1"/>
<circle cx="181.2" cy="137.5" r="2.2" fill="#fdfafd" fill-opacity="0.6" stroke="#7a5cc8" stroke-width="1.1"/>
<circle cx="131.7" cy="19.6" r="2.2" fill="#fdfafd" fill-opacity="0.6" stroke="#7a5cc8" stroke-width="1.1"/>
<circle cx="61.3" cy="33.8" r="2.2" fill="#fdfafd" fill-opacity="0.6" stroke="#7a5cc8" stroke-width="1.1"/>
<circle cx="136.2" cy="95.4" r="2.2" fill="#fdfafd" fill-opacity="0.6" stroke="#7a5cc8" stroke-width="1.1"/>
<circle cx="89.8" cy="73.8" r="2.2" fill="#fdfafd" fill-opacity="0.6" stroke="#7a5cc8" stroke-width="1.1"/>
<circle cx="24.4" cy="76.2" r="2.2" fill="#fdfafd" fill-opacity="0.6" stroke="#7a5cc8" stroke-width="1.1"/>
<circle cx="192.1" cy="105.6" r="2.2" fill="#fdfafd" fill-opacity="0.6" stroke="#7a5cc8" stroke-width="1.1"/>
<circle cx="21.2" cy="72.8" r="2.2" fill="#fdfafd" fill-opacity="0.6" stroke="#7a5cc8" stroke-width="1.1"/>
<circle cx="145.1" cy="37.3" r="2.2" fill="#fdfafd" fill-opacity="0.6" stroke="#7a5cc8" stroke-width="1.1"/>
<circle cx="181.1" cy="65.2" r="2.2" fill="#fdfafd" fill-opacity="0.6" stroke="#7a5cc8" stroke-width="1.1"/>
<circle cx="142.7" cy="57.4" r="2.2" fill="#fdfafd" fill-opacity="0.6" stroke="#7a5cc8" stroke-width="1.1"/>
<circle cx="201.1" cy="109.3" r="2.2" fill="#fdfafd" fill-opacity="0.6" stroke="#7a5cc8" stroke-width="1.1"/>
<circle cx="116.7" cy="21.8" r="2.2" fill="#fdfafd" fill-opacity="0.6" stroke="#7a5cc8" stroke-width="1.1"/>
<circle cx="90.3" cy="6.0" r="2.2" fill="#fdfafd" fill-opacity="0.6" stroke="#7a5cc8" stroke-width="1.1"/>
<circle cx="121.1" cy="122.9" r="2.2" fill="#fdfafd" fill-opacity="0.6" stroke="#7a5cc8" stroke-width="1.1"/>
<circle cx="38.1" cy="71.9" r="2.2" fill="#fdfafd" fill-opacity="0.6" stroke="#7a5cc8" stroke-width="1.1"/>
<circle cx="98.5" cy="57.5" r="2.2" fill="#fdfafd" fill-opacity="0.6" stroke="#7a5cc8" stroke-width="1.1"/>
<circle cx="144.2" cy="130.4" r="2.2" fill="#fdfafd" fill-opacity="0.6" stroke="#7a5cc8" stroke-width="1.1"/>
<circle cx="143.1" cy="66.8" r="2.2" fill="#fdfafd" fill-opacity="0.6" stroke="#7a5cc8" stroke-width="1.1"/>
<circle cx="194.5" cy="47.3" r="2.2" fill="#fdfafd" fill-opacity="0.6" stroke="#7a5cc8" stroke-width="1.1"/>
<circle cx="151.2" cy="92.3" r="2.2" fill="#fdfafd" fill-opacity="0.6" stroke="#7a5cc8" stroke-width="1.1"/>
<circle cx="154.4" cy="118.8" r="2.2" fill="#fdfafd" fill-opacity="0.6" stroke="#7a5cc8" stroke-width="1.1"/>
<circle cx="47.0" cy="87.2" r="2.2" fill="#fdfafd" fill-opacity="0.6" stroke="#7a5cc8" stroke-width="1.1"/>
<circle cx="82.6" cy="93.4" r="2.2" fill="#fdfafd" fill-opacity="0.6" stroke="#7a5cc8" stroke-width="1.1"/>
<circle cx="197.5" cy="89.0" r="2.2" fill="#fdfafd" fill-opacity="0.6" stroke="#7a5cc8" stroke-width="1.1"/>
<circle cx="4.3" cy="65.7" r="2.2" fill="#fdfafd" fill-opacity="0.6" stroke="#7a5cc8" stroke-width="1.1"/>
<circle cx="144.4" cy="123.1" r="2.2" fill="#fdfafd" fill-opacity="0.6" stroke="#7a5cc8" stroke-width="1.1"/>
<circle cx="132.1" cy="113.9" r="2.2" fill="#fdfafd" fill-opacity="0.6" stroke="#7a5cc8" stroke-width="1.1"/>
<circle cx="5.4" cy="131.3" r="2.2" fill="#fdfafd" fill-opacity="0.6" stroke="#7a5cc8" stroke-width="1.1"/>
<circle cx="148.0" cy="85.1" r="2.2" fill="#fdfafd" fill-opacity="0.6" stroke="#7a5cc8" stroke-width="1.1"/>
<circle cx="183.2" cy="123.3" r="2.2" fill="#fdfafd" fill-opacity="0.6" stroke="#7a5cc8" stroke-width="1.1"/>
<circle cx="22.1" cy="113.8" r="2.2" fill="#fdfafd" fill-opacity="0.6" stroke="#7a5cc8" stroke-width="1.1"/>
<circle cx="155.5" cy="29.4" r="2.2" fill="#fdfafd" fill-opacity="0.6" stroke="#7a5cc8" stroke-width="1.1"/>
<circle cx="150.9" cy="82.4" r="2.2" fill="#fdfafd" fill-opacity="0.6" stroke="#7a5cc8" stroke-width="1.1"/>
<circle cx="40.3" cy="112.3" r="2.2" fill="#fdfafd" fill-opacity="0.6" stroke="#7a5cc8" stroke-width="1.1"/>
<circle cx="29.6" cy="85.9" r="2.2" fill="#fdfafd" fill-opacity="0.6" stroke="#7a5cc8" stroke-width="1.1"/>
<circle cx="88.9" cy="36.8" r="2.2" fill="#fdfafd" fill-opacity="0.6" stroke="#7a5cc8" stroke-width="1.1"/>
<circle cx="115.3" cy="66.0" r="2.2" fill="#fdfafd" fill-opacity="0.6" stroke="#7a5cc8" stroke-width="1.1"/>
<circle cx="43.0" cy="134.5" r="2.2" fill="#fdfafd" fill-opacity="0.6" stroke="#7a5cc8" stroke-width="1.1"/>
<circle cx="16.6" cy="2.4" r="2.2" fill="#fdfafd" fill-opacity="0.6" stroke="#7a5cc8" stroke-width="1.1"/>
<circle cx="99.1" cy="116.8" r="2.2" fill="#fdfafd" fill-opacity="0.6" stroke="#7a5cc8" stroke-width="1.1"/>
<circle cx="133.7" cy="105.5" r="2.2" fill="#fdfafd" fill-opacity="0.6" stroke="#7a5cc8" stroke-width="1.1"/>
<circle cx="99.0" cy="94.5" r="2.2" fill="#fdfafd" fill-opacity="0.6" stroke="#7a5cc8" stroke-width="1.1"/>
<circle cx="69.0" cy="38.6" r="2.2" fill="#fdfafd" fill-opacity="0.6" stroke="#7a5cc8" stroke-width="1.1"/>
<circle cx="102.6" cy="5.8" r="2.2" fill="#fdfafd" fill-opacity="0.6" stroke="#7a5cc8" stroke-width="1.1"/>
<circle cx="18.0" cy="105.4" r="2.2" fill="#fdfafd" fill-opacity="0.6" stroke="#7a5cc8" stroke-width="1.1"/>
<circle cx="36.8" cy="104.9" r="2.2" fill="#fdfafd" fill-opacity="0.6" stroke="#7a5cc8" stroke-width="1.1"/>
<circle cx="159.0" cy="57.5" r="2.2" fill="#fdfafd" fill-opacity="0.6" stroke="#7a5cc8" stroke-width="1.1"/>
<circle cx="137.1" cy="110.0" r="2.2" fill="#fdfafd" fill-opacity="0.6" stroke="#7a5cc8" stroke-width="1.1"/>
<circle cx="174.9" cy="20.5" r="2.2" fill="#fdfafd" fill-opacity="0.6" stroke="#7a5cc8" stroke-width="1.1"/>
<circle cx="34.5" cy="54.3" r="2.2" fill="#fdfafd" fill-opacity="0.6" stroke="#7a5cc8" stroke-width="1.1"/>
<circle cx="95.0" cy="42.4" r="2.2" fill="#fdfafd" fill-opacity="0.6" stroke="#7a5cc8" stroke-width="1.1"/>
<circle cx="4.1" cy="78.4" r="2.2" fill="#fdfafd" fill-opacity="0.6" stroke="#7a5cc8" stroke-width="1.1"/>
<circle cx="195.5" cy="52.2" r="2.2" fill="#fdfafd" fill-opacity="0.6" stroke="#7a5cc8" stroke-width="1.1"/>
<circle cx="109.7" cy="54.4" r="2.2" fill="#fdfafd" fill-opacity="0.6" stroke="#7a5cc8" stroke-width="1.1"/>
<circle cx="90.6" cy="121.3" r="2.2" fill="#fdfafd" fill-opacity="0.6" stroke="#7a5cc8" stroke-width="1.1"/>
<circle cx="63.7" cy="91.0" r="2.2" fill="#fdfafd" fill-opacity="0.6" stroke="#7a5cc8" stroke-width="1.1"/>
<circle cx="98.8" cy="75.8" r="2.2" fill="#fdfafd" fill-opacity="0.6" stroke="#7a5cc8" stroke-width="1.1"/>
</svg>
<rect x="239.5" y="860.1" width="204.1" height="141.1" fill="none" stroke="#111" stroke-width="2"/>
<rect x="417.0" y="993.4" width="15.5" height="2.6" fill="#000"/>
<svg x="450.4" y="860.4" width="204.10000000000002" height="140.10000000000002" viewBox="0 0 204.10000000000002 140.10000000000002" overflow="hidden">
<rect width="204.10000000000002" height="140.10000000000002" fill="#fdfafd"/>
<rect width="204.10000000000002" height="140.10000000000002" filter="url(#tex3)" opacity="0.65"/>
<g filter="url(#rough3)">
<ellipse cx="12.7" cy="20.2" rx="8.4" ry="14.2" transform="rotate(45 12.7 20.2)" fill="#7060e0" opacity="0.38" filter="url(#blur2)"/>
<ellipse cx="24.0" cy="18.7" rx="9.3" ry="18.1" transform="rotate(-70 24.0 18.7)" fill="#7060e0" opacity="0.38" filter="url(#blur2)"/>
<ellipse cx="81.8" cy="37.1" rx="10.3" ry="12.3" transform="rotate(0 81.8 37.1)" fill="#7060e0" opacity="0.38" filter="url(#blur2)"/>
<ellipse cx="53.6" cy="61.0" rx="14.2" ry="10.3" transform="rotate(0 53.6 61.0)" fill="#7060e0" opacity="0.38" filter="url(#blur2)"/>
<ellipse cx="91.6" cy="3.2" rx="8.4" ry="7.4" transform="rotate(0 91.6 3.2)" fill="#7060e0" opacity="0.38" filter="url(#blur2)"/>
<ellipse cx="4.2" cy="116.0" rx="9.3" ry="11.3" transform="rotate(0 4.2 116.0)" fill="#7060e0" opacity="0.38" filter="url(#blur2)"/>
<ellipse cx="19.7" cy="132.9" rx="10.3" ry="9.3" transform="rotate(0 19.7 132.9)" fill="#7060e0" opacity="0.38" filter="url(#blur2)"/>
<ellipse cx="100.1" cy="83.6" rx="9.3" ry="11.3" transform="rotate(0 100.1 83.6)" fill="#7060e0" opacity="0.38" filter="url(#blur2)"/>
<ellipse cx="100.1" cy="104.7" rx="9.3" ry="10.3" transform="rotate(0 100.1 104.7)" fill="#7060e0" opacity="0.38" filter="url(#blur2)"/>
<ellipse cx="69.1" cy="68.1" rx="7.4" ry="7.4" transform="rotate(0 69.1 68.1)" fill="#7060e0" opacity="0.15" filter="url(#blur2)"/>
<ellipse cx="131.6" cy="7.5" rx="11.3" ry="9.3" transform="rotate(0 131.6 7.5)" fill="#7060e0" opacity="0.38" filter="url(#blur2)"/>
<ellipse cx="109.1" cy="21.6" rx="9.3" ry="14.2" transform="rotate(0 109.1 21.6)" fill="#7060e0" opacity="0.38" filter="url(#blur2)"/>
<ellipse cx="107.6" cy="39.9" rx="14.2" ry="9.3" transform="rotate(30 107.6 39.9)" fill="#7060e0" opacity="0.38" filter="url(#blur2)"/>
<ellipse cx="185.2" cy="39.9" rx="8.4" ry="10.3" transform="rotate(0 185.2 39.9)" fill="#7060e0" opacity="0.38" filter="url(#blur2)"/>
<ellipse cx="192.2" cy="28.6" rx="8.4" ry="8.4" transform="rotate(0 192.2 28.6)" fill="#7060e0" opacity="0.15" filter="url(#blur2)"/>
<ellipse cx="157.0" cy="15.9" rx="7.4" ry="8.4" transform="rotate(0 157.0 15.9)" fill="#7060e0" opacity="0.15" filter="url(#blur2)"/>
<ellipse cx="103.4" cy="85.0" rx="9.3" ry="11.3" transform="rotate(0 103.4 85.0)" fill="#7060e0" opacity="0.38" filter="url(#blur2)"/>
<ellipse cx="104.8" cy="103.3" rx="11.3" ry="9.3" transform="rotate(0 104.8 103.3)" fill="#7060e0" opacity="0.38" filter="url(#blur2)"/>
<ellipse cx="126.0" cy="100.5" rx="10.3" ry="9.3" transform="rotate(0 126.0 100.5)" fill="#7060e0" opacity="0.38" filter="url(#blur2)"/>
<ellipse cx="192.2" cy="101.9" rx="8.4" ry="12.3" transform="rotate(30 192.2 101.9)" fill="#7060e0" opacity="0.38" filter="url(#blur2)"/>
<ellipse cx="158.4" cy="118.8" rx="8.4" ry="16.2" transform="rotate(50 158.4 118.8)" fill="#7060e0" opacity="0.38" filter="url(#blur2)"/>
<ellipse cx="131.6" cy="128.7" rx="10.3" ry="10.3" transform="rotate(0 131.6 128.7)" fill="#7060e0" opacity="0.38" filter="url(#blur2)"/>
<ellipse cx="154.2" cy="74.4" rx="6.4" ry="6.4" transform="rotate(0 154.2 74.4)" fill="#7060e0" opacity="0.38" filter="url(#blur2)"/>
<ellipse cx="169.6" cy="135.6" rx="8.4" ry="7.4" transform="rotate(0 169.6 135.6)" fill="#7060e0" opacity="0.19" filter="url(#blur2)"/>
<ellipse cx="12.7" cy="20.2" rx="3.4" ry="6.9" transform="rotate(45 12.7 20.2)" fill="#3a34de" opacity="0.95"/>
<ellipse cx="12.2" cy="20.3" rx="1.6" ry="3.1" transform="rotate(45 12.7 20.2)" fill="#10108e" opacity="0.80" filter="url(#blur1)"/>
<ellipse cx="24.0" cy="18.7" rx="4.0" ry="9.2" transform="rotate(-70 24.0 18.7)" fill="#3a34de" opacity="0.95"/>
<ellipse cx="23.7" cy="18.9" rx="1.8" ry="4.1" transform="rotate(-70 24.0 18.7)" fill="#10108e" opacity="0.80" filter="url(#blur1)"/>
<ellipse cx="81.8" cy="37.1" rx="4.6" ry="5.8" transform="rotate(0 81.8 37.1)" fill="#3a34de" opacity="0.95"/>
<ellipse cx="82.1" cy="36.2" rx="2.1" ry="2.6" transform="rotate(0 81.8 37.1)" fill="#10108e" opacity="0.80" filter="url(#blur1)"/>
<ellipse cx="53.6" cy="61.0" rx="6.9" ry="4.6" transform="rotate(0 53.6 61.0)" fill="#3a34de" opacity="0.95"/>
<ellipse cx="52.6" cy="61.7" rx="3.1" ry="2.1" transform="rotate(0 53.6 61.0)" fill="#10108e" opacity="0.80" filter="url(#blur1)"/>
<ellipse cx="91.6" cy="3.2" rx="3.4" ry="2.9" transform="rotate(0 91.6 3.2)" fill="#3a34de" opacity="0.95"/>
<ellipse cx="91.1" cy="2.7" rx="1.6" ry="1.3" transform="rotate(0 91.6 3.2)" fill="#10108e" opacity="0.80" filter="url(#blur1)"/>
<ellipse cx="4.2" cy="116.0" rx="4.0" ry="5.2" transform="rotate(0 4.2 116.0)" fill="#3a34de" opacity="0.95"/>
<ellipse cx="5.2" cy="115.9" rx="1.8" ry="2.3" transform="rotate(0 4.2 116.0)" fill="#10108e" opacity="0.80" filter="url(#blur1)"/>
<ellipse cx="19.7" cy="132.9" rx="4.6" ry="4.0" transform="rotate(0 19.7 132.9)" fill="#3a34de" opacity="0.95"/>
<ellipse cx="20.4" cy="132.9" rx="2.1" ry="1.8" transform="rotate(0 19.7 132.9)" fill="#10108e" opacity="0.80" filter="url(#blur1)"/>
<ellipse cx="100.1" cy="83.6" rx="4.0" ry="5.2" transform="rotate(0 100.1 83.6)" fill="#3a34de" opacity="0.95"/>
<ellipse cx="100.4" cy="82.9" rx="1.8" ry="2.3" transform="rotate(0 100.1 83.6)" fill="#10108e" opacity="0.80" filter="url(#blur1)"/>
<ellipse cx="100.1" cy="104.7" rx="4.0" ry="4.6" transform="rotate(0 100.1 104.7)" fill="#3a34de" opacity="0.95"/>
<ellipse cx="100.4" cy="105.4" rx="1.8" ry="2.1" transform="rotate(0 100.1 104.7)" fill="#10108e" opacity="0.80" filter="url(#blur1)"/>
<ellipse cx="69.1" cy="68.1" rx="2.9" ry="2.9" transform="rotate(0 69.1 68.1)" fill="#3a34de" opacity="0.38"/>
<ellipse cx="69.1" cy="68.6" rx="1.3" ry="1.3" transform="rotate(0 69.1 68.1)" fill="#10108e" opacity="0.32" filter="url(#blur1)"/>
<ellipse cx="131.6" cy="7.5" rx="5.2" ry="4.0" transform="rotate(0 131.6 7.5)" fill="#3a34de" opacity="0.95"/>
<ellipse cx="131.9" cy="6.6" rx="2.3" ry="1.8" transform="rotate(0 131.6 7.5)" fill="#10108e" opacity="0.80" filter="url(#blur1)"/>
<ellipse cx="109.1" cy="21.6" rx="4.0" ry="6.9" transform="rotate(0 109.1 21.6)" fill="#3a34de" opacity="0.95"/>
<ellipse cx="109.6" cy="21.8" rx="1.8" ry="3.1" transform="rotate(0 109.1 21.6)" fill="#10108e" opacity="0.80" filter="url(#blur1)"/>
<ellipse cx="107.6" cy="39.9" rx="6.9" ry="4.0" transform="rotate(30 107.6 39.9)" fill="#3a34de" opacity="0.95"/>
<ellipse cx="107.2" cy="39.0" rx="3.1" ry="1.8" transform="rotate(30 107.6 39.9)" fill="#10108e" opacity="0.80" filter="url(#blur1)"/>
<ellipse cx="185.2" cy="39.9" rx="3.4" ry="4.6" transform="rotate(0 185.2 39.9)" fill="#3a34de" opacity="0.95"/>
<ellipse cx="185.9" cy="39.8" rx="1.6" ry="2.1" transform="rotate(0 185.2 39.9)" fill="#10108e" opacity="0.80" filter="url(#blur1)"/>
<ellipse cx="192.2" cy="28.6" rx="3.4" ry="3.4" transform="rotate(0 192.2 28.6)" fill="#3a34de" opacity="0.38"/>
<ellipse cx="192.6" cy="29.4" rx="1.6" ry="1.6" transform="rotate(0 192.2 28.6)" fill="#10108e" opacity="0.32" filter="url(#blur1)"/>
<ellipse cx="157.0" cy="15.9" rx="2.9" ry="3.4" transform="rotate(0 157.0 15.9)" fill="#3a34de" opacity="0.38"/>
<ellipse cx="157.4" cy="16.7" rx="1.3" ry="1.6" transform="rotate(0 157.0 15.9)" fill="#10108e" opacity="0.32" filter="url(#blur1)"/>
<ellipse cx="103.4" cy="85.0" rx="4.0" ry="5.2" transform="rotate(0 103.4 85.0)" fill="#3a34de" opacity="0.95"/>
<ellipse cx="103.2" cy="85.6" rx="1.8" ry="2.3" transform="rotate(0 103.4 85.0)" fill="#10108e" opacity="0.80" filter="url(#blur1)"/>
<ellipse cx="104.8" cy="103.3" rx="5.2" ry="4.0" transform="rotate(0 104.8 103.3)" fill="#3a34de" opacity="0.95"/>
<ellipse cx="104.7" cy="104.2" rx="2.3" ry="1.8" transform="rotate(0 104.8 103.3)" fill="#10108e" opacity="0.80" filter="url(#blur1)"/>
<ellipse cx="126.0" cy="100.5" rx="4.6" ry="4.0" transform="rotate(0 126.0 100.5)" fill="#3a34de" opacity="0.95"/>
<ellipse cx="126.8" cy="99.7" rx="2.1" ry="1.8" transform="rotate(0 126.0 100.5)" fill="#10108e" opacity="0.80" filter="url(#blur1)"/>
<ellipse cx="192.2" cy="101.9" rx="3.4" ry="5.8" transform="rotate(30 192.2 101.9)" fill="#3a34de" opacity="0.95"/>
<ellipse cx="191.5" cy="101.3" rx="1.6" ry="2.6" transform="rotate(30 192.2 101.9)" fill="#10108e" opacity="0.80" filter="url(#blur1)"/>
<ellipse cx="158.4" cy="118.8" rx="3.4" ry="8.0" transform="rotate(50 158.4 118.8)" fill="#3a34de" opacity="0.95"/>
<ellipse cx="159.3" cy="118.7" rx="1.6" ry="3.6" transform="rotate(50 158.4 118.8)" fill="#10108e" opacity="0.80" filter="url(#blur1)"/>
<ellipse cx="131.6" cy="128.7" rx="4.6" ry="4.6" transform="rotate(0 131.6 128.7)" fill="#3a34de" opacity="0.95"/>
<ellipse cx="131.9" cy="128.3" rx="2.1" ry="2.1" transform="rotate(0 131.6 128.7)" fill="#10108e" opacity="0.80" filter="url(#blur1)"/>
<ellipse cx="154.2" cy="74.4" rx="2.3" ry="2.3" transform="rotate(0 154.2 74.4)" fill="#3a34de" opacity="0.95"/>
<ellipse cx="154.2" cy="74.2" rx="1.0" ry="1.0" transform="rotate(0 154.2 74.4)" fill="#10108e" opacity="0.80" filter="url(#blur1)"/>
<ellipse cx="169.6" cy="135.6" rx="3.4" ry="2.9" transform="rotate(0 169.6 135.6)" fill="#3a34de" opacity="0.47"/>
<ellipse cx="169.3" cy="135.8" rx="1.6" ry="1.3" transform="rotate(0 169.6 135.6)" fill="#10108e" opacity="0.40" filter="url(#blur1)"/>
</g>
<rect width="204.10000000000002" height="140.10000000000002" filter="url(#grain3)" opacity="0.6"/>
<circle cx="118.9" cy="125.1" r="2.2" fill="#fdfafd" fill-opacity="0.6" stroke="#7a5cc8" stroke-width="1.1"/>
<circle cx="138.5" cy="128.4" r="2.2" fill="#fdfafd" fill-opacity="0.6" stroke="#7a5cc8" stroke-width="1.1"/>
<circle cx="173.4" cy="136.9" r="2.2" fill="#fdfafd" fill-opacity="0.6" stroke="#7a5cc8" stroke-width="1.1"/>
<circle cx="136.3" cy="24.2" r="2.2" fill="#fdfafd" fill-opacity="0.6" stroke="#7a5cc8" stroke-width="1.1"/>
<circle cx="174.2" cy="133.3" r="2.2" fill="#fdfafd" fill-opacity="0.6" stroke="#7a5cc8" stroke-width="1.1"/>
<circle cx="183.0" cy="79.5" r="2.2" fill="#fdfafd" fill-opacity="0.6" stroke="#7a5cc8" stroke-width="1.1"/>
<circle cx="144.8" cy="30.7" r="2.2" fill="#fdfafd" fill-opacity="0.6" stroke="#7a5cc8" stroke-width="1.1"/>
<circle cx="168.4" cy="80.1" r="2.2" fill="#fdfafd" fill-opacity="0.6" stroke="#7a5cc8" stroke-width="1.1"/>
<circle cx="59.0" cy="10.6" r="2.2" fill="#fdfafd" fill-opacity="0.6" stroke="#7a5cc8" stroke-width="1.1"/>
<circle cx="172.9" cy="136.7" r="2.2" fill="#fdfafd" fill-opacity="0.6" stroke="#7a5cc8" stroke-width="1.1"/>
<circle cx="19.7" cy="111.0" r="2.2" fill="#fdfafd" fill-opacity="0.6" stroke="#7a5cc8" stroke-width="1.1"/>
<circle cx="84.1" cy="22.5" r="2.2" fill="#fdfafd" fill-opacity="0.6" stroke="#7a5cc8" stroke-width="1.1"/>
<circle cx="60.8" cy="106.6" r="2.2" fill="#fdfafd" fill-opacity="0.6" stroke="#7a5cc8" stroke-width="1.1"/>
<circle cx="176.6" cy="8.0" r="2.2" fill="#fdfafd" fill-opacity="0.6" stroke="#7a5cc8" stroke-width="1.1"/>
<circle cx="125.0" cy="8.1" r="2.2" fill="#fdfafd" fill-opacity="0.6" stroke="#7a5cc8" stroke-width="1.1"/>
<circle cx="145.8" cy="47.0" r="2.2" fill="#fdfafd" fill-opacity="0.6" stroke="#7a5cc8" stroke-width="1.1"/>
<circle cx="178.3" cy="135.5" r="2.2" fill="#fdfafd" fill-opacity="0.6" stroke="#7a5cc8" stroke-width="1.1"/>
<circle cx="103.1" cy="137.9" r="2.2" fill="#fdfafd" fill-opacity="0.6" stroke="#7a5cc8" stroke-width="1.1"/>
<circle cx="64.0" cy="12.5" r="2.2" fill="#fdfafd" fill-opacity="0.6" stroke="#7a5cc8" stroke-width="1.1"/>
<circle cx="122.0" cy="6.3" r="2.2" fill="#fdfafd" fill-opacity="0.6" stroke="#7a5cc8" stroke-width="1.1"/>
<circle cx="41.5" cy="57.5" r="2.2" fill="#fdfafd" fill-opacity="0.6" stroke="#7a5cc8" stroke-width="1.1"/>
<circle cx="124.2" cy="23.3" r="2.2" fill="#fdfafd" fill-opacity="0.6" stroke="#7a5cc8" stroke-width="1.1"/>
<circle cx="10.5" cy="120.1" r="2.2" fill="#fdfafd" fill-opacity="0.6" stroke="#7a5cc8" stroke-width="1.1"/>
<circle cx="64.8" cy="132.5" r="2.2" fill="#fdfafd" fill-opacity="0.6" stroke="#7a5cc8" stroke-width="1.1"/>
<circle cx="181.4" cy="53.4" r="2.2" fill="#fdfafd" fill-opacity="0.6" stroke="#7a5cc8" stroke-width="1.1"/>
<circle cx="94.1" cy="72.8" r="2.2" fill="#fdfafd" fill-opacity="0.6" stroke="#7a5cc8" stroke-width="1.1"/>
<circle cx="130.8" cy="83.1" r="2.2" fill="#fdfafd" fill-opacity="0.6" stroke="#7a5cc8" stroke-width="1.1"/>
<circle cx="113.9" cy="86.4" r="2.2" fill="#fdfafd" fill-opacity="0.6" stroke="#7a5cc8" stroke-width="1.1"/>
<circle cx="190.2" cy="71.0" r="2.2" fill="#fdfafd" fill-opacity="0.6" stroke="#7a5cc8" stroke-width="1.1"/>
<circle cx="88.3" cy="100.0" r="2.2" fill="#fdfafd" fill-opacity="0.6" stroke="#7a5cc8" stroke-width="1.1"/>
<circle cx="49.6" cy="43.0" r="2.2" fill="#fdfafd" fill-opacity="0.6" stroke="#7a5cc8" stroke-width="1.1"/>
<circle cx="197.7" cy="72.9" r="2.2" fill="#fdfafd" fill-opacity="0.6" stroke="#7a5cc8" stroke-width="1.1"/>
<circle cx="111.7" cy="3.6" r="2.2" fill="#fdfafd" fill-opacity="0.6" stroke="#7a5cc8" stroke-width="1.1"/>
<circle cx="85.1" cy="80.9" r="2.2" fill="#fdfafd" fill-opacity="0.6" stroke="#7a5cc8" stroke-width="1.1"/>
<circle cx="6.0" cy="85.8" r="2.2" fill="#fdfafd" fill-opacity="0.6" stroke="#7a5cc8" stroke-width="1.1"/>
<circle cx="128.5" cy="10.2" r="2.2" fill="#fdfafd" fill-opacity="0.6" stroke="#7a5cc8" stroke-width="1.1"/>
<circle cx="127.5" cy="65.5" r="2.2" fill="#fdfafd" fill-opacity="0.6" stroke="#7a5cc8" stroke-width="1.1"/>
<circle cx="137.9" cy="50.0" r="2.2" fill="#fdfafd" fill-opacity="0.6" stroke="#7a5cc8" stroke-width="1.1"/>
<circle cx="143.5" cy="102.4" r="2.2" fill="#fdfafd" fill-opacity="0.6" stroke="#7a5cc8" stroke-width="1.1"/>
<circle cx="6.4" cy="10.2" r="2.2" fill="#fdfafd" fill-opacity="0.6" stroke="#7a5cc8" stroke-width="1.1"/>
<circle cx="137.3" cy="133.1" r="2.2" fill="#fdfafd" fill-opacity="0.6" stroke="#7a5cc8" stroke-width="1.1"/>
<circle cx="52.2" cy="64.1" r="2.2" fill="#fdfafd" fill-opacity="0.6" stroke="#7a5cc8" stroke-width="1.1"/>
<circle cx="120.6" cy="45.6" r="2.2" fill="#fdfafd" fill-opacity="0.6" stroke="#7a5cc8" stroke-width="1.1"/>
<circle cx="74.8" cy="44.6" r="2.2" fill="#fdfafd" fill-opacity="0.6" stroke="#7a5cc8" stroke-width="1.1"/>
<circle cx="75.9" cy="83.1" r="2.2" fill="#fdfafd" fill-opacity="0.6" stroke="#7a5cc8" stroke-width="1.1"/>
<circle cx="62.1" cy="53.3" r="2.2" fill="#fdfafd" fill-opacity="0.6" stroke="#7a5cc8" stroke-width="1.1"/>
<circle cx="156.5" cy="5.7" r="2.2" fill="#fdfafd" fill-opacity="0.6" stroke="#7a5cc8" stroke-width="1.1"/>
<circle cx="115.9" cy="102.1" r="2.2" fill="#fdfafd" fill-opacity="0.6" stroke="#7a5cc8" stroke-width="1.1"/>
<circle cx="64.0" cy="32.3" r="2.2" fill="#fdfafd" fill-opacity="0.6" stroke="#7a5cc8" stroke-width="1.1"/>
<circle cx="162.8" cy="34.5" r="2.2" fill="#fdfafd" fill-opacity="0.6" stroke="#7a5cc8" stroke-width="1.1"/>
<circle cx="39.5" cy="61.2" r="2.2" fill="#fdfafd" fill-opacity="0.6" stroke="#7a5cc8" stroke-width="1.1"/>
<circle cx="141.7" cy="15.9" r="2.2" fill="#fdfafd" fill-opacity="0.6" stroke="#7a5cc8" stroke-width="1.1"/>
<circle cx="66.4" cy="47.4" r="2.2" fill="#fdfafd" fill-opacity="0.6" stroke="#7a5cc8" stroke-width="1.1"/>
<circle cx="168.8" cy="61.7" r="2.2" fill="#fdfafd" fill-opacity="0.6" stroke="#7a5cc8" stroke-width="1.1"/>
<circle cx="173.2" cy="25.0" r="2.2" fill="#fdfafd" fill-opacity="0.6" stroke="#7a5cc8" stroke-width="1.1"/>
<circle cx="69.4" cy="90.5" r="2.2" fill="#fdfafd" fill-opacity="0.6" stroke="#7a5cc8" stroke-width="1.1"/>
<circle cx="179.1" cy="63.4" r="2.2" fill="#fdfafd" fill-opacity="0.6" stroke="#7a5cc8" stroke-width="1.1"/>
<circle cx="47.0" cy="18.5" r="2.2" fill="#fdfafd" fill-opacity="0.6" stroke="#7a5cc8" stroke-width="1.1"/>
<circle cx="108.0" cy="28.0" r="2.2" fill="#fdfafd" fill-opacity="0.6" stroke="#7a5cc8" stroke-width="1.1"/>
<circle cx="163.4" cy="116.1" r="2.2" fill="#fdfafd" fill-opacity="0.6" stroke="#7a5cc8" stroke-width="1.1"/>
<circle cx="38.7" cy="39.9" r="2.2" fill="#fdfafd" fill-opacity="0.6" stroke="#7a5cc8" stroke-width="1.1"/>
<circle cx="163.5" cy="89.4" r="2.2" fill="#fdfafd" fill-opacity="0.6" stroke="#7a5cc8" stroke-width="1.1"/>
<circle cx="163.3" cy="49.0" r="2.2" fill="#fdfafd" fill-opacity="0.6" stroke="#7a5cc8" stroke-width="1.1"/>
<circle cx="28.0" cy="41.7" r="2.2" fill="#fdfafd" fill-opacity="0.6" stroke="#7a5cc8" stroke-width="1.1"/>
<circle cx="160.9" cy="38.9" r="2.2" fill="#fdfafd" fill-opacity="0.6" stroke="#7a5cc8" stroke-width="1.1"/>
<circle cx="71.3" cy="58.7" r="2.2" fill="#fdfafd" fill-opacity="0.6" stroke="#7a5cc8" stroke-width="1.1"/>
<circle cx="86.0" cy="57.7" r="2.2" fill="#fdfafd" fill-opacity="0.6" stroke="#7a5cc8" stroke-width="1.1"/>
<circle cx="186.2" cy="23.2" r="2.2" fill="#fdfafd" fill-opacity="0.6" stroke="#7a5cc8" stroke-width="1.1"/>
<circle cx="2.9" cy="130.4" r="2.2" fill="#fdfafd" fill-opacity="0.6" stroke="#7a5cc8" stroke-width="1.1"/>
<circle cx="178.1" cy="136.3" r="2.2" fill="#fdfafd" fill-opacity="0.6" stroke="#7a5cc8" stroke-width="1.1"/>
<circle cx="88.9" cy="131.3" r="2.2" fill="#fdfafd" fill-opacity="0.6" stroke="#7a5cc8" stroke-width="1.1"/>
<circle cx="187.6" cy="32.2" r="2.2" fill="#fdfafd" fill-opacity="0.6" stroke="#7a5cc8" stroke-width="1.1"/>
<circle cx="151.2" cy="115.9" r="2.2" fill="#fdfafd" fill-opacity="0.6" stroke="#7a5cc8" stroke-width="1.1"/>
<circle cx="134.7" cy="72.6" r="2.2" fill="#fdfafd" fill-opacity="0.6" stroke="#7a5cc8" stroke-width="1.1"/>
<circle cx="59.8" cy="48.4" r="2.2" fill="#fdfafd" fill-opacity="0.6" stroke="#7a5cc8" stroke-width="1.1"/>
<circle cx="47.5" cy="11.3" r="2.2" fill="#fdfafd" fill-opacity="0.6" stroke="#7a5cc8" stroke-width="1.1"/>
<circle cx="119.8" cy="41.1" r="2.2" fill="#fdfafd" fill-opacity="0.6" stroke="#7a5cc8" stroke-width="1.1"/>
<circle cx="164.1" cy="8.1" r="2.2" fill="#fdfafd" fill-opacity="0.6" stroke="#7a5cc8" stroke-width="1.1"/>
<circle cx="182.8" cy="96.4" r="2.2" fill="#fdfafd" fill-opacity="0.6" stroke="#7a5cc8" stroke-width="1.1"/>
<circle cx="186.9" cy="124.0" r="2.2" fill="#fdfafd" fill-opacity="0.6" stroke="#7a5cc8" stroke-width="1.1"/>
<circle cx="182.0" cy="80.5" r="2.2" fill="#fdfafd" fill-opacity="0.6" stroke="#7a5cc8" stroke-width="1.1"/>
<circle cx="4.6" cy="103.4" r="2.2" fill="#fdfafd" fill-opacity="0.6" stroke="#7a5cc8" stroke-width="1.1"/>
<circle cx="36.4" cy="42.8" r="2.2" fill="#fdfafd" fill-opacity="0.6" stroke="#7a5cc8" stroke-width="1.1"/>
<circle cx="134.6" cy="73.4" r="2.2" fill="#fdfafd" fill-opacity="0.6" stroke="#7a5cc8" stroke-width="1.1"/>
<circle cx="84.8" cy="129.8" r="2.2" fill="#fdfafd" fill-opacity="0.6" stroke="#7a5cc8" stroke-width="1.1"/>
<circle cx="124.5" cy="48.5" r="2.2" fill="#fdfafd" fill-opacity="0.6" stroke="#7a5cc8" stroke-width="1.1"/>
<circle cx="52.5" cy="119.3" r="2.2" fill="#fdfafd" fill-opacity="0.6" stroke="#7a5cc8" stroke-width="1.1"/>
<circle cx="97.5" cy="108.5" r="2.2" fill="#fdfafd" fill-opacity="0.6" stroke="#7a5cc8" stroke-width="1.1"/>
<circle cx="72.4" cy="28.9" r="2.2" fill="#fdfafd" fill-opacity="0.6" stroke="#7a5cc8" stroke-width="1.1"/>
<circle cx="109.0" cy="113.2" r="2.2" fill="#fdfafd" fill-opacity="0.6" stroke="#7a5cc8" stroke-width="1.1"/>
<circle cx="36.3" cy="109.7" r="2.2" fill="#fdfafd" fill-opacity="0.6" stroke="#7a5cc8" stroke-width="1.1"/>
<circle cx="186.4" cy="111.7" r="2.2" fill="#fdfafd" fill-opacity="0.6" stroke="#7a5cc8" stroke-width="1.1"/>
<circle cx="166.8" cy="3.0" r="2.2" fill="#fdfafd" fill-opacity="0.6" stroke="#7a5cc8" stroke-width="1.1"/>
<circle cx="127.8" cy="119.4" r="2.2" fill="#fdfafd" fill-opacity="0.6" stroke="#7a5cc8" stroke-width="1.1"/>
<circle cx="12.0" cy="38.9" r="2.2" fill="#fdfafd" fill-opacity="0.6" stroke="#7a5cc8" stroke-width="1.1"/>
<circle cx="55.7" cy="73.8" r="2.2" fill="#fdfafd" fill-opacity="0.6" stroke="#7a5cc8" stroke-width="1.1"/>
<circle cx="86.6" cy="66.4" r="2.2" fill="#fdfafd" fill-opacity="0.6" stroke="#7a5cc8" stroke-width="1.1"/>
<circle cx="157.4" cy="2.2" r="2.2" fill="#fdfafd" fill-opacity="0.6" stroke="#7a5cc8" stroke-width="1.1"/>
<circle cx="13.0" cy="19.3" r="2.2" fill="#fdfafd" fill-opacity="0.6" stroke="#7a5cc8" stroke-width="1.1"/>
<circle cx="26.9" cy="11.3" r="2.2" fill="#fdfafd" fill-opacity="0.6" stroke="#7a5cc8" stroke-width="1.1"/>
<circle cx="197.0" cy="118.3" r="2.2" fill="#fdfafd" fill-opacity="0.6" stroke="#7a5cc8" stroke-width="1.1"/>
<circle cx="19.2" cy="70.3" r="2.2" fill="#fdfafd" fill-opacity="0.6" stroke="#7a5cc8" stroke-width="1.1"/>
<circle cx="65.2" cy="44.8" r="2.2" fill="#fdfafd" fill-opacity="0.6" stroke="#7a5cc8" stroke-width="1.1"/>
<circle cx="72.3" cy="90.0" r="2.2" fill="#fdfafd" fill-opacity="0.6" stroke="#7a5cc8" stroke-width="1.1"/>
<circle cx="119.4" cy="51.1" r="2.2" fill="#fdfafd" fill-opacity="0.6" stroke="#7a5cc8" stroke-width="1.1"/>
<circle cx="40.2" cy="46.7" r="2.2" fill="#fdfafd" fill-opacity="0.6" stroke="#7a5cc8" stroke-width="1.1"/>
<circle cx="26.8" cy="77.6" r="2.2" fill="#fdfafd" fill-opacity="0.6" stroke="#7a5cc8" stroke-width="1.1"/>
<circle cx="145.3" cy="53.8" r="2.2" fill="#fdfafd" fill-opacity="0.6" stroke="#7a5cc8" stroke-width="1.1"/>
<circle cx="18.0" cy="26.3" r="2.2" fill="#fdfafd" fill-opacity="0.6" stroke="#7a5cc8" stroke-width="1.1"/>
<circle cx="76.7" cy="84.3" r="2.2" fill="#fdfafd" fill-opacity="0.6" stroke="#7a5cc8" stroke-width="1.1"/>
<circle cx="158.6" cy="53.8" r="2.2" fill="#fdfafd" fill-opacity="0.6" stroke="#7a5cc8" stroke-width="1.1"/>
<circle cx="162.3" cy="86.8" r="2.2" fill="#fdfafd" fill-opacity="0.6" stroke="#7a5cc8" stroke-width="1.1"/>
<circle cx="88.4" cy="52.7" r="2.2" fill="#fdfafd" fill-opacity="0.6" stroke="#7a5cc8" stroke-width="1.1"/>
<circle cx="101.3" cy="97.7" r="2.2" fill="#fdfafd" fill-opacity="0.6" stroke="#7a5cc8" stroke-width="1.1"/>
<circle cx="86.1" cy="96.5" r="2.2" fill="#fdfafd" fill-opacity="0.6" stroke="#7a5cc8" stroke-width="1.1"/>
<circle cx="94.2" cy="35.4" r="2.2" fill="#fdfafd" fill-opacity="0.6" stroke="#7a5cc8" stroke-width="1.1"/>
<circle cx="109.2" cy="96.6" r="2.2" fill="#fdfafd" fill-opacity="0.6" stroke="#7a5cc8" stroke-width="1.1"/>
<circle cx="16.3" cy="59.8" r="2.2" fill="#fdfafd" fill-opacity="0.6" stroke="#7a5cc8" stroke-width="1.1"/>
<circle cx="87.2" cy="121.7" r="2.2" fill="#fdfafd" fill-opacity="0.6" stroke="#7a5cc8" stroke-width="1.1"/>
<circle cx="189.4" cy="52.9" r="2.2" fill="#fdfafd" fill-opacity="0.6" stroke="#7a5cc8" stroke-width="1.1"/>
<circle cx="181.7" cy="109.6" r="2.2" fill="#fdfafd" fill-opacity="0.6" stroke="#7a5cc8" stroke-width="1.1"/>
<circle cx="54.5" cy="65.2" r="2.2" fill="#fdfafd" fill-opacity="0.6" stroke="#7a5cc8" stroke-width="1.1"/>
<circle cx="26.6" cy="112.7" r="2.2" fill="#fdfafd" fill-opacity="0.6" stroke="#7a5cc8" stroke-width="1.1"/>
<circle cx="134.5" cy="122.8" r="2.2" fill="#fdfafd" fill-opacity="0.6" stroke="#7a5cc8" stroke-width="1.1"/>
<circle cx="160.6" cy="92.9" r="2.2" fill="#fdfafd" fill-opacity="0.6" stroke="#7a5cc8" stroke-width="1.1"/>
<circle cx="148.8" cy="78.7" r="2.2" fill="#fdfafd" fill-opacity="0.6" stroke="#7a5cc8" stroke-width="1.1"/>
<circle cx="22.6" cy="82.0" r="2.2" fill="#fdfafd" fill-opacity="0.6" stroke="#7a5cc8" stroke-width="1.1"/>
<circle cx="3.0" cy="21.5" r="2.2" fill="#fdfafd" fill-opacity="0.6" stroke="#7a5cc8" stroke-width="1.1"/>
<circle cx="156.9" cy="8.0" r="2.2" fill="#fdfafd" fill-opacity="0.6" stroke="#7a5cc8" stroke-width="1.1"/>
<circle cx="20.4" cy="15.5" r="2.2" fill="#fdfafd" fill-opacity="0.6" stroke="#7a5cc8" stroke-width="1.1"/>
<circle cx="178.2" cy="26.4" r="2.2" fill="#fdfafd" fill-opacity="0.6" stroke="#7a5cc8" stroke-width="1.1"/>
<circle cx="6.7" cy="116.5" r="2.2" fill="#fdfafd" fill-opacity="0.6" stroke="#7a5cc8" stroke-width="1.1"/>
<circle cx="26.3" cy="116.9" r="2.2" fill="#fdfafd" fill-opacity="0.6" stroke="#7a5cc8" stroke-width="1.1"/>
<circle cx="136.8" cy="115.8" r="2.2" fill="#fdfafd" fill-opacity="0.6" stroke="#7a5cc8" stroke-width="1.1"/>
<circle cx="192.6" cy="80.8" r="2.2" fill="#fdfafd" fill-opacity="0.6" stroke="#7a5cc8" stroke-width="1.1"/>
<circle cx="161.8" cy="6.9" r="2.2" fill="#fdfafd" fill-opacity="0.6" stroke="#7a5cc8" stroke-width="1.1"/>
<circle cx="155.6" cy="71.6" r="2.2" fill="#fdfafd" fill-opacity="0.6" stroke="#7a5cc8" stroke-width="1.1"/>
<circle cx="145.1" cy="16.5" r="2.2" fill="#fdfafd" fill-opacity="0.6" stroke="#7a5cc8" stroke-width="1.1"/>
<circle cx="151.9" cy="129.2" r="2.2" fill="#fdfafd" fill-opacity="0.6" stroke="#7a5cc8" stroke-width="1.1"/>
<circle cx="14.2" cy="46.1" r="2.2" fill="#fdfafd" fill-opacity="0.6" stroke="#7a5cc8" stroke-width="1.1"/>
<circle cx="114.9" cy="114.7" r="2.2" fill="#fdfafd" fill-opacity="0.6" stroke="#7a5cc8" stroke-width="1.1"/>
<circle cx="50.4" cy="26.5" r="2.2" fill="#fdfafd" fill-opacity="0.6" stroke="#7a5cc8" stroke-width="1.1"/>
<circle cx="52.0" cy="85.8" r="2.2" fill="#fdfafd" fill-opacity="0.6" stroke="#7a5cc8" stroke-width="1.1"/>
<circle cx="152.8" cy="55.6" r="2.2" fill="#fdfafd" fill-opacity="0.6" stroke="#7a5cc8" stroke-width="1.1"/>
<circle cx="75.5" cy="56.0" r="2.2" fill="#fdfafd" fill-opacity="0.6" stroke="#7a5cc8" stroke-width="1.1"/>
<circle cx="72.1" cy="58.9" r="2.2" fill="#fdfafd" fill-opacity="0.6" stroke="#7a5cc8" stroke-width="1.1"/>
<circle cx="18.7" cy="70.1" r="2.2" fill="#fdfafd" fill-opacity="0.6" stroke="#7a5cc8" stroke-width="1.1"/>
<circle cx="196.7" cy="58.2" r="2.2" fill="#fdfafd" fill-opacity="0.6" stroke="#7a5cc8" stroke-width="1.1"/>
<circle cx="151.6" cy="23.9" r="2.2" fill="#fdfafd" fill-opacity="0.6" stroke="#7a5cc8" stroke-width="1.1"/>
<circle cx="140.2" cy="104.9" r="2.2" fill="#fdfafd" fill-opacity="0.6" stroke="#7a5cc8" stroke-width="1.1"/>
<circle cx="136.8" cy="72.4" r="2.2" fill="#fdfafd" fill-opacity="0.6" stroke="#7a5cc8" stroke-width="1.1"/>
<circle cx="98.8" cy="89.5" r="2.2" fill="#fdfafd" fill-opacity="0.6" stroke="#7a5cc8" stroke-width="1.1"/>
<circle cx="181.6" cy="22.3" r="2.2" fill="#fdfafd" fill-opacity="0.6" stroke="#7a5cc8" stroke-width="1.1"/>
<circle cx="21.2" cy="103.8" r="2.2" fill="#fdfafd" fill-opacity="0.6" stroke="#7a5cc8" stroke-width="1.1"/>
<circle cx="185.4" cy="72.4" r="2.2" fill="#fdfafd" fill-opacity="0.6" stroke="#7a5cc8" stroke-width="1.1"/>
<circle cx="90.7" cy="99.8" r="2.2" fill="#fdfafd" fill-opacity="0.6" stroke="#7a5cc8" stroke-width="1.1"/>
<circle cx="39.2" cy="38.4" r="2.2" fill="#fdfafd" fill-opacity="0.6" stroke="#7a5cc8" stroke-width="1.1"/>
<circle cx="41.9" cy="81.7" r="2.2" fill="#fdfafd" fill-opacity="0.6" stroke="#7a5cc8" stroke-width="1.1"/>
<circle cx="65.0" cy="33.6" r="2.2" fill="#fdfafd" fill-opacity="0.6" stroke="#7a5cc8" stroke-width="1.1"/>
<circle cx="140.3" cy="131.8" r="2.2" fill="#fdfafd" fill-opacity="0.6" stroke="#7a5cc8" stroke-width="1.1"/>
<circle cx="61.2" cy="98.0" r="2.2" fill="#fdfafd" fill-opacity="0.6" stroke="#7a5cc8" stroke-width="1.1"/>
<circle cx="84.7" cy="118.2" r="2.2" fill="#fdfafd" fill-opacity="0.6" stroke="#7a5cc8" stroke-width="1.1"/>
<circle cx="119.0" cy="38.4" r="2.2" fill="#fdfafd" fill-opacity="0.6" stroke="#7a5cc8" stroke-width="1.1"/>
<circle cx="45.5" cy="5.1" r="2.2" fill="#fdfafd" fill-opacity="0.6" stroke="#7a5cc8" stroke-width="1.1"/>
<circle cx="97.9" cy="54.1" r="2.2" fill="#fdfafd" fill-opacity="0.6" stroke="#7a5cc8" stroke-width="1.1"/>
<circle cx="36.5" cy="51.1" r="2.2" fill="#fdfafd" fill-opacity="0.6" stroke="#7a5cc8" stroke-width="1.1"/>
<circle cx="66.4" cy="107.4" r="2.2" fill="#fdfafd" fill-opacity="0.6" stroke="#7a5cc8" stroke-width="1.1"/>
<circle cx="30.7" cy="136.9" r="2.2" fill="#fdfafd" fill-opacity="0.6" stroke="#7a5cc8" stroke-width="1.1"/>
<circle cx="98.0" cy="83.5" r="2.2" fill="#fdfafd" fill-opacity="0.6" stroke="#7a5cc8" stroke-width="1.1"/>
<circle cx="95.7" cy="115.6" r="2.2" fill="#fdfafd" fill-opacity="0.6" stroke="#7a5cc8" stroke-width="1.1"/>
<circle cx="166.4" cy="77.8" r="2.2" fill="#fdfafd" fill-opacity="0.6" stroke="#7a5cc8" stroke-width="1.1"/>
<circle cx="98.3" cy="100.1" r="2.2" fill="#fdfafd" fill-opacity="0.6" stroke="#7a5cc8" stroke-width="1.1"/>
<circle cx="173.4" cy="56.5" r="2.2" fill="#fdfafd" fill-opacity="0.6" stroke="#7a5cc8" stroke-width="1.1"/>
<circle cx="148.8" cy="132.7" r="2.2" fill="#fdfafd" fill-opacity="0.6" stroke="#7a5cc8" stroke-width="1.1"/>
<circle cx="95.5" cy="33.2" r="2.2" fill="#fdfafd" fill-opacity="0.6" stroke="#7a5cc8" stroke-width="1.1"/>
<circle cx="49.0" cy="99.7" r="2.2" fill="#fdfafd" fill-opacity="0.6" stroke="#7a5cc8" stroke-width="1.1"/>
<circle cx="137.1" cy="132.5" r="2.2" fill="#fdfafd" fill-opacity="0.6" stroke="#7a5cc8" stroke-width="1.1"/>
<circle cx="172.9" cy="34.9" r="2.2" fill="#fdfafd" fill-opacity="0.6" stroke="#7a5cc8" stroke-width="1.1"/>
<circle cx="39.9" cy="37.2" r="2.2" fill="#fdfafd" fill-opacity="0.6" stroke="#7a5cc8" stroke-width="1.1"/>
<circle cx="39.5" cy="97.9" r="2.2" fill="#fdfafd" fill-opacity="0.6" stroke="#7a5cc8" stroke-width="1.1"/>
<circle cx="173.8" cy="124.5" r="2.2" fill="#fdfafd" fill-opacity="0.6" stroke="#7a5cc8" stroke-width="1.1"/>
<circle cx="53.0" cy="119.7" r="2.2" fill="#fdfafd" fill-opacity="0.6" stroke="#7a5cc8" stroke-width="1.1"/>
<circle cx="64.7" cy="59.6" r="2.2" fill="#fdfafd" fill-opacity="0.6" stroke="#7a5cc8" stroke-width="1.1"/>
<circle cx="147.9" cy="13.7" r="2.2" fill="#fdfafd" fill-opacity="0.6" stroke="#7a5cc8" stroke-width="1.1"/>
<circle cx="20.5" cy="115.5" r="2.2" fill="#fdfafd" fill-opacity="0.6" stroke="#7a5cc8" stroke-width="1.1"/>
<circle cx="60.4" cy="50.5" r="2.2" fill="#fdfafd" fill-opacity="0.6" stroke="#7a5cc8" stroke-width="1.1"/>
<circle cx="118.1" cy="93.9" r="2.2" fill="#fdfafd" fill-opacity="0.6" stroke="#7a5cc8" stroke-width="1.1"/>
<circle cx="3.4" cy="47.6" r="2.2" fill="#fdfafd" fill-opacity="0.6" stroke="#7a5cc8" stroke-width="1.1"/>
<circle cx="89.3" cy="68.1" r="2.2" fill="#fdfafd" fill-opacity="0.6" stroke="#7a5cc8" stroke-width="1.1"/>
<circle cx="44.0" cy="81.6" r="2.2" fill="#fdfafd" fill-opacity="0.6" stroke="#7a5cc8" stroke-width="1.1"/>
<circle cx="193.2" cy="55.2" r="2.2" fill="#fdfafd" fill-opacity="0.6" stroke="#7a5cc8" stroke-width="1.1"/>
<circle cx="110.9" cy="18.2" r="2.2" fill="#fdfafd" fill-opacity="0.6" stroke="#7a5cc8" stroke-width="1.1"/>
<circle cx="57.0" cy="92.6" r="2.2" fill="#fdfafd" fill-opacity="0.6" stroke="#7a5cc8" stroke-width="1.1"/>
<circle cx="24.5" cy="122.7" r="2.2" fill="#fdfafd" fill-opacity="0.6" stroke="#7a5cc8" stroke-width="1.1"/>
<circle cx="183.8" cy="15.2" r="2.2" fill="#fdfafd" fill-opacity="0.6" stroke="#7a5cc8" stroke-width="1.1"/>
<circle cx="190.4" cy="52.9" r="2.2" fill="#fdfafd" fill-opacity="0.6" stroke="#7a5cc8" stroke-width="1.1"/>
<circle cx="156.6" cy="105.1" r="2.2" fill="#fdfafd" fill-opacity="0.6" stroke="#7a5cc8" stroke-width="1.1"/>
<circle cx="61.1" cy="94.0" r="2.2" fill="#fdfafd" fill-opacity="0.6" stroke="#7a5cc8" stroke-width="1.1"/>
<circle cx="132.9" cy="111.7" r="2.2" fill="#fdfafd" fill-opacity="0.6" stroke="#7a5cc8" stroke-width="1.1"/>
<circle cx="55.1" cy="104.6" r="2.2" fill="#fdfafd" fill-opacity="0.6" stroke="#7a5cc8" stroke-width="1.1"/>
</svg>
<rect x="450.4" y="860.4" width="204.1" height="140.1" fill="none" stroke="#111" stroke-width="2"/>
<rect x="630.7" y="993.8" width="14.6" height="2.6" fill="#000"/>
<svg x="662.6" y="860.4" width="203.69999999999993" height="140.10000000000002" viewBox="0 0 203.69999999999993 140.10000000000002" overflow="hidden">
<rect width="203.69999999999993" height="140.10000000000002" fill="#fcf8fc"/>
<rect width="203.69999999999993" height="140.10000000000002" filter="url(#tex4)" opacity="0.65"/>
<g filter="url(#rough4)">
<ellipse cx="4.0" cy="11.7" rx="10.5" ry="12.8" transform="rotate(0 4.0 11.7)" fill="#7060e0" opacity="0.42" filter="url(#blur2)"/>
<ellipse cx="28.0" cy="17.3" rx="16.3" ry="16.3" transform="rotate(0 28.0 17.3)" fill="#7060e0" opacity="0.42" filter="url(#blur2)"/>
<ellipse cx="43.5" cy="11.7" rx="16.3" ry="10.5" transform="rotate(0 43.5 11.7)" fill="#7060e0" opacity="0.42" filter="url(#blur2)"/>
<ellipse cx="73.1" cy="24.4" rx="16.3" ry="18.6" transform="rotate(-30 73.1 24.4)" fill="#7060e0" opacity="0.42" filter="url(#blur2)"/>
<ellipse cx="4.0" cy="38.5" rx="11.7" ry="18.6" transform="rotate(0 4.0 38.5)" fill="#7060e0" opacity="0.42" filter="url(#blur2)"/>
<ellipse cx="56.2" cy="59.6" rx="11.7" ry="10.5" transform="rotate(0 56.2 59.6)" fill="#7060e0" opacity="0.42" filter="url(#blur2)"/>
<ellipse cx="73.1" cy="73.7" rx="16.3" ry="16.3" transform="rotate(0 73.1 73.7)" fill="#7060e0" opacity="0.42" filter="url(#blur2)"/>
<ellipse cx="99.9" cy="56.8" rx="10.5" ry="20.9" transform="rotate(0 99.9 56.8)" fill="#7060e0" opacity="0.42" filter="url(#blur2)"/>
<ellipse cx="22.4" cy="85.7" rx="8.2" ry="9.4" transform="rotate(0 22.4 85.7)" fill="#7060e0" opacity="0.42" filter="url(#blur2)"/>
<ellipse cx="84.4" cy="90.6" rx="11.7" ry="11.7" transform="rotate(0 84.4 90.6)" fill="#7060e0" opacity="0.42" filter="url(#blur2)"/>
<ellipse cx="97.1" cy="106.1" rx="11.7" ry="10.5" transform="rotate(0 97.1 106.1)" fill="#7060e0" opacity="0.42" filter="url(#blur2)"/>
<ellipse cx="12.5" cy="124.4" rx="20.9" ry="18.6" transform="rotate(0 12.5 124.4)" fill="#7060e0" opacity="0.42" filter="url(#blur2)"/>
<ellipse cx="35.0" cy="121.6" rx="18.6" ry="16.3" transform="rotate(0 35.0 121.6)" fill="#7060e0" opacity="0.42" filter="url(#blur2)"/>
<ellipse cx="75.9" cy="124.4" rx="11.7" ry="12.8" transform="rotate(0 75.9 124.4)" fill="#7060e0" opacity="0.42" filter="url(#blur2)"/>
<ellipse cx="2.6" cy="113.2" rx="9.4" ry="12.8" transform="rotate(0 2.6 113.2)" fill="#7060e0" opacity="0.42" filter="url(#blur2)"/>
<ellipse cx="99.9" cy="3.2" rx="9.4" ry="8.2" transform="rotate(0 99.9 3.2)" fill="#7060e0" opacity="0.42" filter="url(#blur2)"/>
<ellipse cx="110.3" cy="11.7" rx="12.8" ry="12.8" transform="rotate(0 110.3 11.7)" fill="#7060e0" opacity="0.42" filter="url(#blur2)"/>
<ellipse cx="154.0" cy="7.5" rx="12.8" ry="12.8" transform="rotate(0 154.0 7.5)" fill="#7060e0" opacity="0.42" filter="url(#blur2)"/>
<ellipse cx="103.2" cy="37.1" rx="11.7" ry="18.6" transform="rotate(0 103.2 37.1)" fill="#7060e0" opacity="0.42" filter="url(#blur2)"/>
<ellipse cx="101.8" cy="59.6" rx="10.5" ry="23.2" transform="rotate(0 101.8 59.6)" fill="#7060e0" opacity="0.42" filter="url(#blur2)"/>
<ellipse cx="168.1" cy="27.2" rx="16.3" ry="12.8" transform="rotate(0 168.1 27.2)" fill="#7060e0" opacity="0.42" filter="url(#blur2)"/>
<ellipse cx="187.8" cy="32.8" rx="18.6" ry="18.6" transform="rotate(30 187.8 32.8)" fill="#7060e0" opacity="0.42" filter="url(#blur2)"/>
<ellipse cx="173.7" cy="45.5" rx="18.6" ry="16.3" transform="rotate(0 173.7 45.5)" fill="#7060e0" opacity="0.42" filter="url(#blur2)"/>
<ellipse cx="166.6" cy="56.8" rx="16.3" ry="12.8" transform="rotate(0 166.6 56.8)" fill="#7060e0" opacity="0.42" filter="url(#blur2)"/>
<ellipse cx="125.8" cy="73.7" rx="18.6" ry="11.7" transform="rotate(-20 125.8 73.7)" fill="#7060e0" opacity="0.42" filter="url(#blur2)"/>
<ellipse cx="183.6" cy="75.1" rx="11.7" ry="16.3" transform="rotate(0 183.6 75.1)" fill="#7060e0" opacity="0.42" filter="url(#blur2)"/>
<ellipse cx="175.1" cy="96.3" rx="12.8" ry="12.8" transform="rotate(0 175.1 96.3)" fill="#7060e0" opacity="0.42" filter="url(#blur2)"/>
<ellipse cx="196.2" cy="99.1" rx="11.7" ry="12.8" transform="rotate(0 196.2 99.1)" fill="#7060e0" opacity="0.42" filter="url(#blur2)"/>
<ellipse cx="166.6" cy="111.8" rx="16.3" ry="12.8" transform="rotate(0 166.6 111.8)" fill="#7060e0" opacity="0.42" filter="url(#blur2)"/>
<ellipse cx="193.4" cy="118.8" rx="15.1" ry="15.1" transform="rotate(0 193.4 118.8)" fill="#7060e0" opacity="0.42" filter="url(#blur2)"/>
<ellipse cx="156.8" cy="123.0" rx="9.4" ry="16.3" transform="rotate(-30 156.8 123.0)" fill="#7060e0" opacity="0.42" filter="url(#blur2)"/>
<ellipse cx="115.9" cy="116.0" rx="12.8" ry="11.7" transform="rotate(0 115.9 116.0)" fill="#7060e0" opacity="0.42" filter="url(#blur2)"/>
<ellipse cx="100.4" cy="106.1" rx="8.2" ry="11.7" transform="rotate(0 100.4 106.1)" fill="#7060e0" opacity="0.42" filter="url(#blur2)"/>
<ellipse cx="4.0" cy="11.7" rx="4.7" ry="6.1" transform="rotate(0 4.0 11.7)" fill="#3a34de" opacity="0.95"/>
<ellipse cx="3.5" cy="10.9" rx="2.1" ry="2.7" transform="rotate(0 4.0 11.7)" fill="#10108e" opacity="0.80" filter="url(#blur1)"/>
<ellipse cx="28.0" cy="17.3" rx="8.1" ry="8.1" transform="rotate(0 28.0 17.3)" fill="#3a34de" opacity="0.95"/>
<ellipse cx="27.8" cy="16.6" rx="3.6" ry="3.6" transform="rotate(0 28.0 17.3)" fill="#10108e" opacity="0.80" filter="url(#blur1)"/>
<ellipse cx="43.5" cy="11.7" rx="8.1" ry="4.7" transform="rotate(0 43.5 11.7)" fill="#3a34de" opacity="0.95"/>
<ellipse cx="42.6" cy="11.5" rx="3.6" ry="2.1" transform="rotate(0 43.5 11.7)" fill="#10108e" opacity="0.80" filter="url(#blur1)"/>
<ellipse cx="73.1" cy="24.4" rx="8.1" ry="9.5" transform="rotate(-30 73.1 24.4)" fill="#3a34de" opacity="0.95"/>
<ellipse cx="73.9" cy="25.0" rx="3.6" ry="4.3" transform="rotate(-30 73.1 24.4)" fill="#10108e" opacity="0.80" filter="url(#blur1)"/>
<ellipse cx="4.0" cy="38.5" rx="5.4" ry="9.5" transform="rotate(0 4.0 38.5)" fill="#3a34de" opacity="0.95"/>
<ellipse cx="4.5" cy="37.9" rx="2.4" ry="4.3" transform="rotate(0 4.0 38.5)" fill="#10108e" opacity="0.80" filter="url(#blur1)"/>
<ellipse cx="56.2" cy="59.6" rx="5.4" ry="4.7" transform="rotate(0 56.2 59.6)" fill="#3a34de" opacity="0.95"/>
<ellipse cx="56.3" cy="59.2" rx="2.4" ry="2.1" transform="rotate(0 56.2 59.6)" fill="#10108e" opacity="0.80" filter="url(#blur1)"/>
<ellipse cx="73.1" cy="73.7" rx="8.1" ry="8.1" transform="rotate(0 73.1 73.7)" fill="#3a34de" opacity="0.95"/>
<ellipse cx="72.4" cy="72.9" rx="3.6" ry="3.6" transform="rotate(0 73.1 73.7)" fill="#10108e" opacity="0.80" filter="url(#blur1)"/>
<ellipse cx="99.9" cy="56.8" rx="4.7" ry="10.8" transform="rotate(0 99.9 56.8)" fill="#3a34de" opacity="0.95"/>
<ellipse cx="99.3" cy="57.7" rx="2.1" ry="4.9" transform="rotate(0 99.9 56.8)" fill="#10108e" opacity="0.80" filter="url(#blur1)"/>
<ellipse cx="22.4" cy="85.7" rx="3.4" ry="4.1" transform="rotate(0 22.4 85.7)" fill="#3a34de" opacity="0.95"/>
<ellipse cx="23.1" cy="86.3" rx="1.5" ry="1.8" transform="rotate(0 22.4 85.7)" fill="#10108e" opacity="0.80" filter="url(#blur1)"/>
<ellipse cx="84.4" cy="90.6" rx="5.4" ry="5.4" transform="rotate(0 84.4 90.6)" fill="#3a34de" opacity="0.95"/>
<ellipse cx="85.0" cy="90.0" rx="2.4" ry="2.4" transform="rotate(0 84.4 90.6)" fill="#10108e" opacity="0.80" filter="url(#blur1)"/>
<ellipse cx="97.1" cy="106.1" rx="5.4" ry="4.7" transform="rotate(0 97.1 106.1)" fill="#3a34de" opacity="0.95"/>
<ellipse cx="96.7" cy="106.4" rx="2.4" ry="2.1" transform="rotate(0 97.1 106.1)" fill="#10108e" opacity="0.80" filter="url(#blur1)"/>
<ellipse cx="12.5" cy="124.4" rx="10.8" ry="9.5" transform="rotate(0 12.5 124.4)" fill="#3a34de" opacity="0.95"/>
<ellipse cx="13.0" cy="125.1" rx="4.9" ry="4.3" transform="rotate(0 12.5 124.4)" fill="#10108e" opacity="0.80" filter="url(#blur1)"/>
<ellipse cx="35.0" cy="121.6" rx="9.5" ry="8.1" transform="rotate(0 35.0 121.6)" fill="#3a34de" opacity="0.95"/>
<ellipse cx="35.8" cy="120.8" rx="4.3" ry="3.6" transform="rotate(0 35.0 121.6)" fill="#10108e" opacity="0.80" filter="url(#blur1)"/>
<ellipse cx="75.9" cy="124.4" rx="5.4" ry="6.1" transform="rotate(0 75.9 124.4)" fill="#3a34de" opacity="0.95"/>
<ellipse cx="76.1" cy="124.7" rx="2.4" ry="2.7" transform="rotate(0 75.9 124.4)" fill="#10108e" opacity="0.80" filter="url(#blur1)"/>
<ellipse cx="2.6" cy="113.2" rx="4.1" ry="6.1" transform="rotate(0 2.6 113.2)" fill="#3a34de" opacity="0.95"/>
<ellipse cx="2.6" cy="112.6" rx="1.8" ry="2.7" transform="rotate(0 2.6 113.2)" fill="#10108e" opacity="0.80" filter="url(#blur1)"/>
<ellipse cx="99.9" cy="3.2" rx="4.1" ry="3.4" transform="rotate(0 99.9 3.2)" fill="#3a34de" opacity="0.95"/>
<ellipse cx="99.8" cy="2.4" rx="1.8" ry="1.5" transform="rotate(0 99.9 3.2)" fill="#10108e" opacity="0.80" filter="url(#blur1)"/>
<ellipse cx="110.3" cy="11.7" rx="6.1" ry="6.1" transform="rotate(0 110.3 11.7)" fill="#3a34de" opacity="0.95"/>
<ellipse cx="111.2" cy="12.4" rx="2.7" ry="2.7" transform="rotate(0 110.3 11.7)" fill="#10108e" opacity="0.80" filter="url(#blur1)"/>
<ellipse cx="154.0" cy="7.5" rx="6.1" ry="6.1" transform="rotate(0 154.0 7.5)" fill="#3a34de" opacity="0.95"/>
<ellipse cx="154.1" cy="7.1" rx="2.7" ry="2.7" transform="rotate(0 154.0 7.5)" fill="#10108e" opacity="0.80" filter="url(#blur1)"/>
<ellipse cx="103.2" cy="37.1" rx="5.4" ry="9.5" transform="rotate(0 103.2 37.1)" fill="#3a34de" opacity="0.95"/>
<ellipse cx="104.0" cy="37.2" rx="2.4" ry="4.3" transform="rotate(0 103.2 37.1)" fill="#10108e" opacity="0.80" filter="url(#blur1)"/>
<ellipse cx="101.8" cy="59.6" rx="4.7" ry="12.2" transform="rotate(0 101.8 59.6)" fill="#3a34de" opacity="0.95"/>
<ellipse cx="102.6" cy="60.3" rx="2.1" ry="5.5" transform="rotate(0 101.8 59.6)" fill="#10108e" opacity="0.80" filter="url(#blur1)"/>
<ellipse cx="168.1" cy="27.2" rx="8.1" ry="6.1" transform="rotate(0 168.1 27.2)" fill="#3a34de" opacity="0.95"/>
<ellipse cx="168.1" cy="27.0" rx="3.6" ry="2.7" transform="rotate(0 168.1 27.2)" fill="#10108e" opacity="0.80" filter="url(#blur1)"/>
<ellipse cx="187.8" cy="32.8" rx="9.5" ry="9.5" transform="rotate(30 187.8 32.8)" fill="#3a34de" opacity="0.95"/>
<ellipse cx="188.0" cy="32.7" rx="4.3" ry="4.3" transform="rotate(30 187.8 32.8)" fill="#10108e" opacity="0.80" filter="url(#blur1)"/>
<ellipse cx="173.7" cy="45.5" rx="9.5" ry="8.1" transform="rotate(0 173.7 45.5)" fill="#3a34de" opacity="0.95"/>
<ellipse cx="173.0" cy="45.1" rx="4.3" ry="3.6" transform="rotate(0 173.7 45.5)" fill="#10108e" opacity="0.80" filter="url(#blur1)"/>
<ellipse cx="166.6" cy="56.8" rx="8.1" ry="6.1" transform="rotate(0 166.6 56.8)" fill="#3a34de" opacity="0.95"/>
<ellipse cx="167.2" cy="55.9" rx="3.6" ry="2.7" transform="rotate(0 166.6 56.8)" fill="#10108e" opacity="0.80" filter="url(#blur1)"/>
<ellipse cx="125.8" cy="73.7" rx="9.5" ry="5.4" transform="rotate(-20 125.8 73.7)" fill="#3a34de" opacity="0.95"/>
<ellipse cx="124.9" cy="74.0" rx="4.3" ry="2.4" transform="rotate(-20 125.8 73.7)" fill="#10108e" opacity="0.80" filter="url(#blur1)"/>
<ellipse cx="183.6" cy="75.1" rx="5.4" ry="8.1" transform="rotate(0 183.6 75.1)" fill="#3a34de" opacity="0.95"/>
<ellipse cx="183.2" cy="75.2" rx="2.4" ry="3.6" transform="rotate(0 183.6 75.1)" fill="#10108e" opacity="0.80" filter="url(#blur1)"/>
<ellipse cx="175.1" cy="96.3" rx="6.1" ry="6.1" transform="rotate(0 175.1 96.3)" fill="#3a34de" opacity="0.95"/>
<ellipse cx="175.0" cy="96.0" rx="2.7" ry="2.7" transform="rotate(0 175.1 96.3)" fill="#10108e" opacity="0.80" filter="url(#blur1)"/>
<ellipse cx="196.2" cy="99.1" rx="5.4" ry="6.1" transform="rotate(0 196.2 99.1)" fill="#3a34de" opacity="0.95"/>
<ellipse cx="197.2" cy="98.5" rx="2.4" ry="2.7" transform="rotate(0 196.2 99.1)" fill="#10108e" opacity="0.80" filter="url(#blur1)"/>
<ellipse cx="166.6" cy="111.8" rx="8.1" ry="6.1" transform="rotate(0 166.6 111.8)" fill="#3a34de" opacity="0.95"/>
<ellipse cx="166.4" cy="111.2" rx="3.6" ry="2.7" transform="rotate(0 166.6 111.8)" fill="#10108e" opacity="0.80" filter="url(#blur1)"/>
<ellipse cx="193.4" cy="118.8" rx="7.4" ry="7.4" transform="rotate(0 193.4 118.8)" fill="#3a34de" opacity="0.95"/>
<ellipse cx="193.7" cy="118.4" rx="3.3" ry="3.3" transform="rotate(0 193.4 118.8)" fill="#10108e" opacity="0.80" filter="url(#blur1)"/>
<ellipse cx="156.8" cy="123.0" rx="4.1" ry="8.1" transform="rotate(-30 156.8 123.0)" fill="#3a34de" opacity="0.95"/>
<ellipse cx="156.5" cy="123.5" rx="1.8" ry="3.6" transform="rotate(-30 156.8 123.0)" fill="#10108e" opacity="0.80" filter="url(#blur1)"/>
<ellipse cx="115.9" cy="116.0" rx="6.1" ry="5.4" transform="rotate(0 115.9 116.0)" fill="#3a34de" opacity="0.95"/>
<ellipse cx="115.5" cy="116.1" rx="2.7" ry="2.4" transform="rotate(0 115.9 116.0)" fill="#10108e" opacity="0.80" filter="url(#blur1)"/>
<ellipse cx="100.4" cy="106.1" rx="3.4" ry="5.4" transform="rotate(0 100.4 106.1)" fill="#3a34de" opacity="0.95"/>
<ellipse cx="101.2" cy="105.3" rx="1.5" ry="2.4" transform="rotate(0 100.4 106.1)" fill="#10108e" opacity="0.80" filter="url(#blur1)"/>
</g>
<rect width="203.69999999999993" height="140.10000000000002" filter="url(#grain4)" opacity="0.6"/>
<circle cx="14.3" cy="33.1" r="2.2" fill="#fdfafd" fill-opacity="0.6" stroke="#7a5cc8" stroke-width="1.1"/>
<circle cx="154.8" cy="85.8" r="2.2" fill="#fdfafd" fill-opacity="0.6" stroke="#7a5cc8" stroke-width="1.1"/>
<circle cx="49.4" cy="47.1" r="2.2" fill="#fdfafd" fill-opacity="0.6" stroke="#7a5cc8" stroke-width="1.1"/>
<circle cx="37.5" cy="64.5" r="2.2" fill="#fdfafd" fill-opacity="0.6" stroke="#7a5cc8" stroke-width="1.1"/>
<circle cx="10.5" cy="96.9" r="2.2" fill="#fdfafd" fill-opacity="0.6" stroke="#7a5cc8" stroke-width="1.1"/>
<circle cx="180.9" cy="131.9" r="2.2" fill="#fdfafd" fill-opacity="0.6" stroke="#7a5cc8" stroke-width="1.1"/>
<circle cx="148.8" cy="132.6" r="2.2" fill="#fdfafd" fill-opacity="0.6" stroke="#7a5cc8" stroke-width="1.1"/>
<circle cx="5.6" cy="41.3" r="2.2" fill="#fdfafd" fill-opacity="0.6" stroke="#7a5cc8" stroke-width="1.1"/>
<circle cx="194.9" cy="107.5" r="2.2" fill="#fdfafd" fill-opacity="0.6" stroke="#7a5cc8" stroke-width="1.1"/>
<circle cx="84.0" cy="130.4" r="2.2" fill="#fdfafd" fill-opacity="0.6" stroke="#7a5cc8" stroke-width="1.1"/>
<circle cx="125.9" cy="113.3" r="2.2" fill="#fdfafd" fill-opacity="0.6" stroke="#7a5cc8" stroke-width="1.1"/>
<circle cx="60.6" cy="28.1" r="2.2" fill="#fdfafd" fill-opacity="0.6" stroke="#7a5cc8" stroke-width="1.1"/>
<circle cx="90.7" cy="20.6" r="2.2" fill="#fdfafd" fill-opacity="0.6" stroke="#7a5cc8" stroke-width="1.1"/>
<circle cx="78.2" cy="132.9" r="2.2" fill="#fdfafd" fill-opacity="0.6" stroke="#7a5cc8" stroke-width="1.1"/>
<circle cx="68.2" cy="3.3" r="2.2" fill="#fdfafd" fill-opacity="0.6" stroke="#7a5cc8" stroke-width="1.1"/>
<circle cx="10.9" cy="25.1" r="2.2" fill="#fdfafd" fill-opacity="0.6" stroke="#7a5cc8" stroke-width="1.1"/>
<circle cx="158.5" cy="51.4" r="2.2" fill="#fdfafd" fill-opacity="0.6" stroke="#7a5cc8" stroke-width="1.1"/>
<circle cx="60.0" cy="15.2" r="2.2" fill="#fdfafd" fill-opacity="0.6" stroke="#7a5cc8" stroke-width="1.1"/>
<circle cx="198.1" cy="59.7" r="2.2" fill="#fdfafd" fill-opacity="0.6" stroke="#7a5cc8" stroke-width="1.1"/>
<circle cx="43.5" cy="10.1" r="2.2" fill="#fdfafd" fill-opacity="0.6" stroke="#7a5cc8" stroke-width="1.1"/>
<circle cx="13.0" cy="25.0" r="2.2" fill="#fdfafd" fill-opacity="0.6" stroke="#7a5cc8" stroke-width="1.1"/>
<circle cx="137.2" cy="22.4" r="2.2" fill="#fdfafd" fill-opacity="0.6" stroke="#7a5cc8" stroke-width="1.1"/>
<circle cx="10.2" cy="68.8" r="2.2" fill="#fdfafd" fill-opacity="0.6" stroke="#7a5cc8" stroke-width="1.1"/>
<circle cx="51.7" cy="137.8" r="2.2" fill="#fdfafd" fill-opacity="0.6" stroke="#7a5cc8" stroke-width="1.1"/>
<circle cx="26.4" cy="74.0" r="2.2" fill="#fdfafd" fill-opacity="0.6" stroke="#7a5cc8" stroke-width="1.1"/>
<circle cx="156.5" cy="57.7" r="2.2" fill="#fdfafd" fill-opacity="0.6" stroke="#7a5cc8" stroke-width="1.1"/>
<circle cx="199.2" cy="67.0" r="2.2" fill="#fdfafd" fill-opacity="0.6" stroke="#7a5cc8" stroke-width="1.1"/>
<circle cx="50.3" cy="57.9" r="2.2" fill="#fdfafd" fill-opacity="0.6" stroke="#7a5cc8" stroke-width="1.1"/>
<circle cx="9.4" cy="59.3" r="2.2" fill="#fdfafd" fill-opacity="0.6" stroke="#7a5cc8" stroke-width="1.1"/>
<circle cx="51.6" cy="123.0" r="2.2" fill="#fdfafd" fill-opacity="0.6" stroke="#7a5cc8" stroke-width="1.1"/>
<circle cx="168.0" cy="69.9" r="2.2" fill="#fdfafd" fill-opacity="0.6" stroke="#7a5cc8" stroke-width="1.1"/>
<circle cx="8.3" cy="36.6" r="2.2" fill="#fdfafd" fill-opacity="0.6" stroke="#7a5cc8" stroke-width="1.1"/>
<circle cx="50.4" cy="30.3" r="2.2" fill="#fdfafd" fill-opacity="0.6" stroke="#7a5cc8" stroke-width="1.1"/>
<circle cx="48.2" cy="120.4" r="2.2" fill="#fdfafd" fill-opacity="0.6" stroke="#7a5cc8" stroke-width="1.1"/>
<circle cx="30.3" cy="9.0" r="2.2" fill="#fdfafd" fill-opacity="0.6" stroke="#7a5cc8" stroke-width="1.1"/>
<circle cx="187.3" cy="78.9" r="2.2" fill="#fdfafd" fill-opacity="0.6" stroke="#7a5cc8" stroke-width="1.1"/>
<circle cx="199.8" cy="56.8" r="2.2" fill="#fdfafd" fill-opacity="0.6" stroke="#7a5cc8" stroke-width="1.1"/>
<circle cx="181.9" cy="91.0" r="2.2" fill="#fdfafd" fill-opacity="0.6" stroke="#7a5cc8" stroke-width="1.1"/>
<circle cx="159.9" cy="103.4" r="2.2" fill="#fdfafd" fill-opacity="0.6" stroke="#7a5cc8" stroke-width="1.1"/>
<circle cx="100.7" cy="14.6" r="2.2" fill="#fdfafd" fill-opacity="0.6" stroke="#7a5cc8" stroke-width="1.1"/>
<circle cx="44.1" cy="120.9" r="2.2" fill="#fdfafd" fill-opacity="0.6" stroke="#7a5cc8" stroke-width="1.1"/>
<circle cx="181.7" cy="127.8" r="2.2" fill="#fdfafd" fill-opacity="0.6" stroke="#7a5cc8" stroke-width="1.1"/>
<circle cx="69.2" cy="91.4" r="2.2" fill="#fdfafd" fill-opacity="0.6" stroke="#7a5cc8" stroke-width="1.1"/>
<circle cx="161.7" cy="89.4" r="2.2" fill="#fdfafd" fill-opacity="0.6" stroke="#7a5cc8" stroke-width="1.1"/>
<circle cx="164.7" cy="73.9" r="2.2" fill="#fdfafd" fill-opacity="0.6" stroke="#7a5cc8" stroke-width="1.1"/>
<circle cx="132.8" cy="95.4" r="2.2" fill="#fdfafd" fill-opacity="0.6" stroke="#7a5cc8" stroke-width="1.1"/>
<circle cx="55.6" cy="127.6" r="2.2" fill="#fdfafd" fill-opacity="0.6" stroke="#7a5cc8" stroke-width="1.1"/>
<circle cx="193.0" cy="12.1" r="2.2" fill="#fdfafd" fill-opacity="0.6" stroke="#7a5cc8" stroke-width="1.1"/>
<circle cx="195.9" cy="132.9" r="2.2" fill="#fdfafd" fill-opacity="0.6" stroke="#7a5cc8" stroke-width="1.1"/>
<circle cx="135.5" cy="8.1" r="2.2" fill="#fdfafd" fill-opacity="0.6" stroke="#7a5cc8" stroke-width="1.1"/>
<circle cx="181.5" cy="19.4" r="2.2" fill="#fdfafd" fill-opacity="0.6" stroke="#7a5cc8" stroke-width="1.1"/>
<circle cx="195.4" cy="92.8" r="2.2" fill="#fdfafd" fill-opacity="0.6" stroke="#7a5cc8" stroke-width="1.1"/>
<circle cx="14.1" cy="24.8" r="2.2" fill="#fdfafd" fill-opacity="0.6" stroke="#7a5cc8" stroke-width="1.1"/>
<circle cx="128.8" cy="79.5" r="2.2" fill="#fdfafd" fill-opacity="0.6" stroke="#7a5cc8" stroke-width="1.1"/>
<circle cx="151.1" cy="128.2" r="2.2" fill="#fdfafd" fill-opacity="0.6" stroke="#7a5cc8" stroke-width="1.1"/>
<circle cx="45.6" cy="2.4" r="2.2" fill="#fdfafd" fill-opacity="0.6" stroke="#7a5cc8" stroke-width="1.1"/>
<circle cx="186.2" cy="3.8" r="2.2" fill="#fdfafd" fill-opacity="0.6" stroke="#7a5cc8" stroke-width="1.1"/>
<circle cx="177.0" cy="17.8" r="2.2" fill="#fdfafd" fill-opacity="0.6" stroke="#7a5cc8" stroke-width="1.1"/>
<circle cx="163.7" cy="108.6" r="2.2" fill="#fdfafd" fill-opacity="0.6" stroke="#7a5cc8" stroke-width="1.1"/>
<circle cx="177.3" cy="76.9" r="2.2" fill="#fdfafd" fill-opacity="0.6" stroke="#7a5cc8" stroke-width="1.1"/>
<circle cx="177.5" cy="29.4" r="2.2" fill="#fdfafd" fill-opacity="0.6" stroke="#7a5cc8" stroke-width="1.1"/>
<circle cx="136.1" cy="47.0" r="2.2" fill="#fdfafd" fill-opacity="0.6" stroke="#7a5cc8" stroke-width="1.1"/>
<circle cx="180.1" cy="107.3" r="2.2" fill="#fdfafd" fill-opacity="0.6" stroke="#7a5cc8" stroke-width="1.1"/>
<circle cx="96.2" cy="73.6" r="2.2" fill="#fdfafd" fill-opacity="0.6" stroke="#7a5cc8" stroke-width="1.1"/>
<circle cx="7.3" cy="6.7" r="2.2" fill="#fdfafd" fill-opacity="0.6" stroke="#7a5cc8" stroke-width="1.1"/>
<circle cx="120.7" cy="68.5" r="2.2" fill="#fdfafd" fill-opacity="0.6" stroke="#7a5cc8" stroke-width="1.1"/>
<circle cx="174.7" cy="84.8" r="2.2" fill="#fdfafd" fill-opacity="0.6" stroke="#7a5cc8" stroke-width="1.1"/>
<circle cx="29.7" cy="51.3" r="2.2" fill="#fdfafd" fill-opacity="0.6" stroke="#7a5cc8" stroke-width="1.1"/>
<circle cx="155.3" cy="73.2" r="2.2" fill="#fdfafd" fill-opacity="0.6" stroke="#7a5cc8" stroke-width="1.1"/>
<circle cx="4.1" cy="116.0" r="2.2" fill="#fdfafd" fill-opacity="0.6" stroke="#7a5cc8" stroke-width="1.1"/>
<circle cx="167.3" cy="13.6" r="2.2" fill="#fdfafd" fill-opacity="0.6" stroke="#7a5cc8" stroke-width="1.1"/>
<circle cx="110.5" cy="53.9" r="2.2" fill="#fdfafd" fill-opacity="0.6" stroke="#7a5cc8" stroke-width="1.1"/>
<circle cx="159.2" cy="44.4" r="2.2" fill="#fdfafd" fill-opacity="0.6" stroke="#7a5cc8" stroke-width="1.1"/>
<circle cx="48.7" cy="68.2" r="2.2" fill="#fdfafd" fill-opacity="0.6" stroke="#7a5cc8" stroke-width="1.1"/>
<circle cx="195.0" cy="14.9" r="2.2" fill="#fdfafd" fill-opacity="0.6" stroke="#7a5cc8" stroke-width="1.1"/>
<circle cx="24.9" cy="86.5" r="2.2" fill="#fdfafd" fill-opacity="0.6" stroke="#7a5cc8" stroke-width="1.1"/>
<circle cx="178.8" cy="71.7" r="2.2" fill="#fdfafd" fill-opacity="0.6" stroke="#7a5cc8" stroke-width="1.1"/>
<circle cx="88.7" cy="118.8" r="2.2" fill="#fdfafd" fill-opacity="0.6" stroke="#7a5cc8" stroke-width="1.1"/>
<circle cx="157.1" cy="11.1" r="2.2" fill="#fdfafd" fill-opacity="0.6" stroke="#7a5cc8" stroke-width="1.1"/>
<circle cx="178.0" cy="28.7" r="2.2" fill="#fdfafd" fill-opacity="0.6" stroke="#7a5cc8" stroke-width="1.1"/>
<circle cx="62.4" cy="115.8" r="2.2" fill="#fdfafd" fill-opacity="0.6" stroke="#7a5cc8" stroke-width="1.1"/>
<circle cx="86.4" cy="110.7" r="2.2" fill="#fdfafd" fill-opacity="0.6" stroke="#7a5cc8" stroke-width="1.1"/>
<circle cx="35.4" cy="121.0" r="2.2" fill="#fdfafd" fill-opacity="0.6" stroke="#7a5cc8" stroke-width="1.1"/>
<circle cx="37.2" cy="22.3" r="2.2" fill="#fdfafd" fill-opacity="0.6" stroke="#7a5cc8" stroke-width="1.1"/>
<circle cx="100.7" cy="48.1" r="2.2" fill="#fdfafd" fill-opacity="0.6" stroke="#7a5cc8" stroke-width="1.1"/>
<circle cx="110.2" cy="125.0" r="2.2" fill="#fdfafd" fill-opacity="0.6" stroke="#7a5cc8" stroke-width="1.1"/>
<circle cx="143.9" cy="2.8" r="2.2" fill="#fdfafd" fill-opacity="0.6" stroke="#7a5cc8" stroke-width="1.1"/>
<circle cx="64.3" cy="76.2" r="2.2" fill="#fdfafd" fill-opacity="0.6" stroke="#7a5cc8" stroke-width="1.1"/>
<circle cx="99.2" cy="99.4" r="2.2" fill="#fdfafd" fill-opacity="0.6" stroke="#7a5cc8" stroke-width="1.1"/>
<circle cx="98.7" cy="12.3" r="2.2" fill="#fdfafd" fill-opacity="0.6" stroke="#7a5cc8" stroke-width="1.1"/>
<circle cx="51.0" cy="117.4" r="2.2" fill="#fdfafd" fill-opacity="0.6" stroke="#7a5cc8" stroke-width="1.1"/>
<circle cx="73.3" cy="106.3" r="2.2" fill="#fdfafd" fill-opacity="0.6" stroke="#7a5cc8" stroke-width="1.1"/>
<circle cx="198.9" cy="87.3" r="2.2" fill="#fdfafd" fill-opacity="0.6" stroke="#7a5cc8" stroke-width="1.1"/>
<circle cx="137.1" cy="85.0" r="2.2" fill="#fdfafd" fill-opacity="0.6" stroke="#7a5cc8" stroke-width="1.1"/>
<circle cx="64.6" cy="126.2" r="2.2" fill="#fdfafd" fill-opacity="0.6" stroke="#7a5cc8" stroke-width="1.1"/>
<circle cx="95.3" cy="126.0" r="2.2" fill="#fdfafd" fill-opacity="0.6" stroke="#7a5cc8" stroke-width="1.1"/>
<circle cx="63.0" cy="120.1" r="2.2" fill="#fdfafd" fill-opacity="0.6" stroke="#7a5cc8" stroke-width="1.1"/>
<circle cx="159.1" cy="85.4" r="2.2" fill="#fdfafd" fill-opacity="0.6" stroke="#7a5cc8" stroke-width="1.1"/>
<circle cx="90.3" cy="21.1" r="2.2" fill="#fdfafd" fill-opacity="0.6" stroke="#7a5cc8" stroke-width="1.1"/>
<circle cx="156.0" cy="51.3" r="2.2" fill="#fdfafd" fill-opacity="0.6" stroke="#7a5cc8" stroke-width="1.1"/>
<circle cx="134.2" cy="20.1" r="2.2" fill="#fdfafd" fill-opacity="0.6" stroke="#7a5cc8" stroke-width="1.1"/>
<circle cx="18.5" cy="21.6" r="2.2" fill="#fdfafd" fill-opacity="0.6" stroke="#7a5cc8" stroke-width="1.1"/>
<circle cx="163.6" cy="26.2" r="2.2" fill="#fdfafd" fill-opacity="0.6" stroke="#7a5cc8" stroke-width="1.1"/>
<circle cx="182.1" cy="52.6" r="2.2" fill="#fdfafd" fill-opacity="0.6" stroke="#7a5cc8" stroke-width="1.1"/>
<circle cx="117.0" cy="49.7" r="2.2" fill="#fdfafd" fill-opacity="0.6" stroke="#7a5cc8" stroke-width="1.1"/>
<circle cx="126.0" cy="14.7" r="2.2" fill="#fdfafd" fill-opacity="0.6" stroke="#7a5cc8" stroke-width="1.1"/>
<circle cx="82.4" cy="129.4" r="2.2" fill="#fdfafd" fill-opacity="0.6" stroke="#7a5cc8" stroke-width="1.1"/>
<circle cx="37.9" cy="91.0" r="2.2" fill="#fdfafd" fill-opacity="0.6" stroke="#7a5cc8" stroke-width="1.1"/>
<circle cx="67.2" cy="42.9" r="2.2" fill="#fdfafd" fill-opacity="0.6" stroke="#7a5cc8" stroke-width="1.1"/>
<circle cx="6.6" cy="4.7" r="2.2" fill="#fdfafd" fill-opacity="0.6" stroke="#7a5cc8" stroke-width="1.1"/>
<circle cx="191.6" cy="114.9" r="2.2" fill="#fdfafd" fill-opacity="0.6" stroke="#7a5cc8" stroke-width="1.1"/>
<circle cx="162.0" cy="111.9" r="2.2" fill="#fdfafd" fill-opacity="0.6" stroke="#7a5cc8" stroke-width="1.1"/>
<circle cx="192.4" cy="23.6" r="2.2" fill="#fdfafd" fill-opacity="0.6" stroke="#7a5cc8" stroke-width="1.1"/>
<circle cx="118.7" cy="69.4" r="2.2" fill="#fdfafd" fill-opacity="0.6" stroke="#7a5cc8" stroke-width="1.1"/>
<circle cx="116.6" cy="129.6" r="2.2" fill="#fdfafd" fill-opacity="0.6" stroke="#7a5cc8" stroke-width="1.1"/>
<circle cx="153.8" cy="133.8" r="2.2" fill="#fdfafd" fill-opacity="0.6" stroke="#7a5cc8" stroke-width="1.1"/>
<circle cx="25.3" cy="90.7" r="2.2" fill="#fdfafd" fill-opacity="0.6" stroke="#7a5cc8" stroke-width="1.1"/>
<circle cx="136.9" cy="103.4" r="2.2" fill="#fdfafd" fill-opacity="0.6" stroke="#7a5cc8" stroke-width="1.1"/>
<circle cx="125.4" cy="115.1" r="2.2" fill="#fdfafd" fill-opacity="0.6" stroke="#7a5cc8" stroke-width="1.1"/>
<circle cx="62.5" cy="128.3" r="2.2" fill="#fdfafd" fill-opacity="0.6" stroke="#7a5cc8" stroke-width="1.1"/>
<circle cx="83.1" cy="83.5" r="2.2" fill="#fdfafd" fill-opacity="0.6" stroke="#7a5cc8" stroke-width="1.1"/>
<circle cx="181.1" cy="97.8" r="2.2" fill="#fdfafd" fill-opacity="0.6" stroke="#7a5cc8" stroke-width="1.1"/>
<circle cx="63.8" cy="33.4" r="2.2" fill="#fdfafd" fill-opacity="0.6" stroke="#7a5cc8" stroke-width="1.1"/>
<circle cx="67.2" cy="87.3" r="2.2" fill="#fdfafd" fill-opacity="0.6" stroke="#7a5cc8" stroke-width="1.1"/>
<circle cx="201.0" cy="124.4" r="2.2" fill="#fdfafd" fill-opacity="0.6" stroke="#7a5cc8" stroke-width="1.1"/>
<circle cx="81.9" cy="56.5" r="2.2" fill="#fdfafd" fill-opacity="0.6" stroke="#7a5cc8" stroke-width="1.1"/>
<circle cx="165.3" cy="40.6" r="2.2" fill="#fdfafd" fill-opacity="0.6" stroke="#7a5cc8" stroke-width="1.1"/>
<circle cx="84.2" cy="3.8" r="2.2" fill="#fdfafd" fill-opacity="0.6" stroke="#7a5cc8" stroke-width="1.1"/>
<circle cx="38.7" cy="75.5" r="2.2" fill="#fdfafd" fill-opacity="0.6" stroke="#7a5cc8" stroke-width="1.1"/>
<circle cx="140.4" cy="85.7" r="2.2" fill="#fdfafd" fill-opacity="0.6" stroke="#7a5cc8" stroke-width="1.1"/>
<circle cx="74.8" cy="131.4" r="2.2" fill="#fdfafd" fill-opacity="0.6" stroke="#7a5cc8" stroke-width="1.1"/>
<circle cx="126.5" cy="23.2" r="2.2" fill="#fdfafd" fill-opacity="0.6" stroke="#7a5cc8" stroke-width="1.1"/>
<circle cx="15.5" cy="134.5" r="2.2" fill="#fdfafd" fill-opacity="0.6" stroke="#7a5cc8" stroke-width="1.1"/>
<circle cx="199.3" cy="127.2" r="2.2" fill="#fdfafd" fill-opacity="0.6" stroke="#7a5cc8" stroke-width="1.1"/>
<circle cx="122.6" cy="44.5" r="2.2" fill="#fdfafd" fill-opacity="0.6" stroke="#7a5cc8" stroke-width="1.1"/>
<circle cx="20.2" cy="37.1" r="2.2" fill="#fdfafd" fill-opacity="0.6" stroke="#7a5cc8" stroke-width="1.1"/>
<circle cx="46.4" cy="128.3" r="2.2" fill="#fdfafd" fill-opacity="0.6" stroke="#7a5cc8" stroke-width="1.1"/>
<circle cx="180.2" cy="107.9" r="2.2" fill="#fdfafd" fill-opacity="0.6" stroke="#7a5cc8" stroke-width="1.1"/>
<circle cx="31.7" cy="34.4" r="2.2" fill="#fdfafd" fill-opacity="0.6" stroke="#7a5cc8" stroke-width="1.1"/>
<circle cx="61.8" cy="131.0" r="2.2" fill="#fdfafd" fill-opacity="0.6" stroke="#7a5cc8" stroke-width="1.1"/>
<circle cx="34.6" cy="109.6" r="2.2" fill="#fdfafd" fill-opacity="0.6" stroke="#7a5cc8" stroke-width="1.1"/>
<circle cx="137.9" cy="76.5" r="2.2" fill="#fdfafd" fill-opacity="0.6" stroke="#7a5cc8" stroke-width="1.1"/>
<circle cx="193.6" cy="37.7" r="2.2" fill="#fdfafd" fill-opacity="0.6" stroke="#7a5cc8" stroke-width="1.1"/>
<circle cx="106.7" cy="23.4" r="2.2" fill="#fdfafd" fill-opacity="0.6" stroke="#7a5cc8" stroke-width="1.1"/>
<circle cx="21.3" cy="6.3" r="2.2" fill="#fdfafd" fill-opacity="0.6" stroke="#7a5cc8" stroke-width="1.1"/>
<circle cx="65.2" cy="18.6" r="2.2" fill="#fdfafd" fill-opacity="0.6" stroke="#7a5cc8" stroke-width="1.1"/>
<circle cx="14.2" cy="137.1" r="2.2" fill="#fdfafd" fill-opacity="0.6" stroke="#7a5cc8" stroke-width="1.1"/>
<circle cx="59.7" cy="123.2" r="2.2" fill="#fdfafd" fill-opacity="0.6" stroke="#7a5cc8" stroke-width="1.1"/>
<circle cx="142.2" cy="101.5" r="2.2" fill="#fdfafd" fill-opacity="0.6" stroke="#7a5cc8" stroke-width="1.1"/>
<circle cx="132.8" cy="131.7" r="2.2" fill="#fdfafd" fill-opacity="0.6" stroke="#7a5cc8" stroke-width="1.1"/>
<circle cx="177.4" cy="99.9" r="2.2" fill="#fdfafd" fill-opacity="0.6" stroke="#7a5cc8" stroke-width="1.1"/>
<circle cx="113.8" cy="96.4" r="2.2" fill="#fdfafd" fill-opacity="0.6" stroke="#7a5cc8" stroke-width="1.1"/>
<circle cx="146.5" cy="77.2" r="2.2" fill="#fdfafd" fill-opacity="0.6" stroke="#7a5cc8" stroke-width="1.1"/>
<circle cx="102.4" cy="23.0" r="2.2" fill="#fdfafd" fill-opacity="0.6" stroke="#7a5cc8" stroke-width="1.1"/>
<circle cx="170.6" cy="67.9" r="2.2" fill="#fdfafd" fill-opacity="0.6" stroke="#7a5cc8" stroke-width="1.1"/>
<circle cx="15.5" cy="24.9" r="2.2" fill="#fdfafd" fill-opacity="0.6" stroke="#7a5cc8" stroke-width="1.1"/>
<circle cx="176.7" cy="36.9" r="2.2" fill="#fdfafd" fill-opacity="0.6" stroke="#7a5cc8" stroke-width="1.1"/>
<circle cx="80.1" cy="94.8" r="2.2" fill="#fdfafd" fill-opacity="0.6" stroke="#7a5cc8" stroke-width="1.1"/>
<circle cx="174.1" cy="46.7" r="2.2" fill="#fdfafd" fill-opacity="0.6" stroke="#7a5cc8" stroke-width="1.1"/>
<circle cx="79.2" cy="59.6" r="2.2" fill="#fdfafd" fill-opacity="0.6" stroke="#7a5cc8" stroke-width="1.1"/>
<circle cx="7.6" cy="121.3" r="2.2" fill="#fdfafd" fill-opacity="0.6" stroke="#7a5cc8" stroke-width="1.1"/>
<circle cx="5.8" cy="132.7" r="2.2" fill="#fdfafd" fill-opacity="0.6" stroke="#7a5cc8" stroke-width="1.1"/>
<circle cx="32.5" cy="23.3" r="2.2" fill="#fdfafd" fill-opacity="0.6" stroke="#7a5cc8" stroke-width="1.1"/>
<circle cx="171.5" cy="114.1" r="2.2" fill="#fdfafd" fill-opacity="0.6" stroke="#7a5cc8" stroke-width="1.1"/>
<circle cx="48.3" cy="77.3" r="2.2" fill="#fdfafd" fill-opacity="0.6" stroke="#7a5cc8" stroke-width="1.1"/>
<circle cx="97.2" cy="99.8" r="2.2" fill="#fdfafd" fill-opacity="0.6" stroke="#7a5cc8" stroke-width="1.1"/>
<circle cx="39.0" cy="114.3" r="2.2" fill="#fdfafd" fill-opacity="0.6" stroke="#7a5cc8" stroke-width="1.1"/>
<circle cx="201.0" cy="98.1" r="2.2" fill="#fdfafd" fill-opacity="0.6" stroke="#7a5cc8" stroke-width="1.1"/>
<circle cx="186.0" cy="129.5" r="2.2" fill="#fdfafd" fill-opacity="0.6" stroke="#7a5cc8" stroke-width="1.1"/>
<circle cx="77.8" cy="117.3" r="2.2" fill="#fdfafd" fill-opacity="0.6" stroke="#7a5cc8" stroke-width="1.1"/>
</svg>
<rect x="662.6" y="860.4" width="203.7" height="140.1" fill="none" stroke="#111" stroke-width="2"/>
<rect x="841.6" y="993.8" width="15.6" height="2.6" fill="#000"/>
<line x1="128.35" y1="66.00" x2="128.35" y2="292.40" stroke="#000" stroke-width="2.6" stroke-linecap="butt"/>
<line x1="121.05" y1="291.10" x2="396.70" y2="291.10" stroke="#000" stroke-width="2.6" stroke-linecap="butt"/>
<line x1="121.05" y1="291.10" x2="128.35" y2="291.10" stroke="#000" stroke-width="2.6" stroke-linecap="butt"/>
<line x1="121.05" y1="246.20" x2="128.35" y2="246.20" stroke="#000" stroke-width="2.6" stroke-linecap="butt"/>
<line x1="121.05" y1="201.30" x2="128.35" y2="201.30" stroke="#000" stroke-width="2.6" stroke-linecap="butt"/>
<line x1="121.05" y1="156.40" x2="128.35" y2="156.40" stroke="#000" stroke-width="2.6" stroke-linecap="butt"/>
<line x1="121.05" y1="111.50" x2="128.35" y2="111.50" stroke="#000" stroke-width="2.6" stroke-linecap="butt"/>
<line x1="121.05" y1="66.60" x2="128.35" y2="66.60" stroke="#000" stroke-width="2.6" stroke-linecap="butt"/>
<line x1="169.60" y1="247.00" x2="169.60" y2="244.00" stroke="#000" stroke-width="2.4" stroke-linecap="butt"/>
<line x1="159.47" y1="244.00" x2="179.72" y2="244.00" stroke="#000" stroke-width="2.6" stroke-linecap="butt"/>
<rect x="150.15" y="247.80" width="38.90" height="43.30" fill="#1a41fb" stroke="#000" stroke-width="1.6"/>
<line x1="231.10" y1="247.20" x2="231.10" y2="243.80" stroke="#000" stroke-width="2.4" stroke-linecap="butt"/>
<line x1="220.97" y1="243.80" x2="241.22" y2="243.80" stroke="#000" stroke-width="2.6" stroke-linecap="butt"/>
<rect x="211.65" y="248.00" width="38.90" height="43.10" fill="#fb0c0c" stroke="#000" stroke-width="1.6"/>
<line x1="292.90" y1="273.30" x2="292.90" y2="272.40" stroke="#000" stroke-width="2.4" stroke-linecap="butt"/>
<line x1="282.90" y1="272.40" x2="302.90" y2="272.40" stroke="#000" stroke-width="2.6" stroke-linecap="butt"/>
<rect x="273.70" y="274.10" width="38.40" height="17.00" fill="#76791a" stroke="#000" stroke-width="1.6"/>
<line x1="354.40" y1="247.00" x2="354.40" y2="243.50" stroke="#000" stroke-width="2.4" stroke-linecap="butt"/>
<line x1="344.40" y1="243.50" x2="364.40" y2="243.50" stroke="#000" stroke-width="2.6" stroke-linecap="butt"/>
<rect x="335.20" y="247.80" width="38.40" height="43.30" fill="#6831fb" stroke="#000" stroke-width="1.6"/>
<rect x="137.70" y="57.30" width="25.20" height="15.30" fill="#1a41fb" stroke="#000" stroke-width="1.9"/>
<rect x="137.70" y="87.30" width="25.20" height="15.30" fill="#fb0c0c" stroke="#000" stroke-width="1.9"/>
<rect x="137.70" y="117.40" width="25.20" height="15.30" fill="#76791a" stroke="#000" stroke-width="1.9"/>
<rect x="137.70" y="147.50" width="25.20" height="15.30" fill="#6831fb" stroke="#000" stroke-width="1.9"/>
<polyline points="167.80,204.60 167.80,197.50 288.90,197.50 288.90,204.60" fill="none" stroke="#000" stroke-width="2.7" stroke-linejoin="miter"/>
<polyline points="167.80,235.80 167.80,228.50 227.70,228.50 227.70,235.80" fill="none" stroke="#000" stroke-width="2.7" stroke-linejoin="miter"/>
<polyline points="233.30,235.80 233.30,228.50 354.40,228.50 354.40,235.80" fill="none" stroke="#000" stroke-width="2.7" stroke-linejoin="miter"/>
<line x1="523.90" y1="66.40" x2="523.90" y2="292.80" stroke="#000" stroke-width="2.6" stroke-linecap="butt"/>
<line x1="516.60" y1="291.50" x2="925.60" y2="291.50" stroke="#000" stroke-width="2.6" stroke-linecap="butt"/>
<line x1="516.60" y1="291.50" x2="523.90" y2="291.50" stroke="#000" stroke-width="2.6" stroke-linecap="butt"/>
<line x1="516.60" y1="235.20" x2="523.90" y2="235.20" stroke="#000" stroke-width="2.6" stroke-linecap="butt"/>
<line x1="516.60" y1="178.90" x2="523.90" y2="178.90" stroke="#000" stroke-width="2.6" stroke-linecap="butt"/>
<line x1="516.60" y1="122.60" x2="523.90" y2="122.60" stroke="#000" stroke-width="2.6" stroke-linecap="butt"/>
<line x1="516.60" y1="66.30" x2="523.90" y2="66.30" stroke="#000" stroke-width="2.6" stroke-linecap="butt"/>
<line x1="553.40" y1="235.40" x2="553.40" y2="234.10" stroke="#000" stroke-width="2.4" stroke-linecap="butt"/>
<line x1="546.02" y1="234.10" x2="560.77" y2="234.10" stroke="#000" stroke-width="2.6" stroke-linecap="butt"/>
<rect x="539.45" y="236.20" width="27.90" height="55.30" fill="#1a41fb" stroke="#000" stroke-width="1.6"/>
<line x1="598.00" y1="236.00" x2="598.00" y2="235.00" stroke="#000" stroke-width="2.4" stroke-linecap="butt"/>
<line x1="590.62" y1="235.00" x2="605.38" y2="235.00" stroke="#000" stroke-width="2.6" stroke-linecap="butt"/>
<rect x="584.05" y="236.80" width="27.90" height="54.70" fill="#fb0c0c" stroke="#000" stroke-width="1.6"/>
<line x1="642.40" y1="264.40" x2="642.40" y2="263.60" stroke="#000" stroke-width="2.4" stroke-linecap="butt"/>
<line x1="635.02" y1="263.60" x2="649.77" y2="263.60" stroke="#000" stroke-width="2.6" stroke-linecap="butt"/>
<rect x="628.45" y="265.20" width="27.90" height="26.30" fill="#76791a" stroke="#000" stroke-width="1.6"/>
<line x1="686.90" y1="238.20" x2="686.90" y2="237.00" stroke="#000" stroke-width="2.4" stroke-linecap="butt"/>
<line x1="679.52" y1="237.00" x2="694.27" y2="237.00" stroke="#000" stroke-width="2.6" stroke-linecap="butt"/>
<rect x="672.95" y="239.00" width="27.90" height="52.50" fill="#6831fb" stroke="#000" stroke-width="1.6"/>
<line x1="760.90" y1="235.40" x2="760.90" y2="234.40" stroke="#000" stroke-width="2.4" stroke-linecap="butt"/>
<line x1="753.52" y1="234.40" x2="768.27" y2="234.40" stroke="#000" stroke-width="2.6" stroke-linecap="butt"/>
<rect x="746.95" y="236.20" width="27.90" height="55.30" fill="#1a41fb" stroke="#000" stroke-width="1.6"/>
<line x1="805.20" y1="238.30" x2="805.20" y2="237.00" stroke="#000" stroke-width="2.4" stroke-linecap="butt"/>
<line x1="797.83" y1="237.00" x2="812.58" y2="237.00" stroke="#000" stroke-width="2.6" stroke-linecap="butt"/>
<rect x="791.25" y="239.10" width="27.90" height="52.40" fill="#fb0c0c" stroke="#000" stroke-width="1.6"/>
<line x1="850.00" y1="271.00" x2="850.00" y2="268.80" stroke="#000" stroke-width="2.4" stroke-linecap="butt"/>
<line x1="842.62" y1="268.80" x2="857.38" y2="268.80" stroke="#000" stroke-width="2.6" stroke-linecap="butt"/>
<rect x="836.05" y="271.80" width="27.90" height="19.70" fill="#76791a" stroke="#000" stroke-width="1.6"/>
<line x1="894.40" y1="235.00" x2="894.40" y2="231.80" stroke="#000" stroke-width="2.4" stroke-linecap="butt"/>
<line x1="887.02" y1="231.80" x2="901.77" y2="231.80" stroke="#000" stroke-width="2.6" stroke-linecap="butt"/>
<rect x="880.45" y="235.80" width="27.90" height="55.70" fill="#6831fb" stroke="#000" stroke-width="1.6"/>
<rect x="532.80" y="62.80" width="25.20" height="15.30" fill="#1a41fb" stroke="#000" stroke-width="1.9"/>
<rect x="532.80" y="88.00" width="25.20" height="15.30" fill="#fb0c0c" stroke="#000" stroke-width="1.9"/>
<rect x="532.80" y="113.00" width="25.20" height="15.30" fill="#76791a" stroke="#000" stroke-width="1.9"/>
<rect x="532.80" y="138.30" width="25.20" height="15.30" fill="#6831fb" stroke="#000" stroke-width="1.9"/>
<polyline points="553.60,195.80 553.60,189.10 644.20,189.10 644.20,195.80" fill="none" stroke="#000" stroke-width="2.7" stroke-linejoin="miter"/>
<polyline points="553.60,227.40 553.60,220.30 598.30,220.30 598.30,227.40" fill="none" stroke="#000" stroke-width="2.7" stroke-linejoin="miter"/>
<polyline points="641.80,230.30 641.80,223.30 687.90,223.30 687.90,230.30" fill="none" stroke="#000" stroke-width="2.7" stroke-linejoin="miter"/>
<polyline points="760.50,195.80 760.50,189.30 851.00,189.30 851.00,195.80" fill="none" stroke="#000" stroke-width="2.7" stroke-linejoin="miter"/>
<polyline points="760.50,227.40 760.50,220.70 804.80,220.70 804.80,227.40" fill="none" stroke="#000" stroke-width="2.7" stroke-linejoin="miter"/>
<polyline points="849.90,227.40 849.90,220.70 895.70,220.70 895.70,227.40" fill="none" stroke="#000" stroke-width="2.7" stroke-linejoin="miter"/>
<line x1="1039.70" y1="430.50" x2="1039.70" y2="656.60" stroke="#000" stroke-width="2.6" stroke-linecap="butt"/>
<line x1="1032.40" y1="655.30" x2="1304.00" y2="655.30" stroke="#000" stroke-width="2.6" stroke-linecap="butt"/>
<line x1="1032.40" y1="655.30" x2="1039.70" y2="655.30" stroke="#000" stroke-width="2.6" stroke-linecap="butt"/>
<line x1="1032.40" y1="599.10" x2="1039.70" y2="599.10" stroke="#000" stroke-width="2.6" stroke-linecap="butt"/>
<line x1="1032.40" y1="542.90" x2="1039.70" y2="542.90" stroke="#000" stroke-width="2.6" stroke-linecap="butt"/>
<line x1="1032.40" y1="486.70" x2="1039.70" y2="486.70" stroke="#000" stroke-width="2.6" stroke-linecap="butt"/>
<line x1="1032.40" y1="430.50" x2="1039.70" y2="430.50" stroke="#000" stroke-width="2.6" stroke-linecap="butt"/>
<line x1="1080.25" y1="585.00" x2="1080.25" y2="583.60" stroke="#000" stroke-width="2.4" stroke-linecap="butt"/>
<line x1="1070.00" y1="583.60" x2="1090.50" y2="583.60" stroke="#000" stroke-width="2.6" stroke-linecap="butt"/>
<rect x="1060.55" y="585.80" width="39.40" height="69.50" fill="#1a41fb" stroke="#000" stroke-width="1.6"/>
<line x1="1141.15" y1="583.20" x2="1141.15" y2="581.60" stroke="#000" stroke-width="2.4" stroke-linecap="butt"/>
<line x1="1130.90" y1="581.60" x2="1151.40" y2="581.60" stroke="#000" stroke-width="2.6" stroke-linecap="butt"/>
<rect x="1121.45" y="584.00" width="39.40" height="71.30" fill="#fb0c0c" stroke="#000" stroke-width="1.6"/>
<line x1="1202.40" y1="617.50" x2="1202.40" y2="616.40" stroke="#000" stroke-width="2.4" stroke-linecap="butt"/>
<line x1="1192.15" y1="616.40" x2="1212.65" y2="616.40" stroke="#000" stroke-width="2.6" stroke-linecap="butt"/>
<rect x="1182.70" y="618.30" width="39.40" height="37.00" fill="#76791a" stroke="#000" stroke-width="1.6"/>
<line x1="1263.45" y1="597.20" x2="1263.45" y2="594.60" stroke="#000" stroke-width="2.4" stroke-linecap="butt"/>
<line x1="1253.20" y1="594.60" x2="1273.70" y2="594.60" stroke="#000" stroke-width="2.6" stroke-linecap="butt"/>
<rect x="1243.75" y="598.00" width="39.40" height="57.30" fill="#6831fb" stroke="#000" stroke-width="1.6"/>
<rect x="1049.20" y="416.60" width="25.10" height="15.30" fill="#1a41fb" stroke="#000" stroke-width="1.9"/>
<rect x="1049.20" y="442.00" width="25.10" height="15.30" fill="#fb0c0c" stroke="#000" stroke-width="1.9"/>
<rect x="1049.20" y="467.60" width="25.10" height="15.30" fill="#76791a" stroke="#000" stroke-width="1.9"/>
<rect x="1049.20" y="492.60" width="25.10" height="15.30" fill="#6831fb" stroke="#000" stroke-width="1.9"/>
<polyline points="1081.30,546.00 1081.30,539.00 1197.50,539.00 1197.50,546.00" fill="none" stroke="#000" stroke-width="2.7" stroke-linejoin="miter"/>
<polyline points="1077.80,577.50 1077.80,570.50 1139.70,570.50 1139.70,577.50" fill="none" stroke="#000" stroke-width="2.7" stroke-linejoin="miter"/>
<polyline points="1145.00,577.50 1145.00,570.50 1264.00,570.50 1264.00,577.50" fill="none" stroke="#000" stroke-width="2.7" stroke-linejoin="miter"/>
<line x1="1039.70" y1="768.00" x2="1039.70" y2="994.00" stroke="#000" stroke-width="2.6" stroke-linecap="butt"/>
<line x1="1032.40" y1="992.70" x2="1305.00" y2="992.70" stroke="#000" stroke-width="2.6" stroke-linecap="butt"/>
<line x1="1032.40" y1="992.70" x2="1039.70" y2="992.70" stroke="#000" stroke-width="2.6" stroke-linecap="butt"/>
<line x1="1032.40" y1="936.55" x2="1039.70" y2="936.55" stroke="#000" stroke-width="2.6" stroke-linecap="butt"/>
<line x1="1032.40" y1="880.40" x2="1039.70" y2="880.40" stroke="#000" stroke-width="2.6" stroke-linecap="butt"/>
<line x1="1032.40" y1="824.25" x2="1039.70" y2="824.25" stroke="#000" stroke-width="2.6" stroke-linecap="butt"/>
<line x1="1032.40" y1="768.10" x2="1039.70" y2="768.10" stroke="#000" stroke-width="2.6" stroke-linecap="butt"/>
<line x1="1080.50" y1="913.50" x2="1080.50" y2="910.00" stroke="#000" stroke-width="2.4" stroke-linecap="butt"/>
<line x1="1070.25" y1="910.00" x2="1090.75" y2="910.00" stroke="#000" stroke-width="2.6" stroke-linecap="butt"/>
<rect x="1060.80" y="914.30" width="39.40" height="78.40" fill="#1a41fb" stroke="#000" stroke-width="1.6"/>
<line x1="1141.25" y1="908.10" x2="1141.25" y2="906.50" stroke="#000" stroke-width="2.4" stroke-linecap="butt"/>
<line x1="1131.00" y1="906.50" x2="1151.50" y2="906.50" stroke="#000" stroke-width="2.6" stroke-linecap="butt"/>
<rect x="1121.55" y="908.90" width="39.40" height="83.80" fill="#fb0c0c" stroke="#000" stroke-width="1.6"/>
<line x1="1202.00" y1="972.70" x2="1202.00" y2="971.00" stroke="#000" stroke-width="2.4" stroke-linecap="butt"/>
<line x1="1191.75" y1="971.00" x2="1212.25" y2="971.00" stroke="#000" stroke-width="2.6" stroke-linecap="butt"/>
<rect x="1182.30" y="973.50" width="39.40" height="19.20" fill="#76791a" stroke="#000" stroke-width="1.6"/>
<line x1="1262.75" y1="941.70" x2="1262.75" y2="939.50" stroke="#000" stroke-width="2.4" stroke-linecap="butt"/>
<line x1="1252.50" y1="939.50" x2="1273.00" y2="939.50" stroke="#000" stroke-width="2.6" stroke-linecap="butt"/>
<rect x="1243.05" y="942.50" width="39.40" height="50.20" fill="#6831fb" stroke="#000" stroke-width="1.6"/>
<rect x="1048.70" y="754.20" width="25.60" height="15.10" fill="#1a41fb" stroke="#000" stroke-width="1.9"/>
<rect x="1048.70" y="779.60" width="25.60" height="15.10" fill="#fb0c0c" stroke="#000" stroke-width="1.9"/>
<rect x="1048.70" y="803.70" width="25.60" height="15.10" fill="#76791a" stroke="#000" stroke-width="1.9"/>
<rect x="1048.70" y="828.90" width="25.60" height="15.10" fill="#6831fb" stroke="#000" stroke-width="1.9"/>
<polyline points="1078.40,872.00 1078.40,864.90 1194.80,864.90 1194.80,872.00" fill="none" stroke="#000" stroke-width="2.7" stroke-linejoin="miter"/>
<polyline points="1076.50,900.00 1076.50,893.00 1140.40,893.00 1140.40,900.00" fill="none" stroke="#000" stroke-width="2.7" stroke-linejoin="miter"/>
<polyline points="1144.60,900.00 1144.60,893.00 1262.00,893.00 1262.00,900.00" fill="none" stroke="#000" stroke-width="2.7" stroke-linejoin="miter"/>
<line x1="1040.10" y1="62.60" x2="1040.10" y2="290.50" stroke="#000" stroke-width="2.6" stroke-linecap="butt"/>
<line x1="1033.10" y1="289.20" x2="1318.00" y2="289.20" stroke="#000" stroke-width="2.6" stroke-linecap="butt"/>
<line x1="1033.10" y1="289.20" x2="1040.10" y2="289.20" stroke="#000" stroke-width="2.6" stroke-linecap="butt"/>
<line x1="1033.10" y1="232.65" x2="1040.10" y2="232.65" stroke="#000" stroke-width="2.6" stroke-linecap="butt"/>
<line x1="1033.10" y1="176.10" x2="1040.10" y2="176.10" stroke="#000" stroke-width="2.6" stroke-linecap="butt"/>
<line x1="1033.10" y1="119.55" x2="1040.10" y2="119.55" stroke="#000" stroke-width="2.6" stroke-linecap="butt"/>
<line x1="1033.10" y1="63.00" x2="1040.10" y2="63.00" stroke="#000" stroke-width="2.6" stroke-linecap="butt"/>
<line x1="1082.00" y1="289.20" x2="1082.00" y2="296.00" stroke="#000" stroke-width="2.6" stroke-linecap="butt"/>
<line x1="1146.30" y1="289.20" x2="1146.30" y2="296.00" stroke="#000" stroke-width="2.6" stroke-linecap="butt"/>
<line x1="1210.30" y1="289.20" x2="1210.30" y2="296.00" stroke="#000" stroke-width="2.6" stroke-linecap="butt"/>
<line x1="1274.00" y1="289.20" x2="1274.00" y2="296.00" stroke="#000" stroke-width="2.6" stroke-linecap="butt"/>
<polyline points="1312.50,102.30 1322.00,102.30 1322.00,134.80 1312.50,134.80" fill="none" stroke="#000" stroke-width="2.6" stroke-linejoin="miter"/>
<polyline points="1284.80,110.60 1294.30,110.60 1294.30,177.00 1284.80,177.00" fill="none" stroke="#000" stroke-width="2.6" stroke-linejoin="miter"/>
<polyline points="1082.30,266.90 1146.40,259.60 1210.50,230.50 1274.60,178.80" fill="none" stroke="#76791a" stroke-width="2.0" stroke-linejoin="round"/>
<line x1="1210.50" y1="230.50" x2="1210.50" y2="224.80" stroke="#76791a" stroke-width="1.8" stroke-linecap="butt"/>
<line x1="1206.00" y1="224.80" x2="1215.00" y2="224.80" stroke="#76791a" stroke-width="2.0" stroke-linecap="butt"/>
<line x1="1274.60" y1="178.80" x2="1274.60" y2="173.40" stroke="#76791a" stroke-width="1.8" stroke-linecap="butt"/>
<line x1="1270.10" y1="173.40" x2="1279.10" y2="173.40" stroke="#76791a" stroke-width="2.0" stroke-linecap="butt"/>
<polygon points="1077.60,270.89 1087.00,270.89 1082.30,262.90" fill="#76791a"/>
<polygon points="1141.70,263.60 1151.10,263.60 1146.40,255.61" fill="#76791a"/>
<polygon points="1205.80,234.50 1215.20,234.50 1210.50,226.50" fill="#76791a"/>
<polygon points="1269.90,182.80 1279.30,182.80 1274.60,174.81" fill="#76791a"/>
<polyline points="1082.30,266.90 1146.40,255.40 1210.50,214.50 1274.60,132.80" fill="none" stroke="#6831fb" stroke-width="2.0" stroke-linejoin="round"/>
<line x1="1210.50" y1="214.50" x2="1210.50" y2="221.60" stroke="#6831fb" stroke-width="1.8" stroke-linecap="butt"/>
<line x1="1206.00" y1="221.60" x2="1215.00" y2="221.60" stroke="#6831fb" stroke-width="2.0" stroke-linecap="butt"/>
<line x1="1274.60" y1="132.80" x2="1274.60" y2="129.10" stroke="#6831fb" stroke-width="1.8" stroke-linecap="butt"/>
<line x1="1270.10" y1="129.10" x2="1279.10" y2="129.10" stroke="#6831fb" stroke-width="2.0" stroke-linecap="butt"/>
<polygon points="1077.60,262.90 1087.00,262.90 1082.30,270.89" fill="#6831fb"/>
<polygon points="1141.70,251.41 1151.10,251.41 1146.40,259.39" fill="#6831fb"/>
<polygon points="1205.80,210.50 1215.20,210.50 1210.50,218.50" fill="#6831fb"/>
<polygon points="1269.90,128.81 1279.30,128.81 1274.60,136.80" fill="#6831fb"/>
<polyline points="1082.30,266.90 1146.40,255.70 1210.50,199.30 1274.60,104.00" fill="none" stroke="#fb0c0c" stroke-width="2.0" stroke-linejoin="round"/>
<rect x="1077.60" y="262.20" width="9.40" height="9.40" fill="#fb0c0c"/>
<rect x="1141.70" y="251.00" width="9.40" height="9.40" fill="#fb0c0c"/>
<rect x="1205.80" y="194.60" width="9.40" height="9.40" fill="#fb0c0c"/>
<rect x="1269.90" y="99.30" width="9.40" height="9.40" fill="#fb0c0c"/>
<polyline points="1082.30,266.90 1146.40,254.70 1210.50,207.50 1274.60,111.10" fill="none" stroke="#1a41fb" stroke-width="2.0" stroke-linejoin="round"/>
<circle cx="1082.30" cy="266.90" r="4.70" fill="#1a41fb"/>
<circle cx="1146.40" cy="254.70" r="4.70" fill="#1a41fb"/>
<circle cx="1210.50" cy="207.50" r="4.70" fill="#1a41fb"/>
<circle cx="1274.60" cy="111.10" r="4.70" fill="#1a41fb"/>
<line x1="1045.30" y1="54.30" x2="1069.60" y2="54.30" stroke="#1a41fb" stroke-width="2.2" stroke-linecap="butt"/>
<circle cx="1057.40" cy="54.30" r="4.94" fill="#1a41fb"/>
<line x1="1045.30" y1="81.50" x2="1069.60" y2="81.50" stroke="#fb0c0c" stroke-width="2.2" stroke-linecap="butt"/>
<rect x="1052.47" y="76.56" width="9.87" height="9.87" fill="#fb0c0c"/>
<line x1="1045.30" y1="124.20" x2="1069.60" y2="124.20" stroke="#76791a" stroke-width="2.2" stroke-linecap="butt"/>
<polygon points="1052.47,128.39 1062.34,128.39 1057.40,120.01" fill="#76791a"/>
<line x1="1045.30" y1="182.30" x2="1069.60" y2="182.30" stroke="#6831fb" stroke-width="2.2" stroke-linecap="butt"/>
<polygon points="1052.47,178.11 1062.34,178.11 1057.40,186.49" fill="#6831fb"/>
<text transform="translate(0.84,33.80) scale(1.0501,1)" font-size="44.20" font-weight="bold" fill="#000">A</text>
<text transform="translate(402.53,34.00) scale(0.9580,1)" font-size="44.49" font-weight="bold" fill="#000">B</text>
<text transform="translate(907.98,34.15) scale(0.9010,1)" font-size="45.07" font-weight="bold" fill="#000">C</text>
<text transform="translate(2.90,380.60) scale(0.9380,1)" font-size="44.20" font-weight="bold" fill="#000">D</text>
<text transform="translate(915.24,380.60) scale(0.9280,1)" font-size="44.06" font-weight="bold" fill="#000">E</text>
<text transform="translate(2.91,765.62) scale(0.9384,1)" font-size="44.09" font-weight="bold" fill="#000">F</text>
<text transform="translate(915.30,760.36) scale(0.9614,1)" font-size="44.23" font-weight="bold" fill="#000">G</text>
<text transform="translate(103.20,300.87) scale(1.0560,1)" font-size="28.31" fill="#000">0</text>
<text transform="translate(101.92,256.25) scale(1.1336,1)" font-size="29.13" fill="#000">1</text>
<text transform="translate(102.84,211.35) scale(1.0869,1)" font-size="28.71" fill="#000">2</text>
<text transform="translate(103.19,166.17) scale(1.0672,1)" font-size="28.31" fill="#000">3</text>
<text transform="translate(103.69,121.55) scale(0.9749,1)" font-size="29.13" fill="#000">4</text>
<text transform="translate(103.20,76.36) scale(1.0411,1)" font-size="28.71" fill="#000">5</text>
<text transform="translate(178.07,73.35) scale(0.9701,1)" font-size="25.21" fill="#000">UBE3B-WT</text>
<text transform="translate(178.10,103.65) scale(0.9540,1)" font-size="25.21" fill="#000">UBE3B-DM</text>
<text transform="translate(178.08,133.85) scale(0.9605,1)" font-size="25.21" fill="#000">UBE3B-WT+VHL</text>
<text transform="translate(178.11,163.85) scale(0.9464,1)" font-size="25.21" fill="#000">UBE3B-DM+VHL</text>
<text transform="translate(206.57,197.85) scale(1.1609,1)" font-size="24.57" fill="#000">****</text>
<text transform="translate(185.66,223.91) scale(0.9179,1)" font-size="29.09" fill="#000">ns</text>
<text transform="translate(283.87,223.91) scale(0.9143,1)" font-size="29.09" fill="#000">ns</text>
<text transform="translate(188.96,325.52) scale(0.9925,1)" font-size="28.17" fill="#000">DKO+2P2A</text>
<text transform="translate(62.92,287.77) rotate(-90) scale(0.9538,1)" font-size="28.44" fill="#000">Relative luciferase</text>
<text transform="translate(86.95,214.78) rotate(-90) scale(0.9602,1)" font-size="27.38" fill="#000">activity</text>
<text transform="translate(497.10,301.02) scale(1.0829,1)" font-size="27.61" fill="#000">0</text>
<text transform="translate(495.82,245.00) scale(1.1626,1)" font-size="28.41" fill="#000">1</text>
<text transform="translate(496.74,188.70) scale(1.1146,1)" font-size="28.00" fill="#000">2</text>
<text transform="translate(497.09,132.12) scale(1.0944,1)" font-size="27.61" fill="#000">3</text>
<text transform="translate(497.59,76.10) scale(0.9998,1)" font-size="28.41" fill="#000">4</text>
<text transform="translate(573.17,79.24) scale(0.9533,1)" font-size="25.63" fill="#000">UBE3B-WT</text>
<text transform="translate(573.20,104.44) scale(0.9367,1)" font-size="25.63" fill="#000">UBE3B-DM</text>
<text transform="translate(573.18,129.54) scale(0.9447,1)" font-size="25.63" fill="#000">UBE3B-WT+VHL</text>
<text transform="translate(573.21,154.74) scale(0.9329,1)" font-size="25.63" fill="#000">UBE3B-DM+VHL</text>
<text transform="translate(645.47,42.62) scale(0.9813,1)" font-size="28.45" fill="#000">DKO+2P2A</text>
<text transform="translate(574.38,190.26) scale(1.1448,1)" font-size="24.29" fill="#000">****</text>
<text transform="translate(562.49,214.71) scale(0.9207,1)" font-size="28.55" fill="#000">ns</text>
<text transform="translate(642.78,225.86) scale(1.1448,1)" font-size="24.29" fill="#000">****</text>
<text transform="translate(781.28,190.26) scale(1.1448,1)" font-size="24.29" fill="#000">****</text>
<text transform="translate(769.19,214.71) scale(0.9207,1)" font-size="28.55" fill="#000">ns</text>
<text transform="translate(850.08,222.06) scale(1.1583,1)" font-size="24.29" fill="#000">****</text>
<text transform="translate(573.16,324.31) scale(0.9454,1)" font-size="29.01" fill="#000">VEGFA</text>
<text transform="translate(779.83,324.31) scale(0.9428,1)" font-size="29.01" fill="#000">CCND1</text>
<text transform="translate(485.22,308.09) rotate(-90) scale(0.9654,1)" font-size="28.30" fill="#000">Relative mRNA levels</text>
<text transform="translate(1012.79,664.92) scale(1.0871,1)" font-size="27.89" fill="#000">0</text>
<text transform="translate(998.20,608.72) scale(1.0075,1)" font-size="27.89" fill="#000">20</text>
<text transform="translate(998.91,552.52) scale(0.9835,1)" font-size="27.89" fill="#000">40</text>
<text transform="translate(998.20,496.32) scale(1.0075,1)" font-size="27.89" fill="#000">60</text>
<text transform="translate(998.34,440.12) scale(1.0026,1)" font-size="27.89" fill="#000">80</text>
<text transform="translate(1089.67,432.75) scale(0.9716,1)" font-size="25.07" fill="#000">UBE3B-WT</text>
<text transform="translate(1089.70,457.95) scale(0.9586,1)" font-size="25.07" fill="#000">UBE3B-DM</text>
<text transform="translate(1089.69,482.95) scale(0.9633,1)" font-size="25.07" fill="#000">UBE3B-WT+VHL</text>
<text transform="translate(1089.71,507.95) scale(0.9507,1)" font-size="25.07" fill="#000">UBE3B-DM+VHL</text>
<text transform="translate(1118.29,537.95) scale(1.1209,1)" font-size="24.57" fill="#000">****</text>
<text transform="translate(1094.22,563.91) scale(0.9611,1)" font-size="28.55" fill="#000">ns</text>
<text transform="translate(1204.13,570.26) scale(1.0091,1)" font-size="24.29" fill="#000">*</text>
<text transform="translate(1097.27,690.22) scale(0.9911,1)" font-size="28.17" fill="#000">DKO+2P2A</text>
<text transform="translate(979.48,637.24) rotate(-90) scale(0.9383,1)" font-size="28.66" fill="#000">Colony numbers</text>
<text transform="translate(1012.59,1002.42) scale(1.0762,1)" font-size="28.17" fill="#000">0</text>
<text transform="translate(998.71,946.27) scale(0.9737,1)" font-size="28.17" fill="#000">40</text>
<text transform="translate(998.14,890.12) scale(0.9926,1)" font-size="28.17" fill="#000">80</text>
<text transform="translate(982.92,833.97) scale(0.9862,1)" font-size="28.17" fill="#000">120</text>
<text transform="translate(982.92,777.82) scale(0.9862,1)" font-size="28.17" fill="#000">160</text>
<text transform="translate(1089.67,770.15) scale(0.9827,1)" font-size="24.79" fill="#000">UBE3B-WT</text>
<text transform="translate(1089.70,794.95) scale(0.9695,1)" font-size="24.79" fill="#000">UBE3B-DM</text>
<text transform="translate(1089.69,819.35) scale(0.9742,1)" font-size="24.79" fill="#000">UBE3B-WT+VHL</text>
<text transform="translate(1089.71,843.95) scale(0.9615,1)" font-size="24.79" fill="#000">UBE3B-DM+VHL</text>
<text transform="translate(1117.98,868.35) scale(1.1370,1)" font-size="24.86" fill="#000">****</text>
<text transform="translate(1098.21,887.02) scale(0.8808,1)" font-size="27.82" fill="#000">ns</text>
<text transform="translate(1175.17,897.85) scale(1.1634,1)" font-size="24.86" fill="#000">****</text>
<text transform="translate(1097.57,1025.72) scale(0.9876,1)" font-size="28.17" fill="#000">DKO+2P2A</text>
<text transform="translate(980.71,950.57) rotate(-90) scale(0.9187,1)" font-size="28.71" fill="#000">Invaded cells</text>
<text transform="translate(1015.91,298.14) scale(1.0561,1)" font-size="25.92" fill="#000">0</text>
<text transform="translate(1015.91,241.59) scale(1.0412,1)" font-size="26.29" fill="#000">5</text>
<text transform="translate(1001.19,185.04) scale(1.0341,1)" font-size="25.92" fill="#000">10</text>
<text transform="translate(1001.18,128.49) scale(1.0247,1)" font-size="26.29" fill="#000">15</text>
<text transform="translate(1001.89,71.94) scale(1.0089,1)" font-size="25.92" fill="#000">20</text>
<text transform="translate(1075.29,319.56) scale(1.0428,1)" font-size="24.23" fill="#000">0</text>
<text transform="translate(1132.51,319.80) scale(1.0106,1)" font-size="24.57" fill="#000">24</text>
<text transform="translate(1197.14,319.56) scale(1.0152,1)" font-size="24.23" fill="#000">48</text>
<text transform="translate(1260.18,319.80) scale(1.0356,1)" font-size="24.57" fill="#000">72</text>
<text transform="translate(1315.73,317.35) scale(0.9416,1)" font-size="25.31" fill="#000">hrs</text>
<text transform="translate(1108.48,349.04) scale(0.9517,1)" font-size="26.48" fill="#000">DKO+2P2A</text>
<text transform="translate(989.80,284.83) rotate(-90) scale(0.9106,1)" font-size="26.99" fill="#000">Cell numbers (x 10<tspan dy="-0.62em" font-size="0.7em">5</tspan><tspan dy="0.44em">)</tspan></text>
<text transform="translate(1082.08,62.24) scale(1.0003,1)" font-size="25.63" fill="#000">UBE3B-WT</text>
<text transform="translate(1082.07,90.04) scale(1.0021,1)" font-size="25.63" fill="#000">UBE3B-DM</text>
<text transform="translate(1082.08,118.04) scale(1.0003,1)" font-size="25.63" fill="#000">UBE3B-WT</text>
<text transform="translate(1082.73,146.90) scale(0.9614,1)" font-size="26.38" fill="#000">+VHL</text>
<text transform="translate(1082.07,176.64) scale(1.0021,1)" font-size="25.63" fill="#000">UBE3B-DM</text>
<text transform="translate(1082.73,204.90) scale(0.9614,1)" font-size="26.38" fill="#000">+VHL</text>
<text transform="translate(1347.73,139.38) rotate(-90) scale(0.9422,1)" font-size="27.14" fill="#000">****</text>
<text transform="translate(1317.55,166.70) rotate(-90) scale(1.0510,1)" font-size="25.14" fill="#000">****</text>
<text transform="translate(55.15,442.92) scale(1.0034,1)" font-size="28.03" fill="#000">DKO+2P2A+</text>
<text transform="translate(64.20,475.91) scale(0.9775,1)" font-size="28.59" fill="#000">UBE3B-WT</text>
<text transform="translate(261.46,442.92) scale(0.9990,1)" font-size="28.03" fill="#000">DKO+2P2A+</text>
<text transform="translate(270.48,475.91) scale(0.9864,1)" font-size="28.59" fill="#000">UBE3B-DM</text>
<text transform="translate(486.65,409.22) scale(0.9902,1)" font-size="28.45" fill="#000">DKO+2P2A</text>
<text transform="translate(487.40,442.52) scale(0.9957,1)" font-size="28.17" fill="#000">UBE3B-WT</text>
<text transform="translate(525.00,476.00) scale(1.0268,1)" font-size="27.25" fill="#000">+VHL</text>
<text transform="translate(691.36,409.22) scale(0.9854,1)" font-size="28.45" fill="#000">DKO+2P2A</text>
<text transform="translate(692.08,442.52) scale(1.0048,1)" font-size="28.17" fill="#000">UBE3B-DM</text>
<text transform="translate(728.70,476.00) scale(1.0268,1)" font-size="27.25" fill="#000">+VHL</text>
<text transform="translate(59.06,811.43) scale(1.0320,1)" font-size="27.18" fill="#000">DKO+2P2A+</text>
<text transform="translate(68.14,844.71) scale(0.9556,1)" font-size="28.73" fill="#000">UBE3B-WT</text>
<text transform="translate(266.46,811.43) scale(1.0320,1)" font-size="27.18" fill="#000">DKO+2P2A+</text>
<text transform="translate(275.50,844.71) scale(0.9733,1)" font-size="28.73" fill="#000">UBE3B-DM</text>
<text transform="translate(485.96,778.32) scale(0.9861,1)" font-size="28.45" fill="#000">DKO+2P2A</text>
<text transform="translate(486.70,811.72) scale(0.9858,1)" font-size="28.45" fill="#000">UBE3B-WT</text>
<text transform="translate(525.00,845.40) scale(1.0268,1)" font-size="27.25" fill="#000">+VHL</text>
<text transform="translate(692.95,778.32) scale(0.9902,1)" font-size="28.45" fill="#000">DKO+2P2A</text>
<text transform="translate(693.67,811.72) scale(0.9976,1)" font-size="28.45" fill="#000">UBE3B-DM</text>
<text transform="translate(731.30,845.40) scale(1.0268,1)" font-size="27.25" fill="#000">+VHL</text>
</svg>
</body></html>
